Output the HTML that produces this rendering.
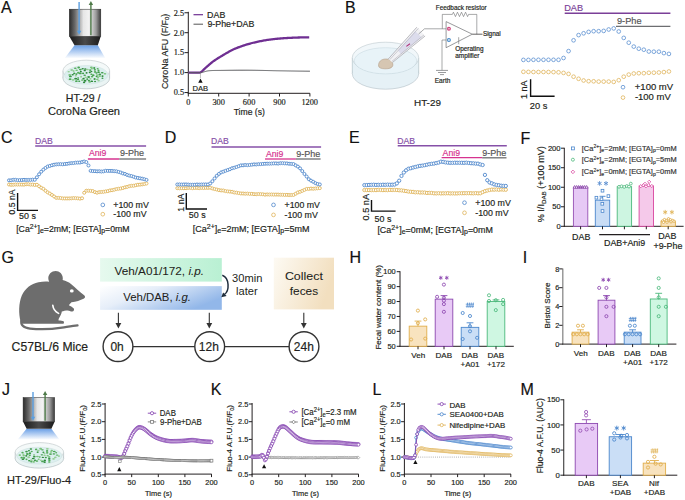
<!DOCTYPE html>
<html><head><meta charset="utf-8"><style>html,body{margin:0;padding:0;background:#fff;}svg{display:block;}</style></head>
<body><svg width="685" height="500" viewBox="0 0 685 500">
<rect width="685" height="500" fill="#fff"/>
<text x="1.10" y="12.60" font-size="16" font-family='"Liberation Sans", sans-serif' fill="#111" stroke="#111" stroke-width="0.18">A</text>
<text x="345.10" y="13.30" font-size="16" font-family='"Liberation Sans", sans-serif' fill="#111" stroke="#111" stroke-width="0.18">B</text>
<text x="1.00" y="143.30" font-size="16" font-family='"Liberation Sans", sans-serif' fill="#111" stroke="#111" stroke-width="0.18">C</text>
<text x="164.70" y="143.40" font-size="16" font-family='"Liberation Sans", sans-serif' fill="#111" stroke="#111" stroke-width="0.18">D</text>
<text x="348.90" y="143.40" font-size="16" font-family='"Liberation Sans", sans-serif' fill="#111" stroke="#111" stroke-width="0.18">E</text>
<text x="520.50" y="143.60" font-size="16" font-family='"Liberation Sans", sans-serif' fill="#111" stroke="#111" stroke-width="0.18">F</text>
<text x="1.40" y="262.60" font-size="16" font-family='"Liberation Sans", sans-serif' fill="#111" stroke="#111" stroke-width="0.18">G</text>
<text x="349.60" y="263.30" font-size="16" font-family='"Liberation Sans", sans-serif' fill="#111" stroke="#111" stroke-width="0.18">H</text>
<text x="522.70" y="262.60" font-size="16" font-family='"Liberation Sans", sans-serif' fill="#111" stroke="#111" stroke-width="0.18">I</text>
<text x="1.90" y="394.80" font-size="16" font-family='"Liberation Sans", sans-serif' fill="#111" stroke="#111" stroke-width="0.18">J</text>
<text x="210.70" y="394.50" font-size="16" font-family='"Liberation Sans", sans-serif' fill="#111" stroke="#111" stroke-width="0.18">K</text>
<text x="372.60" y="394.50" font-size="16" font-family='"Liberation Sans", sans-serif' fill="#111" stroke="#111" stroke-width="0.18">L</text>
<text x="520.50" y="394.80" font-size="16" font-family='"Liberation Sans", sans-serif' fill="#111" stroke="#111" stroke-width="0.18">M</text>
<defs>
<linearGradient id="obja" x1="0" x2="1" y1="0" y2="0">
<stop offset="0" stop-color="#2b2b2b"/><stop offset="0.18" stop-color="#6a6a6a"/><stop offset="0.45" stop-color="#e6e6e6"/><stop offset="0.62" stop-color="#f2f2f2"/><stop offset="0.85" stop-color="#9a9a9a"/><stop offset="1" stop-color="#3a3a3a"/></linearGradient>
<linearGradient id="objba" x1="0" x2="1" y1="0" y2="0">
<stop offset="0" stop-color="#1a1a1a"/><stop offset="0.5" stop-color="#4a4a4a"/><stop offset="1" stop-color="#1a1a1a"/></linearGradient>
<linearGradient id="conea" x1="0" x2="0" y1="0" y2="1">
<stop offset="0" stop-color="#6a9fe6"/><stop offset="1" stop-color="#ffffff"/></linearGradient>
</defs>
<path d="M74.50,45.20 L97.80,45.20 L105.50,58.50 L64.50,58.50 Z" fill="url(#conea)"/>
<rect x="69.30" y="9.20" width="31.50" height="27.10" fill="url(#obja)" stroke="#222" stroke-width="0.5"/>
<path d="M69.30,36.30 L100.80,36.30 L97.80,45.20 L74.50,45.20 Z" fill="url(#objba)"/>
<line x1="79.1" y1="2.0" x2="79.1" y2="31.799999999999997" stroke="#5b9ee0" stroke-width="1.4"/>
<path d="M76.89999999999999,30.799999999999997 L81.3,30.799999999999997 L79.1,34.8 Z" fill="#5b9ee0"/>
<line x1="90.9" y1="35.2" x2="90.9" y2="4.0" stroke="#4e7a48" stroke-width="1.4"/>
<path d="M88.7,5.0 L93.10000000000001,5.0 L90.9,1.0 Z" fill="#4e7a48"/>
<ellipse cx="86.3" cy="78.2" rx="23.3" ry="10.6" fill="#eaf4f4" stroke="#b4bfc1" stroke-width="0.7"/>
<rect x="63.0" y="70.8" width="46.6" height="7.4" fill="#eaf4f4"/>
<line x1="63.0" y1="70.8" x2="63.0" y2="78.2" stroke="#b4bfc1" stroke-width="0.7"/>
<line x1="109.6" y1="70.8" x2="109.6" y2="78.2" stroke="#b4bfc1" stroke-width="0.7"/>
<ellipse cx="86.3" cy="70.8" rx="23.3" ry="10.6" fill="#f4f9f9" stroke="#c4cccd" stroke-width="0.7"/>
<ellipse cx="86.3" cy="74.87" rx="21.669" ry="9.328" fill="#dcefef" stroke="#cddede" stroke-width="0.5"/>
<ellipse cx="75.80" cy="75.64" rx="1.06" ry="0.93" fill="#96cf96"/>
<ellipse cx="81.09" cy="76.68" rx="1.03" ry="0.88" fill="#96cf96"/>
<ellipse cx="91.34" cy="67.32" rx="1.49" ry="0.94" fill="#7bc27b"/>
<ellipse cx="76.66" cy="70.25" rx="1.24" ry="0.84" fill="#7bc27b"/>
<ellipse cx="99.78" cy="74.46" rx="1.41" ry="0.86" fill="#3d9a48"/>
<ellipse cx="91.87" cy="68.80" rx="1.16" ry="0.71" fill="#7bc27b"/>
<ellipse cx="91.70" cy="81.27" rx="1.48" ry="0.85" fill="#2e8a3a"/>
<ellipse cx="87.23" cy="79.06" rx="1.05" ry="0.87" fill="#3d9a48"/>
<ellipse cx="96.65" cy="76.45" rx="1.09" ry="0.71" fill="#3d9a48"/>
<ellipse cx="95.07" cy="81.46" rx="1.09" ry="0.83" fill="#3d9a48"/>
<ellipse cx="82.09" cy="80.10" rx="1.10" ry="0.94" fill="#7bc27b"/>
<ellipse cx="84.08" cy="82.44" rx="1.17" ry="0.82" fill="#2e8a3a"/>
<ellipse cx="71.71" cy="69.95" rx="1.47" ry="0.71" fill="#7bc27b"/>
<ellipse cx="104.95" cy="73.76" rx="1.38" ry="0.86" fill="#7bc27b"/>
<ellipse cx="91.38" cy="71.41" rx="1.04" ry="0.77" fill="#2e8a3a"/>
<ellipse cx="86.59" cy="72.89" rx="1.06" ry="0.80" fill="#2e8a3a"/>
<ellipse cx="89.68" cy="81.90" rx="1.27" ry="0.89" fill="#7bc27b"/>
<ellipse cx="102.52" cy="76.07" rx="1.09" ry="0.88" fill="#2e8a3a"/>
<ellipse cx="94.87" cy="69.85" rx="1.19" ry="0.93" fill="#4aa552"/>
<ellipse cx="99.59" cy="76.15" rx="1.46" ry="0.79" fill="#7bc27b"/>
<ellipse cx="82.71" cy="68.80" rx="1.22" ry="0.81" fill="#2e8a3a"/>
<ellipse cx="78.04" cy="79.54" rx="1.24" ry="0.77" fill="#4aa552"/>
<ellipse cx="95.05" cy="71.93" rx="1.25" ry="0.89" fill="#55ad5a"/>
<ellipse cx="78.67" cy="67.52" rx="1.35" ry="0.94" fill="#4aa552"/>
<ellipse cx="74.17" cy="73.27" rx="1.08" ry="0.88" fill="#3d9a48"/>
<ellipse cx="102.20" cy="72.75" rx="1.41" ry="0.72" fill="#3d9a48"/>
<ellipse cx="84.71" cy="75.22" rx="1.34" ry="0.72" fill="#4aa552"/>
<ellipse cx="92.07" cy="76.53" rx="1.30" ry="0.90" fill="#55ad5a"/>
<ellipse cx="88.67" cy="76.96" rx="1.44" ry="0.92" fill="#3d9a48"/>
<ellipse cx="83.54" cy="78.70" rx="1.23" ry="0.92" fill="#2e8a3a"/>
<ellipse cx="91.40" cy="74.28" rx="1.17" ry="0.79" fill="#4aa552"/>
<ellipse cx="94.59" cy="79.01" rx="1.10" ry="0.90" fill="#3d9a48"/>
<ellipse cx="76.33" cy="74.11" rx="1.17" ry="0.78" fill="#3d9a48"/>
<ellipse cx="80.85" cy="71.61" rx="1.04" ry="0.86" fill="#2e8a3a"/>
<ellipse cx="78.30" cy="72.73" rx="1.34" ry="0.94" fill="#55ad5a"/>
<ellipse cx="98.48" cy="70.33" rx="1.07" ry="0.95" fill="#4aa552"/>
<ellipse cx="94.24" cy="67.95" rx="1.11" ry="0.94" fill="#3d9a48"/>
<ellipse cx="75.28" cy="68.28" rx="1.43" ry="0.83" fill="#55ad5a"/>
<ellipse cx="87.49" cy="69.49" rx="1.39" ry="0.85" fill="#96cf96"/>
<ellipse cx="98.59" cy="80.75" rx="1.39" ry="0.82" fill="#96cf96"/>
<ellipse cx="73.62" cy="71.02" rx="1.04" ry="0.91" fill="#96cf96"/>
<ellipse cx="98.57" cy="72.18" rx="1.30" ry="0.91" fill="#3d9a48"/>
<ellipse cx="83.08" cy="73.30" rx="1.10" ry="0.92" fill="#3d9a48"/>
<ellipse cx="102.48" cy="78.24" rx="1.05" ry="0.80" fill="#3d9a48"/>
<ellipse cx="76.38" cy="81.16" rx="1.31" ry="0.86" fill="#4aa552"/>
<ellipse cx="80.36" cy="69.61" rx="1.44" ry="0.79" fill="#4aa552"/>
<ellipse cx="73.13" cy="79.94" rx="1.33" ry="0.89" fill="#96cf96"/>
<ellipse cx="69.71" cy="74.91" rx="1.42" ry="0.85" fill="#7bc27b"/>
<ellipse cx="89.77" cy="72.45" rx="1.10" ry="0.83" fill="#2e8a3a"/>
<ellipse cx="84.73" cy="70.44" rx="1.15" ry="0.86" fill="#2e8a3a"/>
<ellipse cx="98.02" cy="77.78" rx="1.17" ry="0.82" fill="#7bc27b"/>
<ellipse cx="70.40" cy="76.40" rx="1.46" ry="0.87" fill="#3d9a48"/>
<ellipse cx="97.02" cy="75.07" rx="1.21" ry="0.86" fill="#7bc27b"/>
<ellipse cx="68.71" cy="71.81" rx="1.26" ry="0.76" fill="#96cf96"/>
<ellipse cx="88.86" cy="80.57" rx="1.17" ry="0.81" fill="#3d9a48"/>
<ellipse cx="96.46" cy="73.02" rx="1.13" ry="0.78" fill="#3d9a48"/>
<ellipse cx="80.30" cy="73.45" rx="1.47" ry="0.88" fill="#4aa552"/>
<ellipse cx="93.27" cy="75.17" rx="1.31" ry="0.93" fill="#4aa552"/>
<ellipse cx="85.65" cy="77.36" rx="1.43" ry="0.79" fill="#96cf96"/>
<ellipse cx="70.10" cy="79.18" rx="1.45" ry="0.94" fill="#55ad5a"/>
<ellipse cx="85.02" cy="80.69" rx="1.45" ry="0.95" fill="#2e8a3a"/>
<ellipse cx="75.67" cy="78.65" rx="1.50" ry="0.93" fill="#2e8a3a"/>
<ellipse cx="97.22" cy="79.34" rx="1.48" ry="0.70" fill="#7bc27b"/>
<ellipse cx="78.11" cy="77.93" rx="1.01" ry="0.74" fill="#3d9a48"/>
<ellipse cx="90.36" cy="78.81" rx="1.26" ry="0.86" fill="#96cf96"/>
<ellipse cx="79.21" cy="81.31" rx="1.10" ry="0.75" fill="#3d9a48"/>
<ellipse cx="72.71" cy="74.82" rx="1.22" ry="0.79" fill="#2e8a3a"/>
<ellipse cx="90.17" cy="70.07" rx="1.10" ry="0.90" fill="#4aa552"/>
<ellipse cx="97.65" cy="68.67" rx="1.05" ry="0.77" fill="#55ad5a"/>
<ellipse cx="85.28" cy="69.04" rx="1.22" ry="0.75" fill="#2e8a3a"/>
<text x="65.80" y="101.80" font-size="10.6" font-family='"Liberation Sans", sans-serif' fill="#231f20" stroke="#231f20" stroke-width="0.18">HT-29 /</text>
<text x="47.90" y="115.20" font-size="11.1" font-family='"Liberation Sans", sans-serif' fill="#231f20" stroke="#231f20" stroke-width="0.18">CoroNa Green</text>
<line x1="188.30" y1="11.80" x2="188.30" y2="93.80" stroke="#231f20" stroke-width="1"/>
<line x1="187.80" y1="93.30" x2="309.90" y2="93.30" stroke="#231f20" stroke-width="1"/>
<line x1="184.50" y1="92.55" x2="188.30" y2="92.55" stroke="#231f20" stroke-width="1"/>
<text x="173.70" y="95.35" font-size="8.3" font-family='"Liberation Serif", serif' fill="#231f20" stroke="#231f20" stroke-width="0.18">0.5</text>
<line x1="184.50" y1="72.60" x2="188.30" y2="72.60" stroke="#231f20" stroke-width="1"/>
<text x="173.70" y="75.40" font-size="8.3" font-family='"Liberation Serif", serif' fill="#231f20" stroke="#231f20" stroke-width="0.18">1.0</text>
<line x1="184.50" y1="52.65" x2="188.30" y2="52.65" stroke="#231f20" stroke-width="1"/>
<text x="173.70" y="55.45" font-size="8.3" font-family='"Liberation Serif", serif' fill="#231f20" stroke="#231f20" stroke-width="0.18">1.5</text>
<line x1="184.50" y1="32.70" x2="188.30" y2="32.70" stroke="#231f20" stroke-width="1"/>
<text x="173.70" y="35.50" font-size="8.3" font-family='"Liberation Serif", serif' fill="#231f20" stroke="#231f20" stroke-width="0.18">2.0</text>
<line x1="184.50" y1="12.75" x2="188.30" y2="12.75" stroke="#231f20" stroke-width="1"/>
<text x="173.70" y="15.55" font-size="8.3" font-family='"Liberation Serif", serif' fill="#231f20" stroke="#231f20" stroke-width="0.18">2.5</text>
<line x1="188.30" y1="93.30" x2="188.30" y2="96.50" stroke="#231f20" stroke-width="1"/>
<text x="186.25" y="105.20" font-size="8.3" font-family='"Liberation Serif", serif' fill="#231f20" stroke="#231f20" stroke-width="0.18">0</text>
<line x1="218.70" y1="93.30" x2="218.70" y2="96.50" stroke="#231f20" stroke-width="1"/>
<text x="212.45" y="105.20" font-size="8.3" font-family='"Liberation Serif", serif' fill="#231f20" stroke="#231f20" stroke-width="0.18">300</text>
<line x1="249.10" y1="93.30" x2="249.10" y2="96.50" stroke="#231f20" stroke-width="1"/>
<text x="242.85" y="105.20" font-size="8.3" font-family='"Liberation Serif", serif' fill="#231f20" stroke="#231f20" stroke-width="0.18">600</text>
<line x1="279.50" y1="93.30" x2="279.50" y2="96.50" stroke="#231f20" stroke-width="1"/>
<text x="273.30" y="105.20" font-size="8.3" font-family='"Liberation Serif", serif' fill="#231f20" stroke="#231f20" stroke-width="0.18">900</text>
<line x1="309.90" y1="93.30" x2="309.90" y2="96.50" stroke="#231f20" stroke-width="1"/>
<text x="301.40" y="105.20" font-size="8.3" font-family='"Liberation Serif", serif' fill="#231f20" stroke="#231f20" stroke-width="0.18">1200</text>
<text x="233.70" y="115.20" font-size="8.6" font-family='"Liberation Sans", sans-serif' fill="#231f20" stroke="#231f20" stroke-width="0.18">Time (s)</text>
<text transform="translate(164.30,50.50) rotate(-90)" x="-38.55" y="3.20" font-size="8.9" font-family='"Liberation Sans", sans-serif' fill="#231f20" stroke="#231f20" stroke-width="0.18">CoroNa AFU (F/F<tspan font-size="6" dy="1.8">0</tspan><tspan dy="-1.8">)</tspan></text>
<path d="M188.30,72.60 L200.20,72.60 L201.20,71.84 L202.20,71.08 L203.20,70.17 L204.20,69.19 L205.20,68.19 L206.20,67.26 L207.20,66.41 L208.20,65.54 L209.20,64.68 L210.20,63.82 L211.20,62.98 L212.20,62.18 L213.20,61.42 L214.20,60.71 L215.20,60.02 L216.20,59.36 L217.20,58.72 L218.20,58.09 L219.20,57.48 L220.20,56.87 L221.20,56.27 L222.20,55.68 L223.20,55.08 L224.20,54.48 L225.20,53.88 L226.20,53.29 L227.20,52.70 L228.20,52.13 L229.20,51.57 L230.20,51.02 L231.20,50.50 L232.20,50.00 L233.20,49.52 L234.20,49.07 L235.20,48.64 L236.20,48.23 L237.20,47.83 L238.20,47.44 L239.20,47.07 L240.20,46.71 L241.20,46.35 L242.20,45.99 L243.20,45.65 L244.20,45.32 L245.20,44.99 L246.20,44.68 L247.20,44.38 L248.20,44.08 L249.20,43.80 L250.20,43.52 L251.20,43.25 L252.20,42.99 L253.20,42.75 L254.20,42.51 L255.20,42.28 L256.20,42.06 L257.20,41.84 L258.20,41.64 L259.20,41.44 L260.20,41.24 L261.20,41.04 L262.20,40.85 L263.20,40.66 L264.20,40.48 L265.20,40.31 L266.20,40.14 L267.20,39.98 L268.20,39.82 L269.20,39.67 L270.20,39.53 L271.20,39.39 L272.20,39.27 L273.20,39.15 L274.20,39.04 L275.20,38.93 L276.20,38.83 L277.20,38.74 L278.20,38.65 L279.20,38.56 L280.20,38.48 L281.20,38.40 L282.20,38.32 L283.20,38.25 L284.20,38.19 L285.20,38.13 L286.20,38.07 L287.20,38.02 L288.20,37.96 L289.20,37.91 L290.20,37.86 L291.20,37.81 L292.20,37.76 L293.20,37.71 L294.20,37.67 L295.20,37.63 L296.20,37.59 L297.20,37.55 L298.20,37.52 L299.20,37.49 L300.20,37.46 L301.20,37.44 L302.20,37.42 L303.20,37.40 L304.20,37.38 L305.20,37.36 L306.20,37.34 L307.20,37.33 L308.20,37.32 L309.20,37.31" fill="none" stroke="#6f2f92" stroke-width="2.3" stroke-linejoin="round"/>
<path d="M188.30,72.60 L189.31,72.61 L190.33,72.62 L191.34,72.65 L192.35,72.68 L193.37,72.71 L194.38,72.73 L195.39,72.75 L196.41,72.76 L197.42,72.75 L198.43,72.72 L199.45,72.68 L200.46,72.60 L201.47,72.47 L202.49,72.26 L203.50,72.00 L204.51,71.72 L205.53,71.44 L206.54,71.17 L207.55,70.96 L208.57,70.80 L209.58,70.71 L210.59,70.63 L211.61,70.57 L212.62,70.52 L213.63,70.49 L214.65,70.46 L215.66,70.45 L216.67,70.44 L217.69,70.43 L218.70,70.43 L219.71,70.42 L220.73,70.41 L221.74,70.39 L222.75,70.38 L223.77,70.36 L224.78,70.35 L225.79,70.33 L226.81,70.32 L227.82,70.31 L228.83,70.29 L229.85,70.28 L230.86,70.27 L231.87,70.26 L232.89,70.25 L233.90,70.24 L234.91,70.23 L235.93,70.22 L236.94,70.21 L237.95,70.21 L238.97,70.20 L239.98,70.20 L240.99,70.19 L242.01,70.19 L243.02,70.19 L244.03,70.19 L245.05,70.19 L246.06,70.19 L247.07,70.20 L248.09,70.20 L249.10,70.21 L250.11,70.21 L251.13,70.22 L252.14,70.23 L253.15,70.25 L254.17,70.26 L255.18,70.28 L256.19,70.30 L257.21,70.31 L258.22,70.33 L259.23,70.35 L260.25,70.38 L261.26,70.40 L262.27,70.42 L263.29,70.44 L264.30,70.47 L265.31,70.49 L266.33,70.52 L267.34,70.54 L268.35,70.57 L269.37,70.59 L270.38,70.61 L271.39,70.64 L272.41,70.66 L273.42,70.69 L274.43,70.71 L275.45,70.73 L276.46,70.75 L277.47,70.77 L278.49,70.79 L279.50,70.80 L280.51,70.82 L281.53,70.84 L282.54,70.85 L283.55,70.87 L284.57,70.89 L285.58,70.90 L286.59,70.92 L287.61,70.94 L288.62,70.95 L289.63,70.97 L290.65,70.98 L291.66,71.00 L292.67,71.01 L293.69,71.03 L294.70,71.04 L295.71,71.06 L296.73,71.07 L297.74,71.08 L298.75,71.10 L299.77,71.11 L300.78,71.12 L301.79,71.13 L302.81,71.14 L303.82,71.15 L304.83,71.16 L305.85,71.17 L306.86,71.18 L307.87,71.19 L308.89,71.20 L309.90,71.20" fill="none" stroke="#5a5b5e" stroke-width="1.0"/>
<path d="M198.26,82.8 L202.66,82.8 L200.46,78.4 Z" fill="#111"/>
<line x1="200.46" y1="72.80" x2="200.46" y2="78.00" stroke="#999" stroke-width="0.6"/>
<text x="192.50" y="90.60" font-size="7.6" font-family='"Liberation Sans", sans-serif' fill="#231f20" stroke="#231f20" stroke-width="0.18">DAB</text>
<line x1="193.50" y1="14.70" x2="203.00" y2="14.70" stroke="#6f2f92" stroke-width="1.2"/>
<line x1="193.50" y1="24.20" x2="203.00" y2="24.20" stroke="#555" stroke-width="1.0"/>
<text x="207.10" y="17.70" font-size="8.85" font-family='"Liberation Sans", sans-serif' fill="#231f20" stroke="#231f20" stroke-width="0.18">DAB</text>
<text x="207.40" y="27.10" font-size="8.85" font-family='"Liberation Sans", sans-serif' fill="#231f20" stroke="#231f20" stroke-width="0.18">9-Phe+DAB</text>
<ellipse cx="385.5" cy="73.6" rx="33.2" ry="15.6" fill="#e6f1f6" stroke="#b4c0c6" stroke-width="0.6"/>
<rect x="352.3" y="57.8" width="66.4" height="15.8" fill="#e6f1f6"/>
<line x1="352.30" y1="57.80" x2="352.30" y2="73.60" stroke="#aab8bf" stroke-width="0.6"/>
<line x1="418.70" y1="57.80" x2="418.70" y2="73.60" stroke="#aab8bf" stroke-width="0.6"/>
<ellipse cx="385.5" cy="57.8" rx="33.2" ry="15.6" fill="#f1f7fa" stroke="#bcc8cd" stroke-width="0.6"/>
<ellipse cx="385.5" cy="60.8" rx="31.200000000000003" ry="13.1" fill="#e8f3f8" stroke="#c2d4dc" stroke-width="0.5"/>
<path d="M378.6,66.0 C378.2,61.8 381.2,59.1 385.6,59.0 C390.2,58.9 393.2,61.6 392.8,65.4 C392.4,68.0 388.6,68.9 384.8,68.8 C381.2,68.7 378.8,67.8 378.6,66.0 Z" fill="#d6c6b2" stroke="#b49e88" stroke-width="0.6"/>
<path d="M388.2,59.1 L416.8,27.2 L418.6,28.5 L424.0,34.9 L425.1,36.0 L392.6,62.4 Z" fill="#f1f1f4" stroke="none"/>
<path d="M398,50.5 L415.2,31.2 L421.6,37.2 L401,54.2 Z" fill="#dcdcec" stroke="none"/>
<path d="M388.2,59.1 L416.8,27.2" fill="none" stroke="#8c8c92" stroke-width="0.55"/>
<path d="M389.8,59.6 L418.5,28.3" fill="none" stroke="#9a9aa0" stroke-width="0.45"/>
<path d="M392.0,61.3 L424.0,34.9" fill="none" stroke="#9a9aa0" stroke-width="0.45"/>
<path d="M392.6,62.4 L425.1,36.0" fill="none" stroke="#8c8c92" stroke-width="0.55"/>
<path d="M406.3,46.4 L410.0,43.8" fill="none" stroke="#b0307a" stroke-width="1.1"/>
<path d="M418.6,34.0 L424.5,28.8 L446.1,28.8" fill="none" stroke="#6d6e71" stroke-width="0.6"/>
<path d="M442.3,28.8 L442.3,14.4 L452.4,14.4" fill="none" stroke="#6d6e71" stroke-width="0.6"/>
<path d="M452.40,14.40 L453.41,12.20 L455.44,16.60 L457.46,12.20 L459.49,16.60 L461.51,12.20 L463.54,16.60 L465.56,12.20 L467.59,16.60 L468.60,14.40 L476.8,14.4 L476.8,34.2" fill="none" stroke="#6d6e71" stroke-width="0.6"/>
<path d="M446.1,21.6 L446.1,47.7 L472.3,34.2 Z" fill="#fff" stroke="#6d6e71" stroke-width="0.7"/>
<path d="M472.3,34.2 L482.5,34.2" fill="none" stroke="#231f20" stroke-width="0.7"/>
<line x1="458.70" y1="37.20" x2="458.70" y2="44.20" stroke="#6d6e71" stroke-width="0.6"/>
<circle cx="448.90" cy="28.80" r="2.00" fill="#d0457f" stroke="none" stroke-width="1"/>
<line x1="447.80" y1="28.80" x2="450.00" y2="28.80" stroke="#fff" stroke-width="0.7"/>
<circle cx="448.90" cy="40.00" r="2.00" fill="#3d85c6" stroke="none" stroke-width="1"/>
<line x1="447.80" y1="40.00" x2="450.00" y2="40.00" stroke="#fff" stroke-width="0.7"/>
<line x1="448.90" y1="38.90" x2="448.90" y2="41.10" stroke="#fff" stroke-width="0.7"/>
<path d="M446.1,40 L442,40 L442,70.3" fill="none" stroke="#6d6e71" stroke-width="0.6"/>
<line x1="436.00" y1="70.40" x2="448.00" y2="70.40" stroke="#6d6e71" stroke-width="0.7"/>
<line x1="438.00" y1="72.50" x2="446.00" y2="72.50" stroke="#6d6e71" stroke-width="0.7"/>
<line x1="440.00" y1="74.60" x2="444.00" y2="74.60" stroke="#6d6e71" stroke-width="0.7"/>
<text x="435.80" y="9.90" font-size="6.4" font-family='"Liberation Sans", sans-serif' fill="#231f20" stroke="#231f20" stroke-width="0.18">Feedback resistor</text>
<text x="482.90" y="36.40" font-size="6.4" font-family='"Liberation Sans", sans-serif' fill="#231f20" stroke="#231f20" stroke-width="0.18">Signal</text>
<text x="455.20" y="51.40" font-size="6.45" font-family='"Liberation Sans", sans-serif' fill="#231f20" stroke="#231f20" stroke-width="0.18">Operating</text>
<text x="455.20" y="57.80" font-size="6.45" font-family='"Liberation Sans", sans-serif' fill="#231f20" stroke="#231f20" stroke-width="0.18">amplifier</text>
<text x="434.70" y="83.20" font-size="6.6" font-family='"Liberation Sans", sans-serif' fill="#231f20" stroke="#231f20" stroke-width="0.18">Earth</text>
<text x="414.00" y="106.00" font-size="9.9" font-family='"Liberation Sans", sans-serif' fill="#231f20" stroke="#231f20" stroke-width="0.18">HT-29</text>
<circle cx="523.40" cy="71.80" r="1.85" fill="#fff" stroke="#e0b45a" stroke-width="0.8"/>
<circle cx="528.42" cy="71.90" r="1.85" fill="#fff" stroke="#e0b45a" stroke-width="0.8"/>
<circle cx="533.43" cy="72.00" r="1.85" fill="#fff" stroke="#e0b45a" stroke-width="0.8"/>
<circle cx="538.45" cy="72.00" r="1.85" fill="#fff" stroke="#e0b45a" stroke-width="0.8"/>
<circle cx="543.47" cy="72.00" r="1.85" fill="#fff" stroke="#e0b45a" stroke-width="0.8"/>
<circle cx="548.49" cy="72.00" r="1.85" fill="#fff" stroke="#e0b45a" stroke-width="0.8"/>
<circle cx="553.50" cy="72.10" r="1.85" fill="#fff" stroke="#e0b45a" stroke-width="0.8"/>
<circle cx="558.52" cy="72.30" r="1.85" fill="#fff" stroke="#e0b45a" stroke-width="0.8"/>
<circle cx="563.54" cy="72.90" r="1.85" fill="#fff" stroke="#e0b45a" stroke-width="0.8"/>
<circle cx="568.56" cy="73.90" r="1.85" fill="#fff" stroke="#e0b45a" stroke-width="0.8"/>
<circle cx="573.57" cy="76.70" r="1.85" fill="#fff" stroke="#e0b45a" stroke-width="0.8"/>
<circle cx="578.59" cy="78.80" r="1.85" fill="#fff" stroke="#e0b45a" stroke-width="0.8"/>
<circle cx="583.61" cy="80.50" r="1.85" fill="#fff" stroke="#e0b45a" stroke-width="0.8"/>
<circle cx="588.62" cy="81.20" r="1.85" fill="#fff" stroke="#e0b45a" stroke-width="0.8"/>
<circle cx="593.64" cy="81.30" r="1.85" fill="#fff" stroke="#e0b45a" stroke-width="0.8"/>
<circle cx="598.66" cy="81.60" r="1.85" fill="#fff" stroke="#e0b45a" stroke-width="0.8"/>
<circle cx="603.68" cy="81.60" r="1.85" fill="#fff" stroke="#e0b45a" stroke-width="0.8"/>
<circle cx="608.69" cy="81.60" r="1.85" fill="#fff" stroke="#e0b45a" stroke-width="0.8"/>
<circle cx="613.71" cy="81.90" r="1.85" fill="#fff" stroke="#e0b45a" stroke-width="0.8"/>
<circle cx="618.73" cy="80.20" r="1.85" fill="#fff" stroke="#e0b45a" stroke-width="0.8"/>
<circle cx="623.74" cy="76.70" r="1.85" fill="#fff" stroke="#e0b45a" stroke-width="0.8"/>
<circle cx="628.76" cy="74.60" r="1.85" fill="#fff" stroke="#e0b45a" stroke-width="0.8"/>
<circle cx="633.78" cy="73.50" r="1.85" fill="#fff" stroke="#e0b45a" stroke-width="0.8"/>
<circle cx="638.80" cy="73.20" r="1.85" fill="#fff" stroke="#e0b45a" stroke-width="0.8"/>
<circle cx="643.81" cy="73.20" r="1.85" fill="#fff" stroke="#e0b45a" stroke-width="0.8"/>
<circle cx="648.83" cy="72.80" r="1.85" fill="#fff" stroke="#e0b45a" stroke-width="0.8"/>
<circle cx="653.85" cy="72.70" r="1.85" fill="#fff" stroke="#e0b45a" stroke-width="0.8"/>
<circle cx="658.87" cy="72.50" r="1.85" fill="#fff" stroke="#e0b45a" stroke-width="0.8"/>
<circle cx="663.88" cy="72.10" r="1.85" fill="#fff" stroke="#e0b45a" stroke-width="0.8"/>
<circle cx="668.90" cy="71.50" r="1.85" fill="#fff" stroke="#e0b45a" stroke-width="0.8"/>
<circle cx="523.40" cy="59.90" r="1.85" fill="#fff" stroke="#5b8fd0" stroke-width="0.8"/>
<circle cx="528.42" cy="59.90" r="1.85" fill="#fff" stroke="#5b8fd0" stroke-width="0.8"/>
<circle cx="533.43" cy="59.80" r="1.85" fill="#fff" stroke="#5b8fd0" stroke-width="0.8"/>
<circle cx="538.45" cy="59.80" r="1.85" fill="#fff" stroke="#5b8fd0" stroke-width="0.8"/>
<circle cx="543.47" cy="59.80" r="1.85" fill="#fff" stroke="#5b8fd0" stroke-width="0.8"/>
<circle cx="548.49" cy="59.80" r="1.85" fill="#fff" stroke="#5b8fd0" stroke-width="0.8"/>
<circle cx="553.50" cy="59.80" r="1.85" fill="#fff" stroke="#5b8fd0" stroke-width="0.8"/>
<circle cx="558.52" cy="59.80" r="1.85" fill="#fff" stroke="#5b8fd0" stroke-width="0.8"/>
<circle cx="563.54" cy="58.00" r="1.85" fill="#fff" stroke="#5b8fd0" stroke-width="0.8"/>
<circle cx="568.56" cy="51.10" r="1.85" fill="#fff" stroke="#5b8fd0" stroke-width="0.8"/>
<circle cx="573.57" cy="40.30" r="1.85" fill="#fff" stroke="#5b8fd0" stroke-width="0.8"/>
<circle cx="578.59" cy="35.10" r="1.85" fill="#fff" stroke="#5b8fd0" stroke-width="0.8"/>
<circle cx="583.61" cy="33.30" r="1.85" fill="#fff" stroke="#5b8fd0" stroke-width="0.8"/>
<circle cx="588.62" cy="31.90" r="1.85" fill="#fff" stroke="#5b8fd0" stroke-width="0.8"/>
<circle cx="593.64" cy="31.20" r="1.85" fill="#fff" stroke="#5b8fd0" stroke-width="0.8"/>
<circle cx="598.66" cy="31.20" r="1.85" fill="#fff" stroke="#5b8fd0" stroke-width="0.8"/>
<circle cx="603.68" cy="30.90" r="1.85" fill="#fff" stroke="#5b8fd0" stroke-width="0.8"/>
<circle cx="608.69" cy="29.50" r="1.85" fill="#fff" stroke="#5b8fd0" stroke-width="0.8"/>
<circle cx="613.71" cy="28.40" r="1.85" fill="#fff" stroke="#5b8fd0" stroke-width="0.8"/>
<circle cx="618.73" cy="31.50" r="1.85" fill="#fff" stroke="#5b8fd0" stroke-width="0.8"/>
<circle cx="623.74" cy="37.90" r="1.85" fill="#fff" stroke="#5b8fd0" stroke-width="0.8"/>
<circle cx="628.76" cy="42.70" r="1.85" fill="#fff" stroke="#5b8fd0" stroke-width="0.8"/>
<circle cx="633.78" cy="46.60" r="1.85" fill="#fff" stroke="#5b8fd0" stroke-width="0.8"/>
<circle cx="638.80" cy="48.70" r="1.85" fill="#fff" stroke="#5b8fd0" stroke-width="0.8"/>
<circle cx="643.81" cy="49.70" r="1.85" fill="#fff" stroke="#5b8fd0" stroke-width="0.8"/>
<circle cx="648.83" cy="51.50" r="1.85" fill="#fff" stroke="#5b8fd0" stroke-width="0.8"/>
<circle cx="653.85" cy="51.70" r="1.85" fill="#fff" stroke="#5b8fd0" stroke-width="0.8"/>
<circle cx="658.87" cy="51.70" r="1.85" fill="#fff" stroke="#5b8fd0" stroke-width="0.8"/>
<circle cx="663.88" cy="53.10" r="1.85" fill="#fff" stroke="#5b8fd0" stroke-width="0.8"/>
<circle cx="668.90" cy="53.90" r="1.85" fill="#fff" stroke="#5b8fd0" stroke-width="0.8"/>
<line x1="564.70" y1="13.30" x2="670.40" y2="13.30" stroke="#7b3f98" stroke-width="1.4"/>
<text x="564.20" y="11.00" font-size="9.6" font-family='"Liberation Sans", sans-serif' fill="#7b3f98" textLength="18.90" lengthAdjust="spacingAndGlyphs" stroke="#7b3f98" stroke-width="0.18">DAB</text>
<line x1="616.00" y1="26.30" x2="670.40" y2="26.30" stroke="#6d6e71" stroke-width="1.3"/>
<text x="617.00" y="24.00" font-size="9.2" font-family='"Liberation Sans", sans-serif' fill="#555" stroke="#555" stroke-width="0.18">9-Phe</text>
<path d="M530.6,79.2 L530.6,96.3 L554.6,96.3" fill="none" stroke="#111" stroke-width="1.4"/>
<text x="529.80" y="108.50" font-size="9.3" font-family='"Liberation Sans", sans-serif' fill="#231f20" stroke="#231f20" stroke-width="0.18">20 s</text>
<text transform="translate(523.50,89.40) rotate(-90)" x="-9.60" y="3.10" font-size="9.0" font-family='"Liberation Sans", sans-serif' fill="#231f20" stroke="#231f20" stroke-width="0.18">1 nA</text>
<circle cx="623.00" cy="87.20" r="1.85" fill="#fff" stroke="#5b8fd0" stroke-width="0.8"/>
<circle cx="623.00" cy="97.60" r="1.85" fill="#fff" stroke="#e0b45a" stroke-width="0.8"/>
<text x="634.80" y="90.20" font-size="9.5" font-family='"Liberation Sans", sans-serif' fill="#231f20" stroke="#231f20" stroke-width="0.18">+100 mV</text>
<text x="634.90" y="100.40" font-size="9.5" font-family='"Liberation Sans", sans-serif' fill="#231f20" stroke="#231f20" stroke-width="0.18">-100 mV</text>
<circle cx="9.00" cy="184.52" r="1.50" fill="#fff" stroke="#e0b45a" stroke-width="0.9"/>
<circle cx="11.15" cy="184.84" r="1.50" fill="#fff" stroke="#e0b45a" stroke-width="0.9"/>
<circle cx="13.30" cy="184.77" r="1.50" fill="#fff" stroke="#e0b45a" stroke-width="0.9"/>
<circle cx="15.45" cy="184.49" r="1.50" fill="#fff" stroke="#e0b45a" stroke-width="0.9"/>
<circle cx="17.59" cy="184.57" r="1.50" fill="#fff" stroke="#e0b45a" stroke-width="0.9"/>
<circle cx="19.74" cy="184.52" r="1.50" fill="#fff" stroke="#e0b45a" stroke-width="0.9"/>
<circle cx="21.89" cy="184.59" r="1.50" fill="#fff" stroke="#e0b45a" stroke-width="0.9"/>
<circle cx="24.04" cy="184.63" r="1.50" fill="#fff" stroke="#e0b45a" stroke-width="0.9"/>
<circle cx="26.19" cy="184.25" r="1.50" fill="#fff" stroke="#e0b45a" stroke-width="0.9"/>
<circle cx="28.34" cy="184.19" r="1.50" fill="#fff" stroke="#e0b45a" stroke-width="0.9"/>
<circle cx="30.48" cy="184.61" r="1.50" fill="#fff" stroke="#e0b45a" stroke-width="0.9"/>
<circle cx="32.63" cy="184.59" r="1.50" fill="#fff" stroke="#e0b45a" stroke-width="0.9"/>
<circle cx="34.78" cy="184.94" r="1.50" fill="#fff" stroke="#e0b45a" stroke-width="0.9"/>
<circle cx="36.93" cy="184.75" r="1.50" fill="#fff" stroke="#e0b45a" stroke-width="0.9"/>
<circle cx="39.08" cy="186.28" r="1.50" fill="#fff" stroke="#e0b45a" stroke-width="0.9"/>
<circle cx="41.23" cy="187.77" r="1.50" fill="#fff" stroke="#e0b45a" stroke-width="0.9"/>
<circle cx="43.38" cy="188.87" r="1.50" fill="#fff" stroke="#e0b45a" stroke-width="0.9"/>
<circle cx="45.52" cy="190.78" r="1.50" fill="#fff" stroke="#e0b45a" stroke-width="0.9"/>
<circle cx="47.67" cy="192.38" r="1.50" fill="#fff" stroke="#e0b45a" stroke-width="0.9"/>
<circle cx="49.82" cy="193.57" r="1.50" fill="#fff" stroke="#e0b45a" stroke-width="0.9"/>
<circle cx="51.97" cy="195.01" r="1.50" fill="#fff" stroke="#e0b45a" stroke-width="0.9"/>
<circle cx="54.12" cy="196.49" r="1.50" fill="#fff" stroke="#e0b45a" stroke-width="0.9"/>
<circle cx="56.27" cy="197.90" r="1.50" fill="#fff" stroke="#e0b45a" stroke-width="0.9"/>
<circle cx="58.41" cy="197.88" r="1.50" fill="#fff" stroke="#e0b45a" stroke-width="0.9"/>
<circle cx="60.56" cy="198.05" r="1.50" fill="#fff" stroke="#e0b45a" stroke-width="0.9"/>
<circle cx="62.71" cy="198.40" r="1.50" fill="#fff" stroke="#e0b45a" stroke-width="0.9"/>
<circle cx="64.86" cy="198.45" r="1.50" fill="#fff" stroke="#e0b45a" stroke-width="0.9"/>
<circle cx="67.01" cy="198.45" r="1.50" fill="#fff" stroke="#e0b45a" stroke-width="0.9"/>
<circle cx="69.16" cy="198.43" r="1.50" fill="#fff" stroke="#e0b45a" stroke-width="0.9"/>
<circle cx="71.30" cy="198.34" r="1.50" fill="#fff" stroke="#e0b45a" stroke-width="0.9"/>
<circle cx="73.45" cy="198.09" r="1.50" fill="#fff" stroke="#e0b45a" stroke-width="0.9"/>
<circle cx="75.60" cy="198.19" r="1.50" fill="#fff" stroke="#e0b45a" stroke-width="0.9"/>
<circle cx="77.75" cy="198.34" r="1.50" fill="#fff" stroke="#e0b45a" stroke-width="0.9"/>
<circle cx="79.90" cy="198.62" r="1.50" fill="#fff" stroke="#e0b45a" stroke-width="0.9"/>
<circle cx="82.05" cy="198.25" r="1.50" fill="#fff" stroke="#e0b45a" stroke-width="0.9"/>
<circle cx="84.20" cy="192.78" r="1.50" fill="#fff" stroke="#e0b45a" stroke-width="0.9"/>
<circle cx="86.34" cy="190.73" r="1.50" fill="#fff" stroke="#e0b45a" stroke-width="0.9"/>
<circle cx="88.49" cy="190.69" r="1.50" fill="#fff" stroke="#e0b45a" stroke-width="0.9"/>
<circle cx="90.64" cy="190.84" r="1.50" fill="#fff" stroke="#e0b45a" stroke-width="0.9"/>
<circle cx="92.79" cy="191.08" r="1.50" fill="#fff" stroke="#e0b45a" stroke-width="0.9"/>
<circle cx="94.94" cy="192.12" r="1.50" fill="#fff" stroke="#e0b45a" stroke-width="0.9"/>
<circle cx="97.09" cy="192.69" r="1.50" fill="#fff" stroke="#e0b45a" stroke-width="0.9"/>
<circle cx="99.23" cy="192.14" r="1.50" fill="#fff" stroke="#e0b45a" stroke-width="0.9"/>
<circle cx="101.38" cy="191.94" r="1.50" fill="#fff" stroke="#e0b45a" stroke-width="0.9"/>
<circle cx="103.53" cy="191.82" r="1.50" fill="#fff" stroke="#e0b45a" stroke-width="0.9"/>
<circle cx="105.68" cy="191.40" r="1.50" fill="#fff" stroke="#e0b45a" stroke-width="0.9"/>
<circle cx="107.83" cy="191.09" r="1.50" fill="#fff" stroke="#e0b45a" stroke-width="0.9"/>
<circle cx="109.98" cy="190.42" r="1.50" fill="#fff" stroke="#e0b45a" stroke-width="0.9"/>
<circle cx="112.12" cy="190.20" r="1.50" fill="#fff" stroke="#e0b45a" stroke-width="0.9"/>
<circle cx="114.27" cy="189.68" r="1.50" fill="#fff" stroke="#e0b45a" stroke-width="0.9"/>
<circle cx="116.42" cy="189.06" r="1.50" fill="#fff" stroke="#e0b45a" stroke-width="0.9"/>
<circle cx="118.57" cy="188.76" r="1.50" fill="#fff" stroke="#e0b45a" stroke-width="0.9"/>
<circle cx="120.72" cy="188.47" r="1.50" fill="#fff" stroke="#e0b45a" stroke-width="0.9"/>
<circle cx="122.87" cy="187.99" r="1.50" fill="#fff" stroke="#e0b45a" stroke-width="0.9"/>
<circle cx="125.02" cy="187.34" r="1.50" fill="#fff" stroke="#e0b45a" stroke-width="0.9"/>
<circle cx="127.16" cy="186.92" r="1.50" fill="#fff" stroke="#e0b45a" stroke-width="0.9"/>
<circle cx="129.31" cy="186.17" r="1.50" fill="#fff" stroke="#e0b45a" stroke-width="0.9"/>
<circle cx="131.46" cy="185.80" r="1.50" fill="#fff" stroke="#e0b45a" stroke-width="0.9"/>
<circle cx="133.61" cy="185.74" r="1.50" fill="#fff" stroke="#e0b45a" stroke-width="0.9"/>
<circle cx="135.76" cy="185.22" r="1.50" fill="#fff" stroke="#e0b45a" stroke-width="0.9"/>
<circle cx="137.91" cy="184.76" r="1.50" fill="#fff" stroke="#e0b45a" stroke-width="0.9"/>
<circle cx="140.05" cy="184.62" r="1.50" fill="#fff" stroke="#e0b45a" stroke-width="0.9"/>
<circle cx="142.20" cy="184.36" r="1.50" fill="#fff" stroke="#e0b45a" stroke-width="0.9"/>
<circle cx="144.35" cy="184.02" r="1.50" fill="#fff" stroke="#e0b45a" stroke-width="0.9"/>
<circle cx="146.50" cy="183.54" r="1.50" fill="#fff" stroke="#e0b45a" stroke-width="0.9"/>
<circle cx="9.00" cy="180.33" r="1.50" fill="#fff" stroke="#5088cc" stroke-width="0.9"/>
<circle cx="11.15" cy="180.30" r="1.50" fill="#fff" stroke="#5088cc" stroke-width="0.9"/>
<circle cx="13.30" cy="179.83" r="1.50" fill="#fff" stroke="#5088cc" stroke-width="0.9"/>
<circle cx="15.45" cy="179.82" r="1.50" fill="#fff" stroke="#5088cc" stroke-width="0.9"/>
<circle cx="17.59" cy="180.17" r="1.50" fill="#fff" stroke="#5088cc" stroke-width="0.9"/>
<circle cx="19.74" cy="180.10" r="1.50" fill="#fff" stroke="#5088cc" stroke-width="0.9"/>
<circle cx="21.89" cy="180.04" r="1.50" fill="#fff" stroke="#5088cc" stroke-width="0.9"/>
<circle cx="24.04" cy="179.83" r="1.50" fill="#fff" stroke="#5088cc" stroke-width="0.9"/>
<circle cx="26.19" cy="179.96" r="1.50" fill="#fff" stroke="#5088cc" stroke-width="0.9"/>
<circle cx="28.34" cy="179.93" r="1.50" fill="#fff" stroke="#5088cc" stroke-width="0.9"/>
<circle cx="30.48" cy="179.90" r="1.50" fill="#fff" stroke="#5088cc" stroke-width="0.9"/>
<circle cx="32.63" cy="179.66" r="1.50" fill="#fff" stroke="#5088cc" stroke-width="0.9"/>
<circle cx="34.78" cy="179.77" r="1.50" fill="#fff" stroke="#5088cc" stroke-width="0.9"/>
<circle cx="36.93" cy="177.28" r="1.50" fill="#fff" stroke="#5088cc" stroke-width="0.9"/>
<circle cx="39.08" cy="174.26" r="1.50" fill="#fff" stroke="#5088cc" stroke-width="0.9"/>
<circle cx="41.23" cy="171.70" r="1.50" fill="#fff" stroke="#5088cc" stroke-width="0.9"/>
<circle cx="43.38" cy="169.60" r="1.50" fill="#fff" stroke="#5088cc" stroke-width="0.9"/>
<circle cx="45.52" cy="167.95" r="1.50" fill="#fff" stroke="#5088cc" stroke-width="0.9"/>
<circle cx="47.67" cy="166.53" r="1.50" fill="#fff" stroke="#5088cc" stroke-width="0.9"/>
<circle cx="49.82" cy="165.90" r="1.50" fill="#fff" stroke="#5088cc" stroke-width="0.9"/>
<circle cx="51.97" cy="165.25" r="1.50" fill="#fff" stroke="#5088cc" stroke-width="0.9"/>
<circle cx="54.12" cy="164.71" r="1.50" fill="#fff" stroke="#5088cc" stroke-width="0.9"/>
<circle cx="56.27" cy="164.39" r="1.50" fill="#fff" stroke="#5088cc" stroke-width="0.9"/>
<circle cx="58.41" cy="164.21" r="1.50" fill="#fff" stroke="#5088cc" stroke-width="0.9"/>
<circle cx="60.56" cy="164.14" r="1.50" fill="#fff" stroke="#5088cc" stroke-width="0.9"/>
<circle cx="62.71" cy="164.30" r="1.50" fill="#fff" stroke="#5088cc" stroke-width="0.9"/>
<circle cx="64.86" cy="164.02" r="1.50" fill="#fff" stroke="#5088cc" stroke-width="0.9"/>
<circle cx="67.01" cy="163.82" r="1.50" fill="#fff" stroke="#5088cc" stroke-width="0.9"/>
<circle cx="69.16" cy="163.44" r="1.50" fill="#fff" stroke="#5088cc" stroke-width="0.9"/>
<circle cx="71.30" cy="163.12" r="1.50" fill="#fff" stroke="#5088cc" stroke-width="0.9"/>
<circle cx="73.45" cy="163.05" r="1.50" fill="#fff" stroke="#5088cc" stroke-width="0.9"/>
<circle cx="75.60" cy="162.67" r="1.50" fill="#fff" stroke="#5088cc" stroke-width="0.9"/>
<circle cx="77.75" cy="162.57" r="1.50" fill="#fff" stroke="#5088cc" stroke-width="0.9"/>
<circle cx="79.90" cy="162.52" r="1.50" fill="#fff" stroke="#5088cc" stroke-width="0.9"/>
<circle cx="82.05" cy="162.06" r="1.50" fill="#fff" stroke="#5088cc" stroke-width="0.9"/>
<circle cx="84.20" cy="161.51" r="1.50" fill="#fff" stroke="#5088cc" stroke-width="0.9"/>
<circle cx="86.34" cy="162.09" r="1.50" fill="#fff" stroke="#5088cc" stroke-width="0.9"/>
<circle cx="88.49" cy="165.49" r="1.50" fill="#fff" stroke="#5088cc" stroke-width="0.9"/>
<circle cx="90.64" cy="170.83" r="1.50" fill="#fff" stroke="#5088cc" stroke-width="0.9"/>
<circle cx="92.79" cy="171.08" r="1.50" fill="#fff" stroke="#5088cc" stroke-width="0.9"/>
<circle cx="94.94" cy="171.16" r="1.50" fill="#fff" stroke="#5088cc" stroke-width="0.9"/>
<circle cx="97.09" cy="171.33" r="1.50" fill="#fff" stroke="#5088cc" stroke-width="0.9"/>
<circle cx="99.23" cy="171.26" r="1.50" fill="#fff" stroke="#5088cc" stroke-width="0.9"/>
<circle cx="101.38" cy="171.54" r="1.50" fill="#fff" stroke="#5088cc" stroke-width="0.9"/>
<circle cx="103.53" cy="171.35" r="1.50" fill="#fff" stroke="#5088cc" stroke-width="0.9"/>
<circle cx="105.68" cy="170.78" r="1.50" fill="#fff" stroke="#5088cc" stroke-width="0.9"/>
<circle cx="107.83" cy="170.91" r="1.50" fill="#fff" stroke="#5088cc" stroke-width="0.9"/>
<circle cx="109.98" cy="170.90" r="1.50" fill="#fff" stroke="#5088cc" stroke-width="0.9"/>
<circle cx="112.12" cy="170.95" r="1.50" fill="#fff" stroke="#5088cc" stroke-width="0.9"/>
<circle cx="114.27" cy="171.15" r="1.50" fill="#fff" stroke="#5088cc" stroke-width="0.9"/>
<circle cx="116.42" cy="171.30" r="1.50" fill="#fff" stroke="#5088cc" stroke-width="0.9"/>
<circle cx="118.57" cy="171.95" r="1.50" fill="#fff" stroke="#5088cc" stroke-width="0.9"/>
<circle cx="120.72" cy="172.50" r="1.50" fill="#fff" stroke="#5088cc" stroke-width="0.9"/>
<circle cx="122.87" cy="173.42" r="1.50" fill="#fff" stroke="#5088cc" stroke-width="0.9"/>
<circle cx="125.02" cy="173.94" r="1.50" fill="#fff" stroke="#5088cc" stroke-width="0.9"/>
<circle cx="127.16" cy="174.93" r="1.50" fill="#fff" stroke="#5088cc" stroke-width="0.9"/>
<circle cx="129.31" cy="175.60" r="1.50" fill="#fff" stroke="#5088cc" stroke-width="0.9"/>
<circle cx="131.46" cy="176.05" r="1.50" fill="#fff" stroke="#5088cc" stroke-width="0.9"/>
<circle cx="133.61" cy="176.77" r="1.50" fill="#fff" stroke="#5088cc" stroke-width="0.9"/>
<circle cx="135.76" cy="177.56" r="1.50" fill="#fff" stroke="#5088cc" stroke-width="0.9"/>
<circle cx="137.91" cy="177.95" r="1.50" fill="#fff" stroke="#5088cc" stroke-width="0.9"/>
<circle cx="140.05" cy="178.32" r="1.50" fill="#fff" stroke="#5088cc" stroke-width="0.9"/>
<circle cx="142.20" cy="178.68" r="1.50" fill="#fff" stroke="#5088cc" stroke-width="0.9"/>
<circle cx="144.35" cy="179.22" r="1.50" fill="#fff" stroke="#5088cc" stroke-width="0.9"/>
<circle cx="146.50" cy="179.90" r="1.50" fill="#fff" stroke="#5088cc" stroke-width="0.9"/>
<line x1="35.20" y1="146.00" x2="146.10" y2="146.00" stroke="#8650a8" stroke-width="1.5"/>
<text x="35.00" y="143.70" font-size="9.3" font-family='"Liberation Sans", sans-serif' fill="#8650a8" textLength="17.80" lengthAdjust="spacingAndGlyphs" stroke="#8650a8" stroke-width="0.18">DAB</text>
<line x1="87.90" y1="159.00" x2="119.20" y2="159.00" stroke="#d6338f" stroke-width="1.3"/>
<text x="88.90" y="155.80" font-size="8.7" font-family='"Liberation Sans", sans-serif' fill="#d6338f" stroke="#d6338f" stroke-width="0.18">Ani9</text>
<line x1="119.20" y1="159.00" x2="146.10" y2="159.00" stroke="#6d6e71" stroke-width="1.3"/>
<text x="119.90" y="155.60" font-size="9.0" font-family='"Liberation Sans", sans-serif' fill="#555" stroke="#555" stroke-width="0.18">9-Phe</text>
<path d="M17.6,193.0 L17.6,210.4 L38.0,210.4" fill="none" stroke="#111" stroke-width="1.4"/>
<text transform="translate(12.00,201.90) rotate(-90)" x="-12.55" y="3.00" font-size="8.6" font-family='"Liberation Sans", sans-serif' fill="#231f20" stroke="#231f20" stroke-width="0.18">0.5 nA</text>
<text x="19.10" y="219.40" font-size="8.9" font-family='"Liberation Sans", sans-serif' fill="#231f20" stroke="#231f20" stroke-width="0.18">50 s</text>
<circle cx="102.80" cy="204.90" r="1.85" fill="#fff" stroke="#5088cc" stroke-width="0.8"/>
<text x="113.30" y="207.90" font-size="8.8" font-family='"Liberation Sans", sans-serif' fill="#231f20" stroke="#231f20" stroke-width="0.18">+100 mV</text>
<circle cx="102.80" cy="214.20" r="1.85" fill="#fff" stroke="#e0b45a" stroke-width="0.8"/>
<text x="113.30" y="217.40" font-size="8.8" font-family='"Liberation Sans", sans-serif' fill="#231f20" stroke="#231f20" stroke-width="0.18">-100 mV</text>
<text x="16.20" y="231.80" font-size="8.6" font-family='"Liberation Sans", sans-serif' fill="#231f20" textLength="113.40" lengthAdjust="spacingAndGlyphs" stroke="#231f20" stroke-width="0.18">[Ca<tspan font-size="6.71" dy="-3.0">2+</tspan><tspan dy="3.0">]</tspan><tspan font-size="6.71" dy="1.6">e</tspan><tspan dy="-1.6">=2mM; [EGTA]</tspan><tspan font-size="6.71" dy="1.6">p</tspan><tspan dy="-1.6">=0mM</tspan></text>
<circle cx="177.30" cy="188.19" r="1.50" fill="#fff" stroke="#e0b45a" stroke-width="0.9"/>
<circle cx="179.49" cy="188.28" r="1.50" fill="#fff" stroke="#e0b45a" stroke-width="0.9"/>
<circle cx="181.68" cy="188.18" r="1.50" fill="#fff" stroke="#e0b45a" stroke-width="0.9"/>
<circle cx="183.88" cy="188.24" r="1.50" fill="#fff" stroke="#e0b45a" stroke-width="0.9"/>
<circle cx="186.07" cy="188.22" r="1.50" fill="#fff" stroke="#e0b45a" stroke-width="0.9"/>
<circle cx="188.26" cy="187.96" r="1.50" fill="#fff" stroke="#e0b45a" stroke-width="0.9"/>
<circle cx="190.45" cy="187.90" r="1.50" fill="#fff" stroke="#e0b45a" stroke-width="0.9"/>
<circle cx="192.65" cy="188.20" r="1.50" fill="#fff" stroke="#e0b45a" stroke-width="0.9"/>
<circle cx="194.84" cy="187.93" r="1.50" fill="#fff" stroke="#e0b45a" stroke-width="0.9"/>
<circle cx="197.03" cy="187.89" r="1.50" fill="#fff" stroke="#e0b45a" stroke-width="0.9"/>
<circle cx="199.22" cy="188.16" r="1.50" fill="#fff" stroke="#e0b45a" stroke-width="0.9"/>
<circle cx="201.42" cy="187.92" r="1.50" fill="#fff" stroke="#e0b45a" stroke-width="0.9"/>
<circle cx="203.61" cy="188.03" r="1.50" fill="#fff" stroke="#e0b45a" stroke-width="0.9"/>
<circle cx="205.80" cy="187.85" r="1.50" fill="#fff" stroke="#e0b45a" stroke-width="0.9"/>
<circle cx="207.99" cy="187.89" r="1.50" fill="#fff" stroke="#e0b45a" stroke-width="0.9"/>
<circle cx="210.18" cy="187.71" r="1.50" fill="#fff" stroke="#e0b45a" stroke-width="0.9"/>
<circle cx="212.38" cy="188.45" r="1.50" fill="#fff" stroke="#e0b45a" stroke-width="0.9"/>
<circle cx="214.57" cy="189.09" r="1.50" fill="#fff" stroke="#e0b45a" stroke-width="0.9"/>
<circle cx="216.76" cy="189.50" r="1.50" fill="#fff" stroke="#e0b45a" stroke-width="0.9"/>
<circle cx="218.95" cy="190.12" r="1.50" fill="#fff" stroke="#e0b45a" stroke-width="0.9"/>
<circle cx="221.15" cy="190.42" r="1.50" fill="#fff" stroke="#e0b45a" stroke-width="0.9"/>
<circle cx="223.34" cy="190.51" r="1.50" fill="#fff" stroke="#e0b45a" stroke-width="0.9"/>
<circle cx="225.53" cy="191.12" r="1.50" fill="#fff" stroke="#e0b45a" stroke-width="0.9"/>
<circle cx="227.72" cy="191.38" r="1.50" fill="#fff" stroke="#e0b45a" stroke-width="0.9"/>
<circle cx="229.92" cy="191.60" r="1.50" fill="#fff" stroke="#e0b45a" stroke-width="0.9"/>
<circle cx="232.11" cy="191.82" r="1.50" fill="#fff" stroke="#e0b45a" stroke-width="0.9"/>
<circle cx="234.30" cy="192.48" r="1.50" fill="#fff" stroke="#e0b45a" stroke-width="0.9"/>
<circle cx="236.49" cy="192.66" r="1.50" fill="#fff" stroke="#e0b45a" stroke-width="0.9"/>
<circle cx="238.68" cy="193.08" r="1.50" fill="#fff" stroke="#e0b45a" stroke-width="0.9"/>
<circle cx="240.88" cy="193.46" r="1.50" fill="#fff" stroke="#e0b45a" stroke-width="0.9"/>
<circle cx="243.07" cy="193.50" r="1.50" fill="#fff" stroke="#e0b45a" stroke-width="0.9"/>
<circle cx="245.26" cy="193.70" r="1.50" fill="#fff" stroke="#e0b45a" stroke-width="0.9"/>
<circle cx="247.45" cy="193.60" r="1.50" fill="#fff" stroke="#e0b45a" stroke-width="0.9"/>
<circle cx="249.65" cy="193.87" r="1.50" fill="#fff" stroke="#e0b45a" stroke-width="0.9"/>
<circle cx="251.84" cy="193.84" r="1.50" fill="#fff" stroke="#e0b45a" stroke-width="0.9"/>
<circle cx="254.03" cy="194.14" r="1.50" fill="#fff" stroke="#e0b45a" stroke-width="0.9"/>
<circle cx="256.22" cy="194.23" r="1.50" fill="#fff" stroke="#e0b45a" stroke-width="0.9"/>
<circle cx="258.42" cy="194.03" r="1.50" fill="#fff" stroke="#e0b45a" stroke-width="0.9"/>
<circle cx="260.61" cy="194.15" r="1.50" fill="#fff" stroke="#e0b45a" stroke-width="0.9"/>
<circle cx="262.80" cy="194.29" r="1.50" fill="#fff" stroke="#e0b45a" stroke-width="0.9"/>
<circle cx="264.99" cy="194.63" r="1.50" fill="#fff" stroke="#e0b45a" stroke-width="0.9"/>
<circle cx="267.18" cy="194.45" r="1.50" fill="#fff" stroke="#e0b45a" stroke-width="0.9"/>
<circle cx="269.38" cy="194.56" r="1.50" fill="#fff" stroke="#e0b45a" stroke-width="0.9"/>
<circle cx="271.57" cy="194.47" r="1.50" fill="#fff" stroke="#e0b45a" stroke-width="0.9"/>
<circle cx="273.76" cy="194.59" r="1.50" fill="#fff" stroke="#e0b45a" stroke-width="0.9"/>
<circle cx="275.95" cy="194.57" r="1.50" fill="#fff" stroke="#e0b45a" stroke-width="0.9"/>
<circle cx="278.15" cy="194.59" r="1.50" fill="#fff" stroke="#e0b45a" stroke-width="0.9"/>
<circle cx="280.34" cy="194.72" r="1.50" fill="#fff" stroke="#e0b45a" stroke-width="0.9"/>
<circle cx="282.53" cy="194.76" r="1.50" fill="#fff" stroke="#e0b45a" stroke-width="0.9"/>
<circle cx="284.72" cy="194.92" r="1.50" fill="#fff" stroke="#e0b45a" stroke-width="0.9"/>
<circle cx="286.92" cy="194.87" r="1.50" fill="#fff" stroke="#e0b45a" stroke-width="0.9"/>
<circle cx="289.11" cy="195.00" r="1.50" fill="#fff" stroke="#e0b45a" stroke-width="0.9"/>
<circle cx="291.30" cy="195.01" r="1.50" fill="#fff" stroke="#e0b45a" stroke-width="0.9"/>
<circle cx="293.49" cy="194.95" r="1.50" fill="#fff" stroke="#e0b45a" stroke-width="0.9"/>
<circle cx="295.68" cy="193.73" r="1.50" fill="#fff" stroke="#e0b45a" stroke-width="0.9"/>
<circle cx="297.88" cy="192.45" r="1.50" fill="#fff" stroke="#e0b45a" stroke-width="0.9"/>
<circle cx="300.07" cy="191.78" r="1.50" fill="#fff" stroke="#e0b45a" stroke-width="0.9"/>
<circle cx="302.26" cy="190.87" r="1.50" fill="#fff" stroke="#e0b45a" stroke-width="0.9"/>
<circle cx="304.45" cy="189.90" r="1.50" fill="#fff" stroke="#e0b45a" stroke-width="0.9"/>
<circle cx="306.65" cy="188.92" r="1.50" fill="#fff" stroke="#e0b45a" stroke-width="0.9"/>
<circle cx="308.84" cy="188.88" r="1.50" fill="#fff" stroke="#e0b45a" stroke-width="0.9"/>
<circle cx="311.03" cy="188.58" r="1.50" fill="#fff" stroke="#e0b45a" stroke-width="0.9"/>
<circle cx="313.22" cy="188.73" r="1.50" fill="#fff" stroke="#e0b45a" stroke-width="0.9"/>
<circle cx="315.42" cy="188.53" r="1.50" fill="#fff" stroke="#e0b45a" stroke-width="0.9"/>
<circle cx="317.61" cy="188.31" r="1.50" fill="#fff" stroke="#e0b45a" stroke-width="0.9"/>
<circle cx="319.80" cy="188.13" r="1.50" fill="#fff" stroke="#e0b45a" stroke-width="0.9"/>
<circle cx="177.30" cy="184.49" r="1.50" fill="#fff" stroke="#5088cc" stroke-width="0.9"/>
<circle cx="179.49" cy="184.44" r="1.50" fill="#fff" stroke="#5088cc" stroke-width="0.9"/>
<circle cx="181.68" cy="184.56" r="1.50" fill="#fff" stroke="#5088cc" stroke-width="0.9"/>
<circle cx="183.88" cy="184.46" r="1.50" fill="#fff" stroke="#5088cc" stroke-width="0.9"/>
<circle cx="186.07" cy="184.43" r="1.50" fill="#fff" stroke="#5088cc" stroke-width="0.9"/>
<circle cx="188.26" cy="184.56" r="1.50" fill="#fff" stroke="#5088cc" stroke-width="0.9"/>
<circle cx="190.45" cy="184.77" r="1.50" fill="#fff" stroke="#5088cc" stroke-width="0.9"/>
<circle cx="192.65" cy="184.72" r="1.50" fill="#fff" stroke="#5088cc" stroke-width="0.9"/>
<circle cx="194.84" cy="184.71" r="1.50" fill="#fff" stroke="#5088cc" stroke-width="0.9"/>
<circle cx="197.03" cy="184.49" r="1.50" fill="#fff" stroke="#5088cc" stroke-width="0.9"/>
<circle cx="199.22" cy="184.61" r="1.50" fill="#fff" stroke="#5088cc" stroke-width="0.9"/>
<circle cx="201.42" cy="184.51" r="1.50" fill="#fff" stroke="#5088cc" stroke-width="0.9"/>
<circle cx="203.61" cy="184.47" r="1.50" fill="#fff" stroke="#5088cc" stroke-width="0.9"/>
<circle cx="205.80" cy="184.44" r="1.50" fill="#fff" stroke="#5088cc" stroke-width="0.9"/>
<circle cx="207.99" cy="184.49" r="1.50" fill="#fff" stroke="#5088cc" stroke-width="0.9"/>
<circle cx="210.18" cy="183.49" r="1.50" fill="#fff" stroke="#5088cc" stroke-width="0.9"/>
<circle cx="212.38" cy="181.21" r="1.50" fill="#fff" stroke="#5088cc" stroke-width="0.9"/>
<circle cx="214.57" cy="178.46" r="1.50" fill="#fff" stroke="#5088cc" stroke-width="0.9"/>
<circle cx="216.76" cy="175.80" r="1.50" fill="#fff" stroke="#5088cc" stroke-width="0.9"/>
<circle cx="218.95" cy="173.91" r="1.50" fill="#fff" stroke="#5088cc" stroke-width="0.9"/>
<circle cx="221.15" cy="172.37" r="1.50" fill="#fff" stroke="#5088cc" stroke-width="0.9"/>
<circle cx="223.34" cy="171.63" r="1.50" fill="#fff" stroke="#5088cc" stroke-width="0.9"/>
<circle cx="225.53" cy="170.81" r="1.50" fill="#fff" stroke="#5088cc" stroke-width="0.9"/>
<circle cx="227.72" cy="170.00" r="1.50" fill="#fff" stroke="#5088cc" stroke-width="0.9"/>
<circle cx="229.92" cy="169.27" r="1.50" fill="#fff" stroke="#5088cc" stroke-width="0.9"/>
<circle cx="232.11" cy="168.22" r="1.50" fill="#fff" stroke="#5088cc" stroke-width="0.9"/>
<circle cx="234.30" cy="167.69" r="1.50" fill="#fff" stroke="#5088cc" stroke-width="0.9"/>
<circle cx="236.49" cy="166.98" r="1.50" fill="#fff" stroke="#5088cc" stroke-width="0.9"/>
<circle cx="238.68" cy="166.18" r="1.50" fill="#fff" stroke="#5088cc" stroke-width="0.9"/>
<circle cx="240.88" cy="165.36" r="1.50" fill="#fff" stroke="#5088cc" stroke-width="0.9"/>
<circle cx="243.07" cy="165.31" r="1.50" fill="#fff" stroke="#5088cc" stroke-width="0.9"/>
<circle cx="245.26" cy="164.98" r="1.50" fill="#fff" stroke="#5088cc" stroke-width="0.9"/>
<circle cx="247.45" cy="165.15" r="1.50" fill="#fff" stroke="#5088cc" stroke-width="0.9"/>
<circle cx="249.65" cy="164.95" r="1.50" fill="#fff" stroke="#5088cc" stroke-width="0.9"/>
<circle cx="251.84" cy="164.65" r="1.50" fill="#fff" stroke="#5088cc" stroke-width="0.9"/>
<circle cx="254.03" cy="164.39" r="1.50" fill="#fff" stroke="#5088cc" stroke-width="0.9"/>
<circle cx="256.22" cy="164.46" r="1.50" fill="#fff" stroke="#5088cc" stroke-width="0.9"/>
<circle cx="258.42" cy="164.15" r="1.50" fill="#fff" stroke="#5088cc" stroke-width="0.9"/>
<circle cx="260.61" cy="164.11" r="1.50" fill="#fff" stroke="#5088cc" stroke-width="0.9"/>
<circle cx="262.80" cy="163.93" r="1.50" fill="#fff" stroke="#5088cc" stroke-width="0.9"/>
<circle cx="264.99" cy="163.75" r="1.50" fill="#fff" stroke="#5088cc" stroke-width="0.9"/>
<circle cx="267.18" cy="163.66" r="1.50" fill="#fff" stroke="#5088cc" stroke-width="0.9"/>
<circle cx="269.38" cy="163.68" r="1.50" fill="#fff" stroke="#5088cc" stroke-width="0.9"/>
<circle cx="271.57" cy="163.57" r="1.50" fill="#fff" stroke="#5088cc" stroke-width="0.9"/>
<circle cx="273.76" cy="163.41" r="1.50" fill="#fff" stroke="#5088cc" stroke-width="0.9"/>
<circle cx="275.95" cy="163.42" r="1.50" fill="#fff" stroke="#5088cc" stroke-width="0.9"/>
<circle cx="278.15" cy="163.57" r="1.50" fill="#fff" stroke="#5088cc" stroke-width="0.9"/>
<circle cx="280.34" cy="163.21" r="1.50" fill="#fff" stroke="#5088cc" stroke-width="0.9"/>
<circle cx="282.53" cy="163.16" r="1.50" fill="#fff" stroke="#5088cc" stroke-width="0.9"/>
<circle cx="284.72" cy="163.37" r="1.50" fill="#fff" stroke="#5088cc" stroke-width="0.9"/>
<circle cx="286.92" cy="163.43" r="1.50" fill="#fff" stroke="#5088cc" stroke-width="0.9"/>
<circle cx="289.11" cy="163.74" r="1.50" fill="#fff" stroke="#5088cc" stroke-width="0.9"/>
<circle cx="291.30" cy="163.91" r="1.50" fill="#fff" stroke="#5088cc" stroke-width="0.9"/>
<circle cx="293.49" cy="164.06" r="1.50" fill="#fff" stroke="#5088cc" stroke-width="0.9"/>
<circle cx="295.68" cy="165.38" r="1.50" fill="#fff" stroke="#5088cc" stroke-width="0.9"/>
<circle cx="297.88" cy="166.61" r="1.50" fill="#fff" stroke="#5088cc" stroke-width="0.9"/>
<circle cx="300.07" cy="168.40" r="1.50" fill="#fff" stroke="#5088cc" stroke-width="0.9"/>
<circle cx="302.26" cy="171.06" r="1.50" fill="#fff" stroke="#5088cc" stroke-width="0.9"/>
<circle cx="304.45" cy="173.97" r="1.50" fill="#fff" stroke="#5088cc" stroke-width="0.9"/>
<circle cx="306.65" cy="176.57" r="1.50" fill="#fff" stroke="#5088cc" stroke-width="0.9"/>
<circle cx="308.84" cy="179.19" r="1.50" fill="#fff" stroke="#5088cc" stroke-width="0.9"/>
<circle cx="311.03" cy="180.66" r="1.50" fill="#fff" stroke="#5088cc" stroke-width="0.9"/>
<circle cx="313.22" cy="181.80" r="1.50" fill="#fff" stroke="#5088cc" stroke-width="0.9"/>
<circle cx="315.42" cy="183.13" r="1.50" fill="#fff" stroke="#5088cc" stroke-width="0.9"/>
<circle cx="317.61" cy="184.02" r="1.50" fill="#fff" stroke="#5088cc" stroke-width="0.9"/>
<circle cx="319.80" cy="184.44" r="1.50" fill="#fff" stroke="#5088cc" stroke-width="0.9"/>
<line x1="211.50" y1="147.00" x2="321.10" y2="147.00" stroke="#8650a8" stroke-width="1.5"/>
<text x="211.10" y="143.90" font-size="9.3" font-family='"Liberation Sans", sans-serif' fill="#8650a8" textLength="17.80" lengthAdjust="spacingAndGlyphs" stroke="#8650a8" stroke-width="0.18">DAB</text>
<line x1="265.00" y1="159.00" x2="295.90" y2="159.00" stroke="#d6338f" stroke-width="1.3"/>
<text x="265.90" y="157.40" font-size="8.7" font-family='"Liberation Sans", sans-serif' fill="#d6338f" stroke="#d6338f" stroke-width="0.18">Ani9</text>
<line x1="295.90" y1="159.00" x2="320.60" y2="159.00" stroke="#6d6e71" stroke-width="1.3"/>
<text x="296.30" y="157.40" font-size="9.0" font-family='"Liberation Sans", sans-serif' fill="#555" stroke="#555" stroke-width="0.18">9-Phe</text>
<path d="M186.3,193.1 L186.3,209.0 L207.0,209.0" fill="none" stroke="#111" stroke-width="1.4"/>
<text transform="translate(181.00,202.30) rotate(-90)" x="-9.35" y="3.05" font-size="8.8" font-family='"Liberation Sans", sans-serif' fill="#231f20" stroke="#231f20" stroke-width="0.18">1 nA</text>
<text x="188.80" y="217.90" font-size="8.9" font-family='"Liberation Sans", sans-serif' fill="#231f20" stroke="#231f20" stroke-width="0.18">50 s</text>
<circle cx="273.50" cy="204.90" r="1.85" fill="#fff" stroke="#5088cc" stroke-width="0.8"/>
<text x="284.50" y="207.90" font-size="8.8" font-family='"Liberation Sans", sans-serif' fill="#231f20" stroke="#231f20" stroke-width="0.18">+100 mV</text>
<circle cx="273.50" cy="214.90" r="1.85" fill="#fff" stroke="#e0b45a" stroke-width="0.8"/>
<text x="284.50" y="217.90" font-size="8.8" font-family='"Liberation Sans", sans-serif' fill="#231f20" stroke="#231f20" stroke-width="0.18">-100 mV</text>
<text x="192.80" y="231.80" font-size="8.6" font-family='"Liberation Sans", sans-serif' fill="#231f20" textLength="116.60" lengthAdjust="spacingAndGlyphs" stroke="#231f20" stroke-width="0.18">[Ca<tspan font-size="6.71" dy="-3.0">2+</tspan><tspan dy="3.0">]</tspan><tspan font-size="6.71" dy="1.6">e</tspan><tspan dy="-1.6">=2mM; [EGTA]</tspan><tspan font-size="6.71" dy="1.6">p</tspan><tspan dy="-1.6">=5mM</tspan></text>
<circle cx="364.40" cy="190.04" r="1.65" fill="#fff" stroke="#e0b45a" stroke-width="0.9"/>
<circle cx="366.72" cy="190.07" r="1.65" fill="#fff" stroke="#e0b45a" stroke-width="0.9"/>
<circle cx="369.04" cy="190.09" r="1.65" fill="#fff" stroke="#e0b45a" stroke-width="0.9"/>
<circle cx="371.35" cy="190.13" r="1.65" fill="#fff" stroke="#e0b45a" stroke-width="0.9"/>
<circle cx="373.67" cy="190.07" r="1.65" fill="#fff" stroke="#e0b45a" stroke-width="0.9"/>
<circle cx="375.99" cy="190.13" r="1.65" fill="#fff" stroke="#e0b45a" stroke-width="0.9"/>
<circle cx="378.31" cy="189.86" r="1.65" fill="#fff" stroke="#e0b45a" stroke-width="0.9"/>
<circle cx="380.63" cy="189.99" r="1.65" fill="#fff" stroke="#e0b45a" stroke-width="0.9"/>
<circle cx="382.94" cy="190.13" r="1.65" fill="#fff" stroke="#e0b45a" stroke-width="0.9"/>
<circle cx="385.26" cy="190.04" r="1.65" fill="#fff" stroke="#e0b45a" stroke-width="0.9"/>
<circle cx="387.58" cy="190.12" r="1.65" fill="#fff" stroke="#e0b45a" stroke-width="0.9"/>
<circle cx="389.90" cy="189.88" r="1.65" fill="#fff" stroke="#e0b45a" stroke-width="0.9"/>
<circle cx="392.22" cy="189.99" r="1.65" fill="#fff" stroke="#e0b45a" stroke-width="0.9"/>
<circle cx="394.53" cy="189.92" r="1.65" fill="#fff" stroke="#e0b45a" stroke-width="0.9"/>
<circle cx="396.85" cy="190.01" r="1.65" fill="#fff" stroke="#e0b45a" stroke-width="0.9"/>
<circle cx="399.17" cy="190.27" r="1.65" fill="#fff" stroke="#e0b45a" stroke-width="0.9"/>
<circle cx="401.49" cy="190.39" r="1.65" fill="#fff" stroke="#e0b45a" stroke-width="0.9"/>
<circle cx="403.81" cy="190.75" r="1.65" fill="#fff" stroke="#e0b45a" stroke-width="0.9"/>
<circle cx="406.12" cy="191.06" r="1.65" fill="#fff" stroke="#e0b45a" stroke-width="0.9"/>
<circle cx="408.44" cy="191.54" r="1.65" fill="#fff" stroke="#e0b45a" stroke-width="0.9"/>
<circle cx="410.76" cy="191.78" r="1.65" fill="#fff" stroke="#e0b45a" stroke-width="0.9"/>
<circle cx="413.08" cy="191.89" r="1.65" fill="#fff" stroke="#e0b45a" stroke-width="0.9"/>
<circle cx="415.40" cy="192.32" r="1.65" fill="#fff" stroke="#e0b45a" stroke-width="0.9"/>
<circle cx="417.71" cy="192.24" r="1.65" fill="#fff" stroke="#e0b45a" stroke-width="0.9"/>
<circle cx="420.03" cy="192.50" r="1.65" fill="#fff" stroke="#e0b45a" stroke-width="0.9"/>
<circle cx="422.35" cy="192.47" r="1.65" fill="#fff" stroke="#e0b45a" stroke-width="0.9"/>
<circle cx="424.67" cy="192.55" r="1.65" fill="#fff" stroke="#e0b45a" stroke-width="0.9"/>
<circle cx="426.99" cy="192.93" r="1.65" fill="#fff" stroke="#e0b45a" stroke-width="0.9"/>
<circle cx="429.30" cy="192.85" r="1.65" fill="#fff" stroke="#e0b45a" stroke-width="0.9"/>
<circle cx="431.62" cy="192.96" r="1.65" fill="#fff" stroke="#e0b45a" stroke-width="0.9"/>
<circle cx="433.94" cy="193.31" r="1.65" fill="#fff" stroke="#e0b45a" stroke-width="0.9"/>
<circle cx="436.26" cy="193.39" r="1.65" fill="#fff" stroke="#e0b45a" stroke-width="0.9"/>
<circle cx="438.58" cy="193.24" r="1.65" fill="#fff" stroke="#e0b45a" stroke-width="0.9"/>
<circle cx="440.90" cy="193.44" r="1.65" fill="#fff" stroke="#e0b45a" stroke-width="0.9"/>
<circle cx="443.21" cy="193.31" r="1.65" fill="#fff" stroke="#e0b45a" stroke-width="0.9"/>
<circle cx="445.53" cy="193.35" r="1.65" fill="#fff" stroke="#e0b45a" stroke-width="0.9"/>
<circle cx="447.85" cy="193.21" r="1.65" fill="#fff" stroke="#e0b45a" stroke-width="0.9"/>
<circle cx="450.17" cy="193.43" r="1.65" fill="#fff" stroke="#e0b45a" stroke-width="0.9"/>
<circle cx="452.49" cy="193.36" r="1.65" fill="#fff" stroke="#e0b45a" stroke-width="0.9"/>
<circle cx="454.80" cy="193.44" r="1.65" fill="#fff" stroke="#e0b45a" stroke-width="0.9"/>
<circle cx="457.12" cy="193.42" r="1.65" fill="#fff" stroke="#e0b45a" stroke-width="0.9"/>
<circle cx="459.44" cy="193.24" r="1.65" fill="#fff" stroke="#e0b45a" stroke-width="0.9"/>
<circle cx="461.76" cy="193.26" r="1.65" fill="#fff" stroke="#e0b45a" stroke-width="0.9"/>
<circle cx="464.08" cy="193.20" r="1.65" fill="#fff" stroke="#e0b45a" stroke-width="0.9"/>
<circle cx="466.39" cy="193.19" r="1.65" fill="#fff" stroke="#e0b45a" stroke-width="0.9"/>
<circle cx="468.71" cy="193.17" r="1.65" fill="#fff" stroke="#e0b45a" stroke-width="0.9"/>
<circle cx="471.03" cy="193.24" r="1.65" fill="#fff" stroke="#e0b45a" stroke-width="0.9"/>
<circle cx="473.35" cy="193.33" r="1.65" fill="#fff" stroke="#e0b45a" stroke-width="0.9"/>
<circle cx="475.67" cy="193.15" r="1.65" fill="#fff" stroke="#e0b45a" stroke-width="0.9"/>
<circle cx="477.98" cy="193.35" r="1.65" fill="#fff" stroke="#e0b45a" stroke-width="0.9"/>
<circle cx="480.30" cy="193.25" r="1.65" fill="#fff" stroke="#e0b45a" stroke-width="0.9"/>
<circle cx="482.62" cy="192.13" r="1.65" fill="#fff" stroke="#e0b45a" stroke-width="0.9"/>
<circle cx="484.94" cy="191.16" r="1.65" fill="#fff" stroke="#e0b45a" stroke-width="0.9"/>
<circle cx="487.26" cy="190.54" r="1.65" fill="#fff" stroke="#e0b45a" stroke-width="0.9"/>
<circle cx="489.57" cy="189.96" r="1.65" fill="#fff" stroke="#e0b45a" stroke-width="0.9"/>
<circle cx="491.89" cy="189.59" r="1.65" fill="#fff" stroke="#e0b45a" stroke-width="0.9"/>
<circle cx="494.21" cy="189.66" r="1.65" fill="#fff" stroke="#e0b45a" stroke-width="0.9"/>
<circle cx="496.53" cy="189.47" r="1.65" fill="#fff" stroke="#e0b45a" stroke-width="0.9"/>
<circle cx="498.85" cy="189.74" r="1.65" fill="#fff" stroke="#e0b45a" stroke-width="0.9"/>
<circle cx="501.16" cy="189.46" r="1.65" fill="#fff" stroke="#e0b45a" stroke-width="0.9"/>
<circle cx="503.48" cy="189.67" r="1.65" fill="#fff" stroke="#e0b45a" stroke-width="0.9"/>
<circle cx="505.80" cy="189.70" r="1.65" fill="#fff" stroke="#e0b45a" stroke-width="0.9"/>
<circle cx="364.40" cy="185.09" r="1.65" fill="#fff" stroke="#5088cc" stroke-width="0.9"/>
<circle cx="366.72" cy="185.07" r="1.65" fill="#fff" stroke="#5088cc" stroke-width="0.9"/>
<circle cx="369.04" cy="184.93" r="1.65" fill="#fff" stroke="#5088cc" stroke-width="0.9"/>
<circle cx="371.35" cy="184.84" r="1.65" fill="#fff" stroke="#5088cc" stroke-width="0.9"/>
<circle cx="373.67" cy="184.73" r="1.65" fill="#fff" stroke="#5088cc" stroke-width="0.9"/>
<circle cx="375.99" cy="184.90" r="1.65" fill="#fff" stroke="#5088cc" stroke-width="0.9"/>
<circle cx="378.31" cy="184.81" r="1.65" fill="#fff" stroke="#5088cc" stroke-width="0.9"/>
<circle cx="380.63" cy="184.87" r="1.65" fill="#fff" stroke="#5088cc" stroke-width="0.9"/>
<circle cx="382.94" cy="184.72" r="1.65" fill="#fff" stroke="#5088cc" stroke-width="0.9"/>
<circle cx="385.26" cy="184.81" r="1.65" fill="#fff" stroke="#5088cc" stroke-width="0.9"/>
<circle cx="387.58" cy="184.63" r="1.65" fill="#fff" stroke="#5088cc" stroke-width="0.9"/>
<circle cx="389.90" cy="184.76" r="1.65" fill="#fff" stroke="#5088cc" stroke-width="0.9"/>
<circle cx="392.22" cy="184.71" r="1.65" fill="#fff" stroke="#5088cc" stroke-width="0.9"/>
<circle cx="394.53" cy="184.58" r="1.65" fill="#fff" stroke="#5088cc" stroke-width="0.9"/>
<circle cx="396.85" cy="183.38" r="1.65" fill="#fff" stroke="#5088cc" stroke-width="0.9"/>
<circle cx="399.17" cy="180.71" r="1.65" fill="#fff" stroke="#5088cc" stroke-width="0.9"/>
<circle cx="401.49" cy="175.93" r="1.65" fill="#fff" stroke="#5088cc" stroke-width="0.9"/>
<circle cx="403.81" cy="172.51" r="1.65" fill="#fff" stroke="#5088cc" stroke-width="0.9"/>
<circle cx="406.12" cy="170.27" r="1.65" fill="#fff" stroke="#5088cc" stroke-width="0.9"/>
<circle cx="408.44" cy="168.74" r="1.65" fill="#fff" stroke="#5088cc" stroke-width="0.9"/>
<circle cx="410.76" cy="168.23" r="1.65" fill="#fff" stroke="#5088cc" stroke-width="0.9"/>
<circle cx="413.08" cy="167.53" r="1.65" fill="#fff" stroke="#5088cc" stroke-width="0.9"/>
<circle cx="415.40" cy="166.97" r="1.65" fill="#fff" stroke="#5088cc" stroke-width="0.9"/>
<circle cx="417.71" cy="166.38" r="1.65" fill="#fff" stroke="#5088cc" stroke-width="0.9"/>
<circle cx="420.03" cy="165.86" r="1.65" fill="#fff" stroke="#5088cc" stroke-width="0.9"/>
<circle cx="422.35" cy="165.63" r="1.65" fill="#fff" stroke="#5088cc" stroke-width="0.9"/>
<circle cx="424.67" cy="165.19" r="1.65" fill="#fff" stroke="#5088cc" stroke-width="0.9"/>
<circle cx="426.99" cy="164.67" r="1.65" fill="#fff" stroke="#5088cc" stroke-width="0.9"/>
<circle cx="429.30" cy="164.18" r="1.65" fill="#fff" stroke="#5088cc" stroke-width="0.9"/>
<circle cx="431.62" cy="163.83" r="1.65" fill="#fff" stroke="#5088cc" stroke-width="0.9"/>
<circle cx="433.94" cy="163.58" r="1.65" fill="#fff" stroke="#5088cc" stroke-width="0.9"/>
<circle cx="436.26" cy="163.09" r="1.65" fill="#fff" stroke="#5088cc" stroke-width="0.9"/>
<circle cx="438.58" cy="162.56" r="1.65" fill="#fff" stroke="#5088cc" stroke-width="0.9"/>
<circle cx="440.90" cy="161.66" r="1.65" fill="#fff" stroke="#5088cc" stroke-width="0.9"/>
<circle cx="443.21" cy="161.88" r="1.65" fill="#fff" stroke="#5088cc" stroke-width="0.9"/>
<circle cx="445.53" cy="162.40" r="1.65" fill="#fff" stroke="#5088cc" stroke-width="0.9"/>
<circle cx="447.85" cy="162.66" r="1.65" fill="#fff" stroke="#5088cc" stroke-width="0.9"/>
<circle cx="450.17" cy="162.83" r="1.65" fill="#fff" stroke="#5088cc" stroke-width="0.9"/>
<circle cx="452.49" cy="162.82" r="1.65" fill="#fff" stroke="#5088cc" stroke-width="0.9"/>
<circle cx="454.80" cy="162.70" r="1.65" fill="#fff" stroke="#5088cc" stroke-width="0.9"/>
<circle cx="457.12" cy="162.74" r="1.65" fill="#fff" stroke="#5088cc" stroke-width="0.9"/>
<circle cx="459.44" cy="162.76" r="1.65" fill="#fff" stroke="#5088cc" stroke-width="0.9"/>
<circle cx="461.76" cy="162.79" r="1.65" fill="#fff" stroke="#5088cc" stroke-width="0.9"/>
<circle cx="464.08" cy="162.84" r="1.65" fill="#fff" stroke="#5088cc" stroke-width="0.9"/>
<circle cx="466.39" cy="162.67" r="1.65" fill="#fff" stroke="#5088cc" stroke-width="0.9"/>
<circle cx="468.71" cy="162.96" r="1.65" fill="#fff" stroke="#5088cc" stroke-width="0.9"/>
<circle cx="471.03" cy="163.23" r="1.65" fill="#fff" stroke="#5088cc" stroke-width="0.9"/>
<circle cx="473.35" cy="163.33" r="1.65" fill="#fff" stroke="#5088cc" stroke-width="0.9"/>
<circle cx="475.67" cy="163.61" r="1.65" fill="#fff" stroke="#5088cc" stroke-width="0.9"/>
<circle cx="477.98" cy="163.66" r="1.65" fill="#fff" stroke="#5088cc" stroke-width="0.9"/>
<circle cx="480.30" cy="164.44" r="1.65" fill="#fff" stroke="#5088cc" stroke-width="0.9"/>
<circle cx="482.62" cy="165.00" r="1.65" fill="#fff" stroke="#5088cc" stroke-width="0.9"/>
<circle cx="484.94" cy="174.89" r="1.65" fill="#fff" stroke="#5088cc" stroke-width="0.9"/>
<circle cx="487.26" cy="180.21" r="1.65" fill="#fff" stroke="#5088cc" stroke-width="0.9"/>
<circle cx="489.57" cy="182.49" r="1.65" fill="#fff" stroke="#5088cc" stroke-width="0.9"/>
<circle cx="491.89" cy="183.37" r="1.65" fill="#fff" stroke="#5088cc" stroke-width="0.9"/>
<circle cx="494.21" cy="184.37" r="1.65" fill="#fff" stroke="#5088cc" stroke-width="0.9"/>
<circle cx="496.53" cy="184.97" r="1.65" fill="#fff" stroke="#5088cc" stroke-width="0.9"/>
<circle cx="498.85" cy="185.25" r="1.65" fill="#fff" stroke="#5088cc" stroke-width="0.9"/>
<circle cx="501.16" cy="185.70" r="1.65" fill="#fff" stroke="#5088cc" stroke-width="0.9"/>
<circle cx="503.48" cy="185.90" r="1.65" fill="#fff" stroke="#5088cc" stroke-width="0.9"/>
<circle cx="505.80" cy="185.95" r="1.65" fill="#fff" stroke="#5088cc" stroke-width="0.9"/>
<line x1="397.70" y1="145.80" x2="506.80" y2="145.80" stroke="#8650a8" stroke-width="1.5"/>
<text x="397.30" y="143.90" font-size="9.3" font-family='"Liberation Sans", sans-serif' fill="#8650a8" textLength="17.80" lengthAdjust="spacingAndGlyphs" stroke="#8650a8" stroke-width="0.18">DAB</text>
<line x1="441.60" y1="157.60" x2="482.20" y2="157.60" stroke="#d6338f" stroke-width="1.3"/>
<text x="442.60" y="155.80" font-size="8.7" font-family='"Liberation Sans", sans-serif' fill="#d6338f" stroke="#d6338f" stroke-width="0.18">Ani9</text>
<line x1="482.20" y1="157.80" x2="506.50" y2="157.80" stroke="#6d6e71" stroke-width="1.3"/>
<text x="482.20" y="155.80" font-size="9.0" font-family='"Liberation Sans", sans-serif' fill="#555" stroke="#555" stroke-width="0.18">9-Phe</text>
<path d="M371.5,200.1 L371.5,211.1 L395.6,211.1" fill="none" stroke="#111" stroke-width="1.4"/>
<text transform="translate(365.50,207.00) rotate(-90)" x="-13.50" y="3.20" font-size="9.2" font-family='"Liberation Sans", sans-serif' fill="#231f20" stroke="#231f20" stroke-width="0.18">0.5 nA</text>
<text x="374.60" y="221.60" font-size="8.9" font-family='"Liberation Sans", sans-serif' fill="#231f20" stroke="#231f20" stroke-width="0.18">50 s</text>
<circle cx="464.50" cy="202.70" r="1.85" fill="#fff" stroke="#5088cc" stroke-width="0.8"/>
<text x="475.30" y="205.90" font-size="8.8" font-family='"Liberation Sans", sans-serif' fill="#231f20" stroke="#231f20" stroke-width="0.18">+100 mV</text>
<circle cx="464.50" cy="212.80" r="1.85" fill="#fff" stroke="#e0b45a" stroke-width="0.8"/>
<text x="475.30" y="215.80" font-size="8.8" font-family='"Liberation Sans", sans-serif' fill="#231f20" stroke="#231f20" stroke-width="0.18">-100 mV</text>
<text x="377.40" y="232.60" font-size="8.6" font-family='"Liberation Sans", sans-serif' fill="#231f20" textLength="115.50" lengthAdjust="spacingAndGlyphs" stroke="#231f20" stroke-width="0.18">[Ca<tspan font-size="6.71" dy="-3.0">2+</tspan><tspan dy="3.0">]</tspan><tspan font-size="6.71" dy="1.6">e</tspan><tspan dy="-1.6">=0mM; [EGTA]</tspan><tspan font-size="6.71" dy="1.6">p</tspan><tspan dy="-1.6">=0mM</tspan></text>
<line x1="564.30" y1="147.80" x2="564.30" y2="226.80" stroke="#231f20" stroke-width="1"/>
<line x1="563.80" y1="226.30" x2="683.60" y2="226.30" stroke="#231f20" stroke-width="1"/>
<line x1="561.00" y1="226.30" x2="564.30" y2="226.30" stroke="#231f20" stroke-width="1"/>
<text x="556.40" y="228.90" font-size="7.6" font-family='"Liberation Sans", sans-serif' fill="#231f20" stroke="#231f20" stroke-width="0.18">0</text>
<line x1="561.00" y1="206.78" x2="564.30" y2="206.78" stroke="#231f20" stroke-width="1"/>
<text x="552.20" y="209.38" font-size="7.6" font-family='"Liberation Sans", sans-serif' fill="#231f20" stroke="#231f20" stroke-width="0.18">50</text>
<line x1="561.00" y1="187.25" x2="564.30" y2="187.25" stroke="#231f20" stroke-width="1"/>
<text x="547.90" y="189.85" font-size="7.6" font-family='"Liberation Sans", sans-serif' fill="#231f20" stroke="#231f20" stroke-width="0.18">100</text>
<line x1="561.00" y1="167.73" x2="564.30" y2="167.73" stroke="#231f20" stroke-width="1"/>
<text x="547.90" y="170.33" font-size="7.6" font-family='"Liberation Sans", sans-serif' fill="#231f20" stroke="#231f20" stroke-width="0.18">150</text>
<line x1="561.00" y1="148.20" x2="564.30" y2="148.20" stroke="#231f20" stroke-width="1"/>
<text x="547.90" y="150.80" font-size="7.6" font-family='"Liberation Sans", sans-serif' fill="#231f20" stroke="#231f20" stroke-width="0.18">200</text>
<text transform="translate(540.60,184.60) rotate(-90)" x="-37.70" y="3.30" font-size="9.1" font-family='"Liberation Sans", sans-serif' fill="#231f20" stroke="#231f20" stroke-width="0.18">% I/I<tspan font-size="6.2" dy="2.0">DAB</tspan><tspan dy="-2.0"> (+100 mV)</tspan></text>
<rect x="573.40" y="187.25" width="14.40" height="39.05" fill="#e6c9f5" stroke="#9650b4" stroke-width="0.9"/>
<line x1="580.60" y1="226.30" x2="580.60" y2="229.30" stroke="#231f20" stroke-width="1"/>
<rect x="595.30" y="200.14" width="14.40" height="26.16" fill="#c9ddf5" stroke="#4a86cc" stroke-width="0.9"/>
<line x1="602.50" y1="226.30" x2="602.50" y2="229.30" stroke="#231f20" stroke-width="1"/>
<rect x="617.20" y="186.66" width="14.40" height="39.64" fill="#cdf5e1" stroke="#4cb97c" stroke-width="0.9"/>
<line x1="624.40" y1="226.30" x2="624.40" y2="229.30" stroke="#231f20" stroke-width="1"/>
<rect x="639.10" y="186.00" width="14.40" height="40.30" fill="#f5c9ea" stroke="#d9459f" stroke-width="0.9"/>
<line x1="646.30" y1="226.30" x2="646.30" y2="229.30" stroke="#231f20" stroke-width="1"/>
<rect x="661.00" y="221.22" width="14.40" height="5.08" fill="#f7e3bf" stroke="#e0ae4c" stroke-width="0.9"/>
<line x1="668.20" y1="226.30" x2="668.20" y2="229.30" stroke="#231f20" stroke-width="1"/>
<path d="M573.10,188.20 L576.10,188.20 L574.60,185.50 Z" fill="#fff" stroke="#8a44aa" stroke-width="0.8"/>
<path d="M575.10,188.20 L578.10,188.20 L576.60,185.50 Z" fill="#fff" stroke="#8a44aa" stroke-width="0.8"/>
<path d="M577.10,188.20 L580.10,188.20 L578.60,185.50 Z" fill="#fff" stroke="#8a44aa" stroke-width="0.8"/>
<path d="M579.10,188.20 L582.10,188.20 L580.60,185.50 Z" fill="#fff" stroke="#8a44aa" stroke-width="0.8"/>
<path d="M581.10,188.20 L584.10,188.20 L582.60,185.50 Z" fill="#fff" stroke="#8a44aa" stroke-width="0.8"/>
<path d="M583.10,188.20 L586.10,188.20 L584.60,185.50 Z" fill="#fff" stroke="#8a44aa" stroke-width="0.8"/>
<path d="M585.10,188.20 L588.10,188.20 L586.60,185.50 Z" fill="#fff" stroke="#8a44aa" stroke-width="0.8"/>
<line x1="577.60" y1="187.20" x2="583.60" y2="187.20" stroke="#8a44aa" stroke-width="0.9"/>
<line x1="602.50" y1="200.10" x2="602.50" y2="196.30" stroke="#4a86cc" stroke-width="0.9"/>
<line x1="599.50" y1="196.30" x2="605.50" y2="196.30" stroke="#4a86cc" stroke-width="0.9"/>
<rect x="601.15" y="189.35" width="2.70" height="2.70" fill="#fff" stroke="#4a86cc" stroke-width="0.8"/>
<rect x="595.05" y="196.35" width="2.70" height="2.70" fill="#fff" stroke="#4a86cc" stroke-width="0.8"/>
<rect x="607.05" y="194.75" width="2.70" height="2.70" fill="#fff" stroke="#4a86cc" stroke-width="0.8"/>
<rect x="600.15" y="197.85" width="2.70" height="2.70" fill="#fff" stroke="#4a86cc" stroke-width="0.8"/>
<rect x="600.95" y="202.45" width="2.70" height="2.70" fill="#fff" stroke="#4a86cc" stroke-width="0.8"/>
<rect x="601.15" y="209.65" width="2.70" height="2.70" fill="#fff" stroke="#4a86cc" stroke-width="0.8"/>
<path d="M599.60,181.10 L599.60,185.70 M601.59,182.25 L597.61,184.55 M601.59,184.55 L597.61,182.25 " stroke="#5b8fd0" stroke-width="0.9" fill="none"/>
<path d="M606.00,181.10 L606.00,185.70 M607.99,182.25 L604.01,184.55 M607.99,184.55 L604.01,182.25 " stroke="#5b8fd0" stroke-width="0.9" fill="none"/>
<circle cx="619.00" cy="186.80" r="1.40" fill="#fff" stroke="#4cb97c" stroke-width="0.8"/>
<circle cx="621.60" cy="186.30" r="1.40" fill="#fff" stroke="#4cb97c" stroke-width="0.8"/>
<circle cx="624.20" cy="186.90" r="1.40" fill="#fff" stroke="#4cb97c" stroke-width="0.8"/>
<circle cx="626.80" cy="186.00" r="1.40" fill="#fff" stroke="#4cb97c" stroke-width="0.8"/>
<circle cx="629.00" cy="186.60" r="1.40" fill="#fff" stroke="#4cb97c" stroke-width="0.8"/>
<circle cx="630.80" cy="183.60" r="1.40" fill="#fff" stroke="#4cb97c" stroke-width="0.8"/>
<path d="M640.80,184.60 L642.40,186.20 L640.80,187.80 L639.20,186.20 Z" fill="#fff" stroke="#d9459f" stroke-width="0.8"/>
<path d="M643.40,183.60 L645.00,185.20 L643.40,186.80 L641.80,185.20 Z" fill="#fff" stroke="#d9459f" stroke-width="0.8"/>
<path d="M646.00,184.70 L647.60,186.30 L646.00,187.90 L644.40,186.30 Z" fill="#fff" stroke="#d9459f" stroke-width="0.8"/>
<path d="M648.50,183.60 L650.10,185.20 L648.50,186.80 L646.90,185.20 Z" fill="#fff" stroke="#d9459f" stroke-width="0.8"/>
<path d="M651.80,184.40 L653.40,186.00 L651.80,187.60 L650.20,186.00 Z" fill="#fff" stroke="#d9459f" stroke-width="0.8"/>
<path d="M649.20,180.20 L650.80,181.80 L649.20,183.40 L647.60,181.80 Z" fill="#fff" stroke="#d9459f" stroke-width="0.8"/>
<path d="M645.00,182.20 L646.60,183.80 L645.00,185.40 L643.40,183.80 Z" fill="#fff" stroke="#d9459f" stroke-width="0.8"/>
<circle cx="662.50" cy="221.00" r="1.20" fill="#fff" stroke="#e0ae4c" stroke-width="0.9"/>
<circle cx="664.50" cy="219.60" r="1.20" fill="#fff" stroke="#e0ae4c" stroke-width="0.9"/>
<circle cx="666.50" cy="220.60" r="1.20" fill="#fff" stroke="#e0ae4c" stroke-width="0.9"/>
<circle cx="668.50" cy="218.80" r="1.20" fill="#fff" stroke="#e0ae4c" stroke-width="0.9"/>
<circle cx="670.50" cy="219.80" r="1.20" fill="#fff" stroke="#e0ae4c" stroke-width="0.9"/>
<circle cx="672.50" cy="220.50" r="1.20" fill="#fff" stroke="#e0ae4c" stroke-width="0.9"/>
<circle cx="674.00" cy="221.20" r="1.20" fill="#fff" stroke="#e0ae4c" stroke-width="0.9"/>
<circle cx="667.00" cy="222.20" r="1.20" fill="#fff" stroke="#e0ae4c" stroke-width="0.9"/>
<circle cx="671.00" cy="221.80" r="1.20" fill="#fff" stroke="#e0ae4c" stroke-width="0.9"/>
<circle cx="663.50" cy="222.30" r="1.20" fill="#fff" stroke="#e0ae4c" stroke-width="0.9"/>
<path d="M665.20,209.90 L665.20,214.50 M667.19,211.05 L663.21,213.35 M667.19,213.35 L663.21,211.05 " stroke="#e0b45a" stroke-width="0.9" fill="none"/>
<path d="M671.90,209.90 L671.90,214.50 M673.89,211.05 L669.91,213.35 M673.89,213.35 L669.91,211.05 " stroke="#e0b45a" stroke-width="0.9" fill="none"/>
<text x="572.10" y="239.70" font-size="8.9" font-family='"Liberation Sans", sans-serif' fill="#231f20" stroke="#231f20" stroke-width="0.18">DAB</text>
<line x1="599.20" y1="234.60" x2="650.00" y2="234.60" stroke="#231f20" stroke-width="1.2"/>
<text x="604.00" y="245.50" font-size="8.9" font-family='"Liberation Sans", sans-serif' fill="#231f20" stroke="#231f20" stroke-width="0.18">DAB+Ani9</text>
<text x="658.20" y="238.60" font-size="8.9" font-family='"Liberation Sans", sans-serif' fill="#231f20" stroke="#231f20" stroke-width="0.18">DAB</text>
<text x="653.50" y="248.80" font-size="8.9" font-family='"Liberation Sans", sans-serif' fill="#231f20" stroke="#231f20" stroke-width="0.18">+9-Phe</text>
<rect x="571.45" y="146.95" width="2.90" height="2.90" fill="#fff" stroke="#4a86cc" stroke-width="0.8"/>
<circle cx="572.90" cy="159.70" r="1.50" fill="#fff" stroke="#4cb97c" stroke-width="0.8"/>
<path d="M572.90,170.10 L574.70,171.90 L572.90,173.70 L571.10,171.90 Z" fill="#fff" stroke="#d9459f" stroke-width="0.8"/>
<text x="581.80" y="150.90" font-size="7.45" font-family='"Liberation Sans", sans-serif' fill="#333" stroke="#333" stroke-width="0.18">[Ca<tspan font-size="5.07" dy="-2.7">2+</tspan><tspan dy="2.7">]</tspan><tspan font-size="5.07" dy="1.5">e</tspan><tspan dy="-1.5">=2mM; [EGTA]</tspan><tspan font-size="5.07" dy="1.5">p</tspan><tspan dy="-1.5">=0mM</tspan></text>
<text x="581.80" y="162.40" font-size="7.45" font-family='"Liberation Sans", sans-serif' fill="#333" stroke="#333" stroke-width="0.18">[Ca<tspan font-size="5.07" dy="-2.7">2+</tspan><tspan dy="2.7">]</tspan><tspan font-size="5.07" dy="1.5">e</tspan><tspan dy="-1.5">=2mM; [EGTA]</tspan><tspan font-size="5.07" dy="1.5">p</tspan><tspan dy="-1.5">=5mM</tspan></text>
<text x="581.80" y="174.20" font-size="7.45" font-family='"Liberation Sans", sans-serif' fill="#333" stroke="#333" stroke-width="0.18">[Ca<tspan font-size="5.07" dy="-2.7">2+</tspan><tspan dy="2.7">]</tspan><tspan font-size="5.07" dy="1.5">e</tspan><tspan dy="-1.5">=0mM; [EGTA]</tspan><tspan font-size="5.07" dy="1.5">p</tspan><tspan dy="-1.5">=0mM</tspan></text>
<path d="M20.6,321.5 C18.5,314 18.6,303 21.8,295.5 C25,288.5 31,284 38.5,282.3 C42.5,281.5 46,281.4 49.2,281.8 C48.6,280.6 48.3,279.4 48.3,278.2 C48.3,274.2 51.6,271 55.6,271 C59.6,271 62.8,274.2 62.8,278.2 C62.8,278.8 62.7,279.4 62.6,280 C66,280.8 69,282.3 71.3,284.2 C75.5,287.8 80,292 84.2,295.2 C85.6,296.3 85.2,298 83.6,298.7 C80.5,300.2 76,301.8 71.5,302.3 C70.5,303.3 69.5,304.3 68.8,305.2 C70.8,306.2 72.8,307.3 73.8,308.6 C74.6,309.8 73.6,311.5 72.2,311.6 C70.6,311.7 69.4,310.8 67.8,310.6 C65.5,310.6 63.3,311.2 61.8,311.6 C61.6,313.5 60.6,315.8 59.4,317.6 C58.8,318.6 58.4,319.6 58.6,320.4 C60.5,320.4 62.6,320.5 63.6,321.2 C64.3,322 64.1,323.4 63.2,323.8 L25,323.8 C22.5,323.8 21,323 20.6,321.5 Z" fill="#6d6d6d" stroke="none" stroke-width="1"/>
<path d="M21.5,320.5 C20.5,324.5 23,327.8 30,328.6 C40,329.6 52,329.2 62,327.6 C68,326.7 73,325.8 77.5,325.4" fill="none" stroke="#6d6d6d" stroke-width="2.3" stroke-linecap="round"/>
<ellipse cx="71.8" cy="290.9" rx="1.9" ry="1.6" fill="#fff"/>
<path d="M52.8,305.4 C53.2,309 55.2,311.6 58.6,313.4" fill="none" stroke="#fff" stroke-width="1.6" stroke-linecap="round"/>
<text x="11.60" y="351.00" font-size="12.2" font-family='"Liberation Sans", sans-serif' fill="#231f20" stroke="#231f20" stroke-width="0.18">C57BL/6 Mice</text>
<defs>
<linearGradient id="gbox" x1="0" x2="1" y1="0" y2="0"><stop offset="0" stop-color="#e6f9ee"/><stop offset="1" stop-color="#b9f0d3"/></linearGradient>
<linearGradient id="bbox" x1="0" x2="1" y1="0" y2="0.5"><stop offset="0" stop-color="#ffffff"/><stop offset="0.4" stop-color="#e6eef9"/><stop offset="1" stop-color="#92b7e9"/></linearGradient>
<linearGradient id="cbox" x1="0" x2="1" y1="0" y2="0.3"><stop offset="0" stop-color="#fdfaf3"/><stop offset="1" stop-color="#f2dfbf"/></linearGradient>
</defs>
<rect x="100.10" y="258.10" width="121.70" height="23.50" fill="url(#gbox)" stroke="none" stroke-width="1"/>
<rect x="100.10" y="286.10" width="121.70" height="23.70" fill="url(#bbox)" stroke="none" stroke-width="1"/>
<rect x="273.80" y="257.70" width="60.20" height="51.70" fill="url(#cbox)" stroke="none" stroke-width="1"/>
<text x="114.50" y="275.00" font-size="10.4" font-family='"Liberation Sans", sans-serif' fill="#231f20" stroke="#231f20" stroke-width="0.05" textLength="89.60" lengthAdjust="spacingAndGlyphs"><tspan>Veh/A01/172, </tspan><tspan font-style="italic">i.p.</tspan></text>
<text x="123.30" y="301.00" font-size="10.4" font-family='"Liberation Sans", sans-serif' fill="#231f20" stroke="#231f20" stroke-width="0.05" textLength="67.60" lengthAdjust="spacingAndGlyphs"><tspan>Veh/DAB, </tspan><tspan font-style="italic">i.g.</tspan></text>
<path d="M222.3,275.3 C229.5,278 229.8,291 224.2,294.6" fill="none" stroke="#1f2d3d" stroke-width="1.5"/>
<path d="M221.3,297.2 L226.6,295.9 L223.1,292.4 Z" fill="#1f2d3d"/>
<text x="232.10" y="281.50" font-size="11.1" font-family='"Liberation Sans", sans-serif' fill="#231f20" stroke="none">30min</text>
<text x="236.00" y="294.80" font-size="11.1" font-family='"Liberation Sans", sans-serif' fill="#231f20" stroke="none">later</text>
<text x="284.90" y="280.00" font-size="11.2" font-family='"Liberation Sans", sans-serif' fill="#231f20" stroke="#231f20" stroke-width="0.05" textLength="38.00" lengthAdjust="spacingAndGlyphs"><tspan>Collect</tspan></text>
<text x="289.80" y="294.80" font-size="11.2" font-family='"Liberation Sans", sans-serif' fill="#231f20" stroke="#231f20" stroke-width="0.05" textLength="28.30" lengthAdjust="spacingAndGlyphs"><tspan>feces</tspan></text>
<line x1="118.40" y1="312.80" x2="118.40" y2="324.00" stroke="#333" stroke-width="1.1"/>
<path d="M115.50,323.0 L121.30,323.0 L118.40,328.4 Z" fill="#333"/>
<line x1="209.30" y1="312.80" x2="209.30" y2="324.00" stroke="#333" stroke-width="1.1"/>
<path d="M206.40,323.0 L212.20,323.0 L209.30,328.4 Z" fill="#333"/>
<line x1="303.80" y1="312.80" x2="303.80" y2="324.00" stroke="#333" stroke-width="1.1"/>
<path d="M300.90,323.0 L306.70,323.0 L303.80,328.4 Z" fill="#333"/>
<circle cx="118.00" cy="346.60" r="14.90" fill="#fff" stroke="#333" stroke-width="1.4"/>
<circle cx="209.70" cy="346.60" r="14.90" fill="#fff" stroke="#333" stroke-width="1.4"/>
<circle cx="304.00" cy="346.60" r="14.90" fill="#fff" stroke="#333" stroke-width="1.4"/>
<line x1="132.90" y1="346.60" x2="194.80" y2="346.60" stroke="#333" stroke-width="1.3"/>
<line x1="224.60" y1="346.60" x2="289.10" y2="346.60" stroke="#333" stroke-width="1.3"/>
<text x="110.45" y="350.80" font-size="12.0" font-family='"Liberation Sans", sans-serif' fill="#231f20" stroke="#231f20" stroke-width="0.18">0h</text>
<text x="198.85" y="350.80" font-size="12.0" font-family='"Liberation Sans", sans-serif' fill="#231f20" stroke="#231f20" stroke-width="0.18">12h</text>
<text x="293.80" y="350.80" font-size="12.0" font-family='"Liberation Sans", sans-serif' fill="#231f20" stroke="#231f20" stroke-width="0.18">24h</text>
<line x1="400.00" y1="271.20" x2="400.00" y2="346.80" stroke="#231f20" stroke-width="1"/>
<line x1="399.50" y1="346.30" x2="513.80" y2="346.30" stroke="#231f20" stroke-width="1"/>
<line x1="396.70" y1="346.30" x2="400.00" y2="346.30" stroke="#231f20" stroke-width="1"/>
<text x="387.40" y="348.90" font-size="7.4" font-family='"Liberation Sans", sans-serif' fill="#231f20" stroke="#231f20" stroke-width="0.18">50</text>
<line x1="396.70" y1="331.38" x2="400.00" y2="331.38" stroke="#231f20" stroke-width="1"/>
<text x="387.40" y="333.98" font-size="7.4" font-family='"Liberation Sans", sans-serif' fill="#231f20" stroke="#231f20" stroke-width="0.18">60</text>
<line x1="396.70" y1="316.46" x2="400.00" y2="316.46" stroke="#231f20" stroke-width="1"/>
<text x="387.40" y="319.06" font-size="7.4" font-family='"Liberation Sans", sans-serif' fill="#231f20" stroke="#231f20" stroke-width="0.18">70</text>
<line x1="396.70" y1="301.54" x2="400.00" y2="301.54" stroke="#231f20" stroke-width="1"/>
<text x="387.40" y="304.14" font-size="7.4" font-family='"Liberation Sans", sans-serif' fill="#231f20" stroke="#231f20" stroke-width="0.18">80</text>
<line x1="396.70" y1="286.62" x2="400.00" y2="286.62" stroke="#231f20" stroke-width="1"/>
<text x="387.40" y="289.22" font-size="7.4" font-family='"Liberation Sans", sans-serif' fill="#231f20" stroke="#231f20" stroke-width="0.18">90</text>
<line x1="396.70" y1="271.70" x2="400.00" y2="271.70" stroke="#231f20" stroke-width="1"/>
<text x="383.30" y="274.30" font-size="7.4" font-family='"Liberation Sans", sans-serif' fill="#231f20" stroke="#231f20" stroke-width="0.18">100</text>
<text transform="translate(378.30,307.20) rotate(-90)" x="-42.35" y="2.90" font-size="8.0" font-family='"Liberation Sans", sans-serif' fill="#231f20" stroke="#231f20" stroke-width="0.18">Fecal water content (%)</text>
<rect x="409.20" y="326.16" width="17.60" height="20.14" fill="#f8e3bf" stroke="#e0ae4c" stroke-width="0.9"/>
<line x1="418.00" y1="346.30" x2="418.00" y2="349.30" stroke="#231f20" stroke-width="1"/>
<rect x="435.20" y="299.15" width="17.60" height="47.15" fill="#e8caf6" stroke="#8c47b0" stroke-width="0.9"/>
<line x1="444.00" y1="346.30" x2="444.00" y2="349.30" stroke="#231f20" stroke-width="1"/>
<rect x="461.20" y="327.35" width="17.60" height="18.95" fill="#cadef6" stroke="#4a86cc" stroke-width="0.9"/>
<line x1="470.00" y1="346.30" x2="470.00" y2="349.30" stroke="#231f20" stroke-width="1"/>
<rect x="487.20" y="301.54" width="17.60" height="44.76" fill="#cff7e2" stroke="#4cb97c" stroke-width="0.9"/>
<line x1="496.00" y1="346.30" x2="496.00" y2="349.30" stroke="#231f20" stroke-width="1"/>
<line x1="418.00" y1="326.20" x2="418.00" y2="321.10" stroke="#e0ae4c" stroke-width="0.9"/>
<line x1="414.60" y1="321.10" x2="421.40" y2="321.10" stroke="#e0ae4c" stroke-width="0.9"/>
<line x1="444.00" y1="299.40" x2="444.00" y2="295.60" stroke="#8c47b0" stroke-width="0.9"/>
<line x1="440.60" y1="295.60" x2="447.40" y2="295.60" stroke="#8c47b0" stroke-width="0.9"/>
<line x1="470.00" y1="327.60" x2="470.00" y2="322.80" stroke="#4a86cc" stroke-width="0.9"/>
<line x1="466.60" y1="322.80" x2="473.40" y2="322.80" stroke="#4a86cc" stroke-width="0.9"/>
<line x1="496.00" y1="302.10" x2="496.00" y2="299.90" stroke="#4cb97c" stroke-width="0.9"/>
<line x1="492.60" y1="299.90" x2="499.40" y2="299.90" stroke="#4cb97c" stroke-width="0.9"/>
<circle cx="417.90" cy="310.60" r="1.55" fill="none" stroke="#e0ae4c" stroke-width="0.85"/>
<circle cx="425.20" cy="319.40" r="1.55" fill="none" stroke="#e0ae4c" stroke-width="0.85"/>
<circle cx="417.90" cy="323.20" r="1.55" fill="none" stroke="#e0ae4c" stroke-width="0.85"/>
<circle cx="411.10" cy="339.50" r="1.55" fill="none" stroke="#e0ae4c" stroke-width="0.85"/>
<circle cx="425.20" cy="338.60" r="1.55" fill="none" stroke="#e0ae4c" stroke-width="0.85"/>
<circle cx="443.90" cy="284.60" r="1.55" fill="none" stroke="#8c47b0" stroke-width="0.85"/>
<circle cx="437.10" cy="296.80" r="1.55" fill="none" stroke="#8c47b0" stroke-width="0.85"/>
<circle cx="443.90" cy="297.70" r="1.55" fill="none" stroke="#8c47b0" stroke-width="0.85"/>
<circle cx="443.90" cy="300.70" r="1.55" fill="none" stroke="#8c47b0" stroke-width="0.85"/>
<circle cx="443.90" cy="304.10" r="1.55" fill="none" stroke="#8c47b0" stroke-width="0.85"/>
<circle cx="443.90" cy="311.80" r="1.55" fill="none" stroke="#8c47b0" stroke-width="0.85"/>
<circle cx="462.70" cy="313.00" r="1.55" fill="none" stroke="#4a86cc" stroke-width="0.85"/>
<circle cx="470.00" cy="316.00" r="1.55" fill="none" stroke="#4a86cc" stroke-width="0.85"/>
<circle cx="470.00" cy="326.20" r="1.55" fill="none" stroke="#4a86cc" stroke-width="0.85"/>
<circle cx="470.00" cy="331.30" r="1.55" fill="none" stroke="#4a86cc" stroke-width="0.85"/>
<circle cx="462.70" cy="339.00" r="1.55" fill="none" stroke="#4a86cc" stroke-width="0.85"/>
<circle cx="477.10" cy="337.80" r="1.55" fill="none" stroke="#4a86cc" stroke-width="0.85"/>
<circle cx="489.00" cy="295.30" r="1.55" fill="none" stroke="#4cb97c" stroke-width="0.85"/>
<circle cx="489.00" cy="301.00" r="1.55" fill="none" stroke="#4cb97c" stroke-width="0.85"/>
<circle cx="495.80" cy="300.20" r="1.55" fill="none" stroke="#4cb97c" stroke-width="0.85"/>
<circle cx="503.10" cy="299.90" r="1.55" fill="none" stroke="#4cb97c" stroke-width="0.85"/>
<circle cx="503.10" cy="304.10" r="1.55" fill="none" stroke="#4cb97c" stroke-width="0.85"/>
<circle cx="495.80" cy="310.10" r="1.55" fill="none" stroke="#4cb97c" stroke-width="0.85"/>
<path d="M440.80,275.80 L440.80,279.80 M442.53,276.80 L439.07,278.80 M442.53,278.80 L439.07,276.80 " stroke="#8c47b0" stroke-width="0.9" fill="none"/>
<path d="M446.80,275.80 L446.80,279.80 M448.53,276.80 L445.07,278.80 M448.53,278.80 L445.07,276.80 " stroke="#8c47b0" stroke-width="0.9" fill="none"/>
<path d="M465.80,304.16 L474.00,304.16 M465.80,306.24 L474.00,306.24 M467.63,302.60 L466.93,307.80 M469.59,302.60 L468.89,307.80 M471.40,302.60 L470.70,307.80 M473.37,302.60 L472.67,307.80 " stroke="#4a86cc" stroke-width="0.75" fill="none"/>
<text x="411.20" y="358.20" font-size="8.1" font-family='"Liberation Sans", sans-serif' fill="#231f20" stroke="#231f20" stroke-width="0.18">Veh</text>
<text x="435.50" y="358.20" font-size="8.1" font-family='"Liberation Sans", sans-serif' fill="#231f20" stroke="#231f20" stroke-width="0.18">DAB</text>
<text x="461.50" y="358.20" font-size="8.1" font-family='"Liberation Sans", sans-serif' fill="#231f20" stroke="#231f20" stroke-width="0.18">DAB</text>
<text x="460.45" y="367.10" font-size="8.1" font-family='"Liberation Sans", sans-serif' fill="#231f20" stroke="#231f20" stroke-width="0.18">+A01</text>
<text x="487.50" y="358.20" font-size="8.1" font-family='"Liberation Sans", sans-serif' fill="#231f20" stroke="#231f20" stroke-width="0.18">DAB</text>
<text x="486.90" y="367.10" font-size="8.1" font-family='"Liberation Sans", sans-serif' fill="#231f20" stroke="#231f20" stroke-width="0.18">+172</text>
<line x1="562.80" y1="268.40" x2="562.80" y2="344.60" stroke="#8a8a8a" stroke-width="1.3"/>
<line x1="562.00" y1="344.10" x2="676.40" y2="344.10" stroke="#231f20" stroke-width="1"/>
<line x1="559.20" y1="344.10" x2="562.50" y2="344.10" stroke="#231f20" stroke-width="1"/>
<text x="555.20" y="346.70" font-size="7.3" font-family='"Liberation Sans", sans-serif' fill="#231f20" stroke="#231f20" stroke-width="0.18">0</text>
<line x1="559.20" y1="325.30" x2="562.50" y2="325.30" stroke="#231f20" stroke-width="1"/>
<text x="555.30" y="327.90" font-size="7.3" font-family='"Liberation Sans", sans-serif' fill="#231f20" stroke="#231f20" stroke-width="0.18">2</text>
<line x1="559.20" y1="306.50" x2="562.50" y2="306.50" stroke="#231f20" stroke-width="1"/>
<text x="555.20" y="309.10" font-size="7.3" font-family='"Liberation Sans", sans-serif' fill="#231f20" stroke="#231f20" stroke-width="0.18">4</text>
<line x1="559.20" y1="287.70" x2="562.50" y2="287.70" stroke="#231f20" stroke-width="1"/>
<text x="555.30" y="290.30" font-size="7.3" font-family='"Liberation Sans", sans-serif' fill="#231f20" stroke="#231f20" stroke-width="0.18">6</text>
<line x1="559.20" y1="268.90" x2="562.50" y2="268.90" stroke="#231f20" stroke-width="1"/>
<text x="555.30" y="271.50" font-size="7.3" font-family='"Liberation Sans", sans-serif' fill="#231f20" stroke="#231f20" stroke-width="0.18">8</text>
<text transform="translate(547.20,305.30) rotate(-90)" x="-23.10" y="2.95" font-size="8.1" font-family='"Liberation Sans", sans-serif' fill="#231f20" stroke="#231f20" stroke-width="0.18">Bristol Score</text>
<rect x="572.10" y="332.16" width="16.80" height="11.94" fill="#f8e3bf" stroke="#e0ae4c" stroke-width="0.9"/>
<line x1="580.50" y1="344.10" x2="580.50" y2="347.10" stroke="#231f20" stroke-width="1"/>
<rect x="598.10" y="300.20" width="16.80" height="43.90" fill="#e8caf6" stroke="#8c47b0" stroke-width="0.9"/>
<line x1="606.50" y1="344.10" x2="606.50" y2="347.10" stroke="#231f20" stroke-width="1"/>
<rect x="624.20" y="332.16" width="16.80" height="11.94" fill="#cadef6" stroke="#4a86cc" stroke-width="0.9"/>
<line x1="632.60" y1="344.10" x2="632.60" y2="347.10" stroke="#231f20" stroke-width="1"/>
<rect x="650.30" y="298.98" width="16.80" height="45.12" fill="#cff7e2" stroke="#4cb97c" stroke-width="0.9"/>
<line x1="658.70" y1="344.10" x2="658.70" y2="347.10" stroke="#231f20" stroke-width="1"/>
<line x1="580.50" y1="332.20" x2="580.50" y2="329.80" stroke="#e0ae4c" stroke-width="0.9"/>
<line x1="577.10" y1="329.80" x2="583.90" y2="329.80" stroke="#e0ae4c" stroke-width="0.9"/>
<line x1="606.50" y1="300.50" x2="606.50" y2="295.60" stroke="#8c47b0" stroke-width="0.9"/>
<line x1="603.10" y1="295.60" x2="609.90" y2="295.60" stroke="#8c47b0" stroke-width="0.9"/>
<line x1="632.60" y1="332.20" x2="632.60" y2="329.80" stroke="#4a86cc" stroke-width="0.9"/>
<line x1="629.20" y1="329.80" x2="636.00" y2="329.80" stroke="#4a86cc" stroke-width="0.9"/>
<line x1="658.70" y1="299.20" x2="658.70" y2="293.30" stroke="#4cb97c" stroke-width="0.9"/>
<line x1="655.30" y1="293.30" x2="662.10" y2="293.30" stroke="#4cb97c" stroke-width="0.9"/>
<circle cx="578.00" cy="325.70" r="1.55" fill="none" stroke="#e0ae4c" stroke-width="0.85"/>
<circle cx="582.90" cy="325.70" r="1.55" fill="none" stroke="#e0ae4c" stroke-width="0.85"/>
<circle cx="573.20" cy="334.30" r="1.55" fill="none" stroke="#e0ae4c" stroke-width="0.85"/>
<circle cx="576.85" cy="334.30" r="1.55" fill="none" stroke="#e0ae4c" stroke-width="0.85"/>
<circle cx="580.50" cy="334.30" r="1.55" fill="none" stroke="#e0ae4c" stroke-width="0.85"/>
<circle cx="584.15" cy="334.30" r="1.55" fill="none" stroke="#e0ae4c" stroke-width="0.85"/>
<circle cx="587.80" cy="334.30" r="1.55" fill="none" stroke="#e0ae4c" stroke-width="0.85"/>
<circle cx="599.20" cy="287.90" r="1.55" fill="none" stroke="#8c47b0" stroke-width="0.85"/>
<circle cx="606.40" cy="287.90" r="1.55" fill="none" stroke="#8c47b0" stroke-width="0.85"/>
<circle cx="606.40" cy="297.40" r="1.55" fill="none" stroke="#8c47b0" stroke-width="0.85"/>
<circle cx="606.40" cy="306.80" r="1.55" fill="none" stroke="#8c47b0" stroke-width="0.85"/>
<circle cx="613.60" cy="306.80" r="1.55" fill="none" stroke="#8c47b0" stroke-width="0.85"/>
<circle cx="606.40" cy="316.20" r="1.55" fill="none" stroke="#8c47b0" stroke-width="0.85"/>
<circle cx="629.90" cy="325.70" r="1.55" fill="none" stroke="#4a86cc" stroke-width="0.85"/>
<circle cx="634.80" cy="325.70" r="1.55" fill="none" stroke="#4a86cc" stroke-width="0.85"/>
<circle cx="624.90" cy="334.30" r="1.55" fill="none" stroke="#4a86cc" stroke-width="0.85"/>
<circle cx="628.70" cy="334.30" r="1.55" fill="none" stroke="#4a86cc" stroke-width="0.85"/>
<circle cx="632.50" cy="334.30" r="1.55" fill="none" stroke="#4a86cc" stroke-width="0.85"/>
<circle cx="636.30" cy="334.30" r="1.55" fill="none" stroke="#4a86cc" stroke-width="0.85"/>
<circle cx="640.10" cy="334.30" r="1.55" fill="none" stroke="#4a86cc" stroke-width="0.85"/>
<circle cx="658.70" cy="278.40" r="1.55" fill="none" stroke="#4cb97c" stroke-width="0.85"/>
<circle cx="658.70" cy="287.90" r="1.55" fill="none" stroke="#4cb97c" stroke-width="0.85"/>
<circle cx="658.70" cy="297.40" r="1.55" fill="none" stroke="#4cb97c" stroke-width="0.85"/>
<circle cx="658.70" cy="306.80" r="1.55" fill="none" stroke="#4cb97c" stroke-width="0.85"/>
<circle cx="665.90" cy="306.80" r="1.55" fill="none" stroke="#4cb97c" stroke-width="0.85"/>
<circle cx="658.70" cy="316.20" r="1.55" fill="none" stroke="#4cb97c" stroke-width="0.85"/>
<path d="M603.20,277.80 L603.20,281.80 M604.93,278.80 L601.47,280.80 M604.93,280.80 L601.47,278.80 " stroke="#8c47b0" stroke-width="0.9" fill="none"/>
<path d="M608.60,277.80 L608.60,281.80 M610.33,278.80 L606.87,280.80 M610.33,280.80 L606.87,278.80 " stroke="#8c47b0" stroke-width="0.9" fill="none"/>
<path d="M628.80,318.40 L636.40,318.40 M628.80,320.40 L636.40,320.40 M630.52,316.90 L629.82,321.90 M632.34,316.90 L631.64,321.90 M634.01,316.90 L633.31,321.90 M635.84,316.90 L635.14,321.90 " stroke="#4a86cc" stroke-width="0.75" fill="none"/>
<text x="573.70" y="355.80" font-size="8.1" font-family='"Liberation Sans", sans-serif' fill="#231f20" stroke="#231f20" stroke-width="0.18">Veh</text>
<text x="598.00" y="355.80" font-size="8.1" font-family='"Liberation Sans", sans-serif' fill="#231f20" stroke="#231f20" stroke-width="0.18">DAB</text>
<text x="624.10" y="355.80" font-size="8.1" font-family='"Liberation Sans", sans-serif' fill="#231f20" stroke="#231f20" stroke-width="0.18">DAB</text>
<text x="623.05" y="365.00" font-size="8.1" font-family='"Liberation Sans", sans-serif' fill="#231f20" stroke="#231f20" stroke-width="0.18">+A01</text>
<text x="650.20" y="355.80" font-size="8.1" font-family='"Liberation Sans", sans-serif' fill="#231f20" stroke="#231f20" stroke-width="0.18">DAB</text>
<text x="649.60" y="365.00" font-size="8.1" font-family='"Liberation Sans", sans-serif' fill="#231f20" stroke="#231f20" stroke-width="0.18">+172</text>
<defs>
<linearGradient id="objj" x1="0" x2="1" y1="0" y2="0">
<stop offset="0" stop-color="#2b2b2b"/><stop offset="0.18" stop-color="#6a6a6a"/><stop offset="0.45" stop-color="#e6e6e6"/><stop offset="0.62" stop-color="#f2f2f2"/><stop offset="0.85" stop-color="#9a9a9a"/><stop offset="1" stop-color="#3a3a3a"/></linearGradient>
<linearGradient id="objbj" x1="0" x2="1" y1="0" y2="0">
<stop offset="0" stop-color="#1a1a1a"/><stop offset="0.5" stop-color="#4a4a4a"/><stop offset="1" stop-color="#1a1a1a"/></linearGradient>
<linearGradient id="conej" x1="0" x2="0" y1="0" y2="1">
<stop offset="0" stop-color="#6a9fe6"/><stop offset="1" stop-color="#ffffff"/></linearGradient>
</defs>
<path d="M26.60,428.80 L51.40,428.80 L59.60,439.80 L17.60,439.80 Z" fill="url(#conej)"/>
<rect x="23.10" y="397.60" width="31.50" height="24.20" fill="url(#objj)" stroke="#222" stroke-width="0.5"/>
<path d="M23.10,421.80 L54.60,421.80 L51.40,428.80 L26.60,428.80 Z" fill="url(#objbj)"/>
<line x1="33.0" y1="392.0" x2="33.0" y2="417.7" stroke="#5b9ee0" stroke-width="1.4"/>
<path d="M30.8,416.7 L35.2,416.7 L33.0,420.7 Z" fill="#5b9ee0"/>
<line x1="45.1" y1="420.7" x2="45.1" y2="394.0" stroke="#4e7a48" stroke-width="1.4"/>
<path d="M42.9,395.0 L47.300000000000004,395.0 L45.1,391.0 Z" fill="#4e7a48"/>
<ellipse cx="39.4" cy="458.5" rx="24.2" ry="9.6" fill="#eaf4f4" stroke="#b4bfc1" stroke-width="0.7"/>
<rect x="15.2" y="452.2" width="48.4" height="6.3" fill="#eaf4f4"/>
<line x1="15.2" y1="452.2" x2="15.2" y2="458.5" stroke="#b4bfc1" stroke-width="0.7"/>
<line x1="63.599999999999994" y1="452.2" x2="63.599999999999994" y2="458.5" stroke="#b4bfc1" stroke-width="0.7"/>
<ellipse cx="39.4" cy="452.2" rx="24.2" ry="9.6" fill="#f4f9f9" stroke="#c4cccd" stroke-width="0.7"/>
<ellipse cx="39.4" cy="455.66499999999996" rx="22.506" ry="8.448" fill="#dcefef" stroke="#cddede" stroke-width="0.5"/>
<ellipse cx="37.42" cy="456.61" rx="1.45" ry="0.75" fill="#7bc27b"/>
<ellipse cx="57.06" cy="455.12" rx="1.44" ry="0.73" fill="#55ad5a"/>
<ellipse cx="39.73" cy="457.04" rx="1.07" ry="0.72" fill="#55ad5a"/>
<ellipse cx="26.27" cy="455.85" rx="1.05" ry="0.91" fill="#2e8a3a"/>
<ellipse cx="44.81" cy="460.28" rx="1.27" ry="0.88" fill="#2e8a3a"/>
<ellipse cx="22.51" cy="452.57" rx="1.20" ry="0.87" fill="#55ad5a"/>
<ellipse cx="45.81" cy="457.48" rx="1.05" ry="0.84" fill="#3d9a48"/>
<ellipse cx="40.58" cy="448.73" rx="1.46" ry="0.94" fill="#7bc27b"/>
<ellipse cx="26.51" cy="451.60" rx="1.35" ry="0.86" fill="#3d9a48"/>
<ellipse cx="19.84" cy="455.10" rx="1.25" ry="0.87" fill="#7bc27b"/>
<ellipse cx="36.92" cy="461.06" rx="1.40" ry="0.82" fill="#55ad5a"/>
<ellipse cx="37.62" cy="452.17" rx="1.02" ry="0.84" fill="#3d9a48"/>
<ellipse cx="53.56" cy="458.94" rx="1.45" ry="0.82" fill="#96cf96"/>
<ellipse cx="31.71" cy="451.41" rx="1.09" ry="0.75" fill="#55ad5a"/>
<ellipse cx="50.48" cy="454.10" rx="1.50" ry="0.93" fill="#55ad5a"/>
<ellipse cx="53.83" cy="453.88" rx="1.29" ry="0.73" fill="#3d9a48"/>
<ellipse cx="21.63" cy="457.70" rx="1.23" ry="0.89" fill="#4aa552"/>
<ellipse cx="50.99" cy="452.04" rx="1.20" ry="0.81" fill="#7bc27b"/>
<ellipse cx="51.76" cy="450.59" rx="1.22" ry="0.85" fill="#7bc27b"/>
<ellipse cx="41.87" cy="454.84" rx="1.32" ry="0.71" fill="#3d9a48"/>
<ellipse cx="26.53" cy="459.32" rx="1.09" ry="0.81" fill="#55ad5a"/>
<ellipse cx="24.04" cy="457.93" rx="1.19" ry="0.93" fill="#4aa552"/>
<ellipse cx="23.44" cy="454.42" rx="1.08" ry="0.83" fill="#96cf96"/>
<ellipse cx="31.25" cy="461.72" rx="1.16" ry="0.72" fill="#3d9a48"/>
<ellipse cx="27.36" cy="454.00" rx="1.44" ry="0.93" fill="#4aa552"/>
<ellipse cx="30.92" cy="448.95" rx="1.28" ry="0.75" fill="#2e8a3a"/>
<ellipse cx="28.70" cy="457.26" rx="1.49" ry="0.90" fill="#96cf96"/>
<ellipse cx="34.06" cy="454.93" rx="1.14" ry="0.73" fill="#7bc27b"/>
<ellipse cx="42.50" cy="461.44" rx="1.39" ry="0.90" fill="#4aa552"/>
<ellipse cx="28.97" cy="450.78" rx="1.07" ry="0.78" fill="#2e8a3a"/>
<ellipse cx="55.31" cy="457.30" rx="1.35" ry="0.89" fill="#96cf96"/>
<ellipse cx="36.13" cy="449.43" rx="1.20" ry="0.88" fill="#55ad5a"/>
<ellipse cx="29.28" cy="460.76" rx="1.40" ry="0.78" fill="#3d9a48"/>
<ellipse cx="43.42" cy="452.41" rx="1.01" ry="0.79" fill="#3d9a48"/>
<ellipse cx="42.40" cy="449.86" rx="1.45" ry="0.71" fill="#4aa552"/>
<ellipse cx="33.66" cy="461.82" rx="1.47" ry="0.87" fill="#7bc27b"/>
<ellipse cx="38.66" cy="459.29" rx="1.11" ry="0.80" fill="#7bc27b"/>
<ellipse cx="49.27" cy="461.97" rx="1.27" ry="0.80" fill="#55ad5a"/>
<ellipse cx="49.27" cy="458.87" rx="1.32" ry="0.88" fill="#2e8a3a"/>
<ellipse cx="33.23" cy="458.58" rx="1.49" ry="0.71" fill="#2e8a3a"/>
<ellipse cx="44.60" cy="453.81" rx="1.05" ry="0.76" fill="#96cf96"/>
<ellipse cx="42.84" cy="457.38" rx="1.20" ry="0.71" fill="#2e8a3a"/>
<ellipse cx="49.18" cy="456.94" rx="1.32" ry="0.70" fill="#55ad5a"/>
<ellipse cx="47.66" cy="455.62" rx="1.13" ry="0.93" fill="#7bc27b"/>
<ellipse cx="44.63" cy="455.57" rx="1.27" ry="0.80" fill="#96cf96"/>
<ellipse cx="31.45" cy="460.25" rx="1.28" ry="0.95" fill="#96cf96"/>
<ellipse cx="47.08" cy="450.93" rx="1.22" ry="0.86" fill="#4aa552"/>
<ellipse cx="38.37" cy="450.61" rx="1.30" ry="0.89" fill="#96cf96"/>
<ellipse cx="29.92" cy="453.24" rx="1.19" ry="0.93" fill="#3d9a48"/>
<ellipse cx="34.97" cy="460.26" rx="1.24" ry="0.74" fill="#2e8a3a"/>
<ellipse cx="44.63" cy="462.12" rx="1.27" ry="0.85" fill="#2e8a3a"/>
<ellipse cx="34.27" cy="456.75" rx="1.47" ry="0.81" fill="#2e8a3a"/>
<ellipse cx="40.94" cy="460.24" rx="1.20" ry="0.78" fill="#96cf96"/>
<ellipse cx="58.90" cy="456.05" rx="1.14" ry="0.86" fill="#96cf96"/>
<ellipse cx="47.35" cy="448.83" rx="1.46" ry="0.87" fill="#96cf96"/>
<ellipse cx="29.79" cy="455.24" rx="1.15" ry="0.70" fill="#4aa552"/>
<ellipse cx="47.19" cy="452.86" rx="1.29" ry="0.86" fill="#55ad5a"/>
<ellipse cx="22.95" cy="459.30" rx="1.38" ry="0.80" fill="#2e8a3a"/>
<ellipse cx="23.70" cy="455.83" rx="1.37" ry="0.71" fill="#7bc27b"/>
<ellipse cx="54.25" cy="451.46" rx="1.47" ry="0.72" fill="#4aa552"/>
<ellipse cx="49.42" cy="460.55" rx="1.21" ry="0.82" fill="#55ad5a"/>
<ellipse cx="56.16" cy="452.77" rx="1.02" ry="0.72" fill="#55ad5a"/>
<text x="7.00" y="483.90" font-size="11.0" font-family='"Liberation Sans", sans-serif' fill="#231f20" stroke="#231f20" stroke-width="0.18">HT-29/Fluo-4</text>
<line x1="105.10" y1="403.00" x2="105.10" y2="474.60" stroke="#231f20" stroke-width="1"/>
<line x1="104.60" y1="474.10" x2="211.70" y2="474.10" stroke="#231f20" stroke-width="1"/>
<line x1="101.80" y1="474.80" x2="105.10" y2="474.80" stroke="#231f20" stroke-width="1"/>
<text x="91.10" y="477.40" font-size="7.4" font-family='"Liberation Sans", sans-serif' fill="#231f20" stroke="#231f20" stroke-width="0.18">0.5</text>
<line x1="101.80" y1="457.10" x2="105.10" y2="457.10" stroke="#231f20" stroke-width="1"/>
<text x="91.10" y="459.70" font-size="7.4" font-family='"Liberation Sans", sans-serif' fill="#231f20" stroke="#231f20" stroke-width="0.18">1.0</text>
<line x1="101.80" y1="439.40" x2="105.10" y2="439.40" stroke="#231f20" stroke-width="1"/>
<text x="91.10" y="442.00" font-size="7.4" font-family='"Liberation Sans", sans-serif' fill="#231f20" stroke="#231f20" stroke-width="0.18">1.5</text>
<line x1="101.80" y1="421.70" x2="105.10" y2="421.70" stroke="#231f20" stroke-width="1"/>
<text x="91.10" y="424.30" font-size="7.4" font-family='"Liberation Sans", sans-serif' fill="#231f20" stroke="#231f20" stroke-width="0.18">2.0</text>
<line x1="101.80" y1="404.00" x2="105.10" y2="404.00" stroke="#231f20" stroke-width="1"/>
<text x="91.10" y="406.60" font-size="7.4" font-family='"Liberation Sans", sans-serif' fill="#231f20" stroke="#231f20" stroke-width="0.18">2.5</text>
<line x1="105.10" y1="474.10" x2="105.10" y2="477.10" stroke="#231f20" stroke-width="1"/>
<text x="103.05" y="485.40" font-size="7.4" font-family='"Liberation Sans", sans-serif' fill="#231f20" stroke="#231f20" stroke-width="0.18">0</text>
<line x1="131.70" y1="474.10" x2="131.70" y2="477.10" stroke="#231f20" stroke-width="1"/>
<text x="127.60" y="485.40" font-size="7.4" font-family='"Liberation Sans", sans-serif' fill="#231f20" stroke="#231f20" stroke-width="0.18">50</text>
<line x1="158.30" y1="474.10" x2="158.30" y2="477.10" stroke="#231f20" stroke-width="1"/>
<text x="152.00" y="485.40" font-size="7.4" font-family='"Liberation Sans", sans-serif' fill="#231f20" stroke="#231f20" stroke-width="0.18">100</text>
<line x1="184.90" y1="474.10" x2="184.90" y2="477.10" stroke="#231f20" stroke-width="1"/>
<text x="178.60" y="485.40" font-size="7.4" font-family='"Liberation Sans", sans-serif' fill="#231f20" stroke="#231f20" stroke-width="0.18">150</text>
<line x1="211.50" y1="474.10" x2="211.50" y2="477.10" stroke="#231f20" stroke-width="1"/>
<text x="205.30" y="485.40" font-size="7.4" font-family='"Liberation Sans", sans-serif' fill="#231f20" stroke="#231f20" stroke-width="0.18">200</text>
<text x="145.10" y="496.20" font-size="7.4" font-family='"Liberation Sans", sans-serif' fill="#231f20" stroke="#231f20" stroke-width="0.18">Time (s)</text>
<text transform="translate(82.40,437.60) rotate(-90)" x="-34.15" y="2.90" font-size="8.0" font-family='"Liberation Sans", sans-serif' fill="#231f20" stroke="#231f20" stroke-width="0.18">Fluo-4 A.F.U.(F/F<tspan font-size="5.6" dy="1.6">0</tspan><tspan dy="-1.6">)</tspan></text>
<circle cx="105.10" cy="455.68" r="1.45" fill="#fff" stroke="#8443b0" stroke-width="0.75"/>
<circle cx="106.16" cy="455.72" r="1.45" fill="#fff" stroke="#8443b0" stroke-width="0.75"/>
<circle cx="107.23" cy="455.77" r="1.45" fill="#fff" stroke="#8443b0" stroke-width="0.75"/>
<circle cx="108.29" cy="455.83" r="1.45" fill="#fff" stroke="#8443b0" stroke-width="0.75"/>
<circle cx="109.36" cy="455.90" r="1.45" fill="#fff" stroke="#8443b0" stroke-width="0.75"/>
<circle cx="110.42" cy="455.97" r="1.45" fill="#fff" stroke="#8443b0" stroke-width="0.75"/>
<circle cx="111.48" cy="456.04" r="1.45" fill="#fff" stroke="#8443b0" stroke-width="0.75"/>
<circle cx="112.55" cy="456.09" r="1.45" fill="#fff" stroke="#8443b0" stroke-width="0.75"/>
<circle cx="113.61" cy="456.15" r="1.45" fill="#fff" stroke="#8443b0" stroke-width="0.75"/>
<circle cx="114.68" cy="456.20" r="1.45" fill="#fff" stroke="#8443b0" stroke-width="0.75"/>
<circle cx="115.74" cy="456.28" r="1.45" fill="#fff" stroke="#8443b0" stroke-width="0.75"/>
<circle cx="116.80" cy="456.39" r="1.45" fill="#fff" stroke="#8443b0" stroke-width="0.75"/>
<circle cx="117.87" cy="456.59" r="1.45" fill="#fff" stroke="#8443b0" stroke-width="0.75"/>
<circle cx="118.93" cy="456.86" r="1.45" fill="#fff" stroke="#8443b0" stroke-width="0.75"/>
<circle cx="120.00" cy="457.10" r="1.45" fill="#fff" stroke="#8443b0" stroke-width="0.75"/>
<circle cx="121.06" cy="457.42" r="1.45" fill="#fff" stroke="#8443b0" stroke-width="0.75"/>
<circle cx="122.12" cy="457.10" r="1.45" fill="#fff" stroke="#8443b0" stroke-width="0.75"/>
<circle cx="123.19" cy="455.47" r="1.45" fill="#fff" stroke="#8443b0" stroke-width="0.75"/>
<circle cx="124.25" cy="453.13" r="1.45" fill="#fff" stroke="#8443b0" stroke-width="0.75"/>
<circle cx="125.32" cy="450.37" r="1.45" fill="#fff" stroke="#8443b0" stroke-width="0.75"/>
<circle cx="126.38" cy="447.99" r="1.45" fill="#fff" stroke="#8443b0" stroke-width="0.75"/>
<circle cx="127.44" cy="445.61" r="1.45" fill="#fff" stroke="#8443b0" stroke-width="0.75"/>
<circle cx="128.51" cy="442.88" r="1.45" fill="#fff" stroke="#8443b0" stroke-width="0.75"/>
<circle cx="129.57" cy="439.90" r="1.45" fill="#fff" stroke="#8443b0" stroke-width="0.75"/>
<circle cx="130.64" cy="437.24" r="1.45" fill="#fff" stroke="#8443b0" stroke-width="0.75"/>
<circle cx="131.70" cy="434.97" r="1.45" fill="#fff" stroke="#8443b0" stroke-width="0.75"/>
<circle cx="132.76" cy="433.03" r="1.45" fill="#fff" stroke="#8443b0" stroke-width="0.75"/>
<circle cx="133.83" cy="431.41" r="1.45" fill="#fff" stroke="#8443b0" stroke-width="0.75"/>
<circle cx="134.89" cy="430.06" r="1.45" fill="#fff" stroke="#8443b0" stroke-width="0.75"/>
<circle cx="135.96" cy="428.95" r="1.45" fill="#fff" stroke="#8443b0" stroke-width="0.75"/>
<circle cx="137.02" cy="427.96" r="1.45" fill="#fff" stroke="#8443b0" stroke-width="0.75"/>
<circle cx="138.08" cy="427.23" r="1.45" fill="#fff" stroke="#8443b0" stroke-width="0.75"/>
<circle cx="139.15" cy="426.90" r="1.45" fill="#fff" stroke="#8443b0" stroke-width="0.75"/>
<circle cx="140.21" cy="426.95" r="1.45" fill="#fff" stroke="#8443b0" stroke-width="0.75"/>
<circle cx="141.28" cy="427.22" r="1.45" fill="#fff" stroke="#8443b0" stroke-width="0.75"/>
<circle cx="142.34" cy="427.61" r="1.45" fill="#fff" stroke="#8443b0" stroke-width="0.75"/>
<circle cx="143.40" cy="428.13" r="1.45" fill="#fff" stroke="#8443b0" stroke-width="0.75"/>
<circle cx="144.47" cy="428.80" r="1.45" fill="#fff" stroke="#8443b0" stroke-width="0.75"/>
<circle cx="145.53" cy="429.57" r="1.45" fill="#fff" stroke="#8443b0" stroke-width="0.75"/>
<circle cx="146.60" cy="430.43" r="1.45" fill="#fff" stroke="#8443b0" stroke-width="0.75"/>
<circle cx="147.66" cy="431.38" r="1.45" fill="#fff" stroke="#8443b0" stroke-width="0.75"/>
<circle cx="148.72" cy="432.33" r="1.45" fill="#fff" stroke="#8443b0" stroke-width="0.75"/>
<circle cx="149.79" cy="433.22" r="1.45" fill="#fff" stroke="#8443b0" stroke-width="0.75"/>
<circle cx="150.85" cy="433.99" r="1.45" fill="#fff" stroke="#8443b0" stroke-width="0.75"/>
<circle cx="151.92" cy="434.71" r="1.45" fill="#fff" stroke="#8443b0" stroke-width="0.75"/>
<circle cx="152.98" cy="435.40" r="1.45" fill="#fff" stroke="#8443b0" stroke-width="0.75"/>
<circle cx="154.04" cy="436.05" r="1.45" fill="#fff" stroke="#8443b0" stroke-width="0.75"/>
<circle cx="155.11" cy="436.65" r="1.45" fill="#fff" stroke="#8443b0" stroke-width="0.75"/>
<circle cx="156.17" cy="437.19" r="1.45" fill="#fff" stroke="#8443b0" stroke-width="0.75"/>
<circle cx="157.24" cy="437.65" r="1.45" fill="#fff" stroke="#8443b0" stroke-width="0.75"/>
<circle cx="158.30" cy="438.06" r="1.45" fill="#fff" stroke="#8443b0" stroke-width="0.75"/>
<circle cx="159.36" cy="438.45" r="1.45" fill="#fff" stroke="#8443b0" stroke-width="0.75"/>
<circle cx="160.43" cy="438.80" r="1.45" fill="#fff" stroke="#8443b0" stroke-width="0.75"/>
<circle cx="161.49" cy="439.13" r="1.45" fill="#fff" stroke="#8443b0" stroke-width="0.75"/>
<circle cx="162.56" cy="439.44" r="1.45" fill="#fff" stroke="#8443b0" stroke-width="0.75"/>
<circle cx="163.62" cy="439.71" r="1.45" fill="#fff" stroke="#8443b0" stroke-width="0.75"/>
<circle cx="164.68" cy="439.96" r="1.45" fill="#fff" stroke="#8443b0" stroke-width="0.75"/>
<circle cx="165.75" cy="440.19" r="1.45" fill="#fff" stroke="#8443b0" stroke-width="0.75"/>
<circle cx="166.81" cy="440.40" r="1.45" fill="#fff" stroke="#8443b0" stroke-width="0.75"/>
<circle cx="167.88" cy="440.57" r="1.45" fill="#fff" stroke="#8443b0" stroke-width="0.75"/>
<circle cx="168.94" cy="440.69" r="1.45" fill="#fff" stroke="#8443b0" stroke-width="0.75"/>
<circle cx="170.00" cy="440.77" r="1.45" fill="#fff" stroke="#8443b0" stroke-width="0.75"/>
<circle cx="171.07" cy="440.81" r="1.45" fill="#fff" stroke="#8443b0" stroke-width="0.75"/>
<circle cx="172.13" cy="440.83" r="1.45" fill="#fff" stroke="#8443b0" stroke-width="0.75"/>
<circle cx="173.20" cy="440.83" r="1.45" fill="#fff" stroke="#8443b0" stroke-width="0.75"/>
<circle cx="174.26" cy="440.82" r="1.45" fill="#fff" stroke="#8443b0" stroke-width="0.75"/>
<circle cx="175.32" cy="440.82" r="1.45" fill="#fff" stroke="#8443b0" stroke-width="0.75"/>
<circle cx="176.39" cy="440.81" r="1.45" fill="#fff" stroke="#8443b0" stroke-width="0.75"/>
<circle cx="177.45" cy="440.79" r="1.45" fill="#fff" stroke="#8443b0" stroke-width="0.75"/>
<circle cx="178.52" cy="440.76" r="1.45" fill="#fff" stroke="#8443b0" stroke-width="0.75"/>
<circle cx="179.58" cy="440.72" r="1.45" fill="#fff" stroke="#8443b0" stroke-width="0.75"/>
<circle cx="180.64" cy="440.66" r="1.45" fill="#fff" stroke="#8443b0" stroke-width="0.75"/>
<circle cx="181.71" cy="440.60" r="1.45" fill="#fff" stroke="#8443b0" stroke-width="0.75"/>
<circle cx="182.77" cy="440.54" r="1.45" fill="#fff" stroke="#8443b0" stroke-width="0.75"/>
<circle cx="183.84" cy="440.47" r="1.45" fill="#fff" stroke="#8443b0" stroke-width="0.75"/>
<circle cx="184.90" cy="440.39" r="1.45" fill="#fff" stroke="#8443b0" stroke-width="0.75"/>
<circle cx="185.96" cy="440.28" r="1.45" fill="#fff" stroke="#8443b0" stroke-width="0.75"/>
<circle cx="187.03" cy="440.16" r="1.45" fill="#fff" stroke="#8443b0" stroke-width="0.75"/>
<circle cx="188.09" cy="440.03" r="1.45" fill="#fff" stroke="#8443b0" stroke-width="0.75"/>
<circle cx="189.16" cy="439.91" r="1.45" fill="#fff" stroke="#8443b0" stroke-width="0.75"/>
<circle cx="190.22" cy="439.82" r="1.45" fill="#fff" stroke="#8443b0" stroke-width="0.75"/>
<circle cx="191.28" cy="439.76" r="1.45" fill="#fff" stroke="#8443b0" stroke-width="0.75"/>
<circle cx="192.35" cy="439.75" r="1.45" fill="#fff" stroke="#8443b0" stroke-width="0.75"/>
<circle cx="193.41" cy="439.81" r="1.45" fill="#fff" stroke="#8443b0" stroke-width="0.75"/>
<circle cx="194.48" cy="439.91" r="1.45" fill="#fff" stroke="#8443b0" stroke-width="0.75"/>
<circle cx="195.54" cy="440.05" r="1.45" fill="#fff" stroke="#8443b0" stroke-width="0.75"/>
<circle cx="196.60" cy="440.21" r="1.45" fill="#fff" stroke="#8443b0" stroke-width="0.75"/>
<circle cx="197.67" cy="440.38" r="1.45" fill="#fff" stroke="#8443b0" stroke-width="0.75"/>
<circle cx="198.73" cy="440.55" r="1.45" fill="#fff" stroke="#8443b0" stroke-width="0.75"/>
<circle cx="199.80" cy="440.70" r="1.45" fill="#fff" stroke="#8443b0" stroke-width="0.75"/>
<circle cx="200.86" cy="440.82" r="1.45" fill="#fff" stroke="#8443b0" stroke-width="0.75"/>
<circle cx="201.92" cy="440.91" r="1.45" fill="#fff" stroke="#8443b0" stroke-width="0.75"/>
<circle cx="202.99" cy="441.00" r="1.45" fill="#fff" stroke="#8443b0" stroke-width="0.75"/>
<circle cx="204.05" cy="441.09" r="1.45" fill="#fff" stroke="#8443b0" stroke-width="0.75"/>
<circle cx="205.12" cy="441.17" r="1.45" fill="#fff" stroke="#8443b0" stroke-width="0.75"/>
<circle cx="206.18" cy="441.25" r="1.45" fill="#fff" stroke="#8443b0" stroke-width="0.75"/>
<circle cx="207.24" cy="441.32" r="1.45" fill="#fff" stroke="#8443b0" stroke-width="0.75"/>
<circle cx="208.31" cy="441.38" r="1.45" fill="#fff" stroke="#8443b0" stroke-width="0.75"/>
<circle cx="209.37" cy="441.44" r="1.45" fill="#fff" stroke="#8443b0" stroke-width="0.75"/>
<circle cx="210.44" cy="441.48" r="1.45" fill="#fff" stroke="#8443b0" stroke-width="0.75"/>
<circle cx="211.50" cy="441.52" r="1.45" fill="#fff" stroke="#8443b0" stroke-width="0.75"/>
<path d="M105.10,456.39 L106.16,456.43 L107.23,456.48 L108.29,456.54 L109.36,456.61 L110.42,456.68 L111.48,456.75 L112.55,456.80 L113.61,456.85 L114.68,456.91 L115.74,456.99 L116.80,457.10 L117.87,457.30 L118.93,457.57 L120.00,457.81 L121.06,458.13 L122.12,457.81 L123.19,456.18 L124.25,453.83 L125.32,451.08 L126.38,448.69 L127.44,446.31 L128.51,443.59 L129.57,440.61 L130.64,437.95 L131.70,435.68 L132.76,433.74 L133.83,432.12 L134.89,430.77 L135.96,429.65 L137.02,428.67 L138.08,427.94 L139.15,427.61 L140.21,427.65 L141.28,427.93 L142.34,428.32 L143.40,428.84 L144.47,429.51 L145.53,430.28 L146.60,431.14 L147.66,432.09 L148.72,433.04 L149.79,433.93 L150.85,434.70 L151.92,435.42 L152.98,436.11 L154.04,436.76 L155.11,437.36 L156.17,437.90 L157.24,438.36 L158.30,438.77 L159.36,439.16 L160.43,439.51 L161.49,439.84 L162.56,440.14 L163.62,440.42 L164.68,440.67 L165.75,440.90 L166.81,441.10 L167.88,441.28 L168.94,441.40 L170.00,441.48 L171.07,441.52 L172.13,441.54 L173.20,441.54 L174.26,441.53 L175.32,441.52 L176.39,441.52 L177.45,441.50 L178.52,441.47 L179.58,441.42 L180.64,441.37 L181.71,441.31 L182.77,441.25 L183.84,441.18 L184.90,441.10 L185.96,440.99 L187.03,440.87 L188.09,440.74 L189.16,440.62 L190.22,440.53 L191.28,440.47 L192.35,440.46 L193.41,440.51 L194.48,440.62 L195.54,440.76 L196.60,440.92 L197.67,441.09 L198.73,441.26 L199.80,441.41 L200.86,441.52 L201.92,441.62 L202.99,441.71 L204.05,441.80 L205.12,441.88 L206.18,441.96 L207.24,442.03 L208.31,442.09 L209.37,442.14 L210.44,442.19 L211.50,442.23" fill="none" stroke="#8443b0" stroke-width="0.9"/>
<circle cx="105.10" cy="456.39" r="1.45" fill="#fff" stroke="#8443b0" stroke-width="0.75"/>
<circle cx="106.16" cy="456.43" r="1.45" fill="#fff" stroke="#8443b0" stroke-width="0.75"/>
<circle cx="107.23" cy="456.48" r="1.45" fill="#fff" stroke="#8443b0" stroke-width="0.75"/>
<circle cx="108.29" cy="456.54" r="1.45" fill="#fff" stroke="#8443b0" stroke-width="0.75"/>
<circle cx="109.36" cy="456.61" r="1.45" fill="#fff" stroke="#8443b0" stroke-width="0.75"/>
<circle cx="110.42" cy="456.68" r="1.45" fill="#fff" stroke="#8443b0" stroke-width="0.75"/>
<circle cx="111.48" cy="456.75" r="1.45" fill="#fff" stroke="#8443b0" stroke-width="0.75"/>
<circle cx="112.55" cy="456.80" r="1.45" fill="#fff" stroke="#8443b0" stroke-width="0.75"/>
<circle cx="113.61" cy="456.85" r="1.45" fill="#fff" stroke="#8443b0" stroke-width="0.75"/>
<circle cx="114.68" cy="456.91" r="1.45" fill="#fff" stroke="#8443b0" stroke-width="0.75"/>
<circle cx="115.74" cy="456.99" r="1.45" fill="#fff" stroke="#8443b0" stroke-width="0.75"/>
<circle cx="116.80" cy="457.10" r="1.45" fill="#fff" stroke="#8443b0" stroke-width="0.75"/>
<circle cx="117.87" cy="457.30" r="1.45" fill="#fff" stroke="#8443b0" stroke-width="0.75"/>
<circle cx="118.93" cy="457.57" r="1.45" fill="#fff" stroke="#8443b0" stroke-width="0.75"/>
<circle cx="120.00" cy="457.81" r="1.45" fill="#fff" stroke="#8443b0" stroke-width="0.75"/>
<circle cx="121.06" cy="458.13" r="1.45" fill="#fff" stroke="#8443b0" stroke-width="0.75"/>
<circle cx="122.12" cy="457.81" r="1.45" fill="#fff" stroke="#8443b0" stroke-width="0.75"/>
<circle cx="123.19" cy="456.18" r="1.45" fill="#fff" stroke="#8443b0" stroke-width="0.75"/>
<circle cx="124.25" cy="453.83" r="1.45" fill="#fff" stroke="#8443b0" stroke-width="0.75"/>
<circle cx="125.32" cy="451.08" r="1.45" fill="#fff" stroke="#8443b0" stroke-width="0.75"/>
<circle cx="126.38" cy="448.69" r="1.45" fill="#fff" stroke="#8443b0" stroke-width="0.75"/>
<circle cx="127.44" cy="446.31" r="1.45" fill="#fff" stroke="#8443b0" stroke-width="0.75"/>
<circle cx="128.51" cy="443.59" r="1.45" fill="#fff" stroke="#8443b0" stroke-width="0.75"/>
<circle cx="129.57" cy="440.61" r="1.45" fill="#fff" stroke="#8443b0" stroke-width="0.75"/>
<circle cx="130.64" cy="437.95" r="1.45" fill="#fff" stroke="#8443b0" stroke-width="0.75"/>
<circle cx="131.70" cy="435.68" r="1.45" fill="#fff" stroke="#8443b0" stroke-width="0.75"/>
<circle cx="132.76" cy="433.74" r="1.45" fill="#fff" stroke="#8443b0" stroke-width="0.75"/>
<circle cx="133.83" cy="432.12" r="1.45" fill="#fff" stroke="#8443b0" stroke-width="0.75"/>
<circle cx="134.89" cy="430.77" r="1.45" fill="#fff" stroke="#8443b0" stroke-width="0.75"/>
<circle cx="135.96" cy="429.65" r="1.45" fill="#fff" stroke="#8443b0" stroke-width="0.75"/>
<circle cx="137.02" cy="428.67" r="1.45" fill="#fff" stroke="#8443b0" stroke-width="0.75"/>
<circle cx="138.08" cy="427.94" r="1.45" fill="#fff" stroke="#8443b0" stroke-width="0.75"/>
<circle cx="139.15" cy="427.61" r="1.45" fill="#fff" stroke="#8443b0" stroke-width="0.75"/>
<circle cx="140.21" cy="427.65" r="1.45" fill="#fff" stroke="#8443b0" stroke-width="0.75"/>
<circle cx="141.28" cy="427.93" r="1.45" fill="#fff" stroke="#8443b0" stroke-width="0.75"/>
<circle cx="142.34" cy="428.32" r="1.45" fill="#fff" stroke="#8443b0" stroke-width="0.75"/>
<circle cx="143.40" cy="428.84" r="1.45" fill="#fff" stroke="#8443b0" stroke-width="0.75"/>
<circle cx="144.47" cy="429.51" r="1.45" fill="#fff" stroke="#8443b0" stroke-width="0.75"/>
<circle cx="145.53" cy="430.28" r="1.45" fill="#fff" stroke="#8443b0" stroke-width="0.75"/>
<circle cx="146.60" cy="431.14" r="1.45" fill="#fff" stroke="#8443b0" stroke-width="0.75"/>
<circle cx="147.66" cy="432.09" r="1.45" fill="#fff" stroke="#8443b0" stroke-width="0.75"/>
<circle cx="148.72" cy="433.04" r="1.45" fill="#fff" stroke="#8443b0" stroke-width="0.75"/>
<circle cx="149.79" cy="433.93" r="1.45" fill="#fff" stroke="#8443b0" stroke-width="0.75"/>
<circle cx="150.85" cy="434.70" r="1.45" fill="#fff" stroke="#8443b0" stroke-width="0.75"/>
<circle cx="151.92" cy="435.42" r="1.45" fill="#fff" stroke="#8443b0" stroke-width="0.75"/>
<circle cx="152.98" cy="436.11" r="1.45" fill="#fff" stroke="#8443b0" stroke-width="0.75"/>
<circle cx="154.04" cy="436.76" r="1.45" fill="#fff" stroke="#8443b0" stroke-width="0.75"/>
<circle cx="155.11" cy="437.36" r="1.45" fill="#fff" stroke="#8443b0" stroke-width="0.75"/>
<circle cx="156.17" cy="437.90" r="1.45" fill="#fff" stroke="#8443b0" stroke-width="0.75"/>
<circle cx="157.24" cy="438.36" r="1.45" fill="#fff" stroke="#8443b0" stroke-width="0.75"/>
<circle cx="158.30" cy="438.77" r="1.45" fill="#fff" stroke="#8443b0" stroke-width="0.75"/>
<circle cx="159.36" cy="439.16" r="1.45" fill="#fff" stroke="#8443b0" stroke-width="0.75"/>
<circle cx="160.43" cy="439.51" r="1.45" fill="#fff" stroke="#8443b0" stroke-width="0.75"/>
<circle cx="161.49" cy="439.84" r="1.45" fill="#fff" stroke="#8443b0" stroke-width="0.75"/>
<circle cx="162.56" cy="440.14" r="1.45" fill="#fff" stroke="#8443b0" stroke-width="0.75"/>
<circle cx="163.62" cy="440.42" r="1.45" fill="#fff" stroke="#8443b0" stroke-width="0.75"/>
<circle cx="164.68" cy="440.67" r="1.45" fill="#fff" stroke="#8443b0" stroke-width="0.75"/>
<circle cx="165.75" cy="440.90" r="1.45" fill="#fff" stroke="#8443b0" stroke-width="0.75"/>
<circle cx="166.81" cy="441.10" r="1.45" fill="#fff" stroke="#8443b0" stroke-width="0.75"/>
<circle cx="167.88" cy="441.28" r="1.45" fill="#fff" stroke="#8443b0" stroke-width="0.75"/>
<circle cx="168.94" cy="441.40" r="1.45" fill="#fff" stroke="#8443b0" stroke-width="0.75"/>
<circle cx="170.00" cy="441.48" r="1.45" fill="#fff" stroke="#8443b0" stroke-width="0.75"/>
<circle cx="171.07" cy="441.52" r="1.45" fill="#fff" stroke="#8443b0" stroke-width="0.75"/>
<circle cx="172.13" cy="441.54" r="1.45" fill="#fff" stroke="#8443b0" stroke-width="0.75"/>
<circle cx="173.20" cy="441.54" r="1.45" fill="#fff" stroke="#8443b0" stroke-width="0.75"/>
<circle cx="174.26" cy="441.53" r="1.45" fill="#fff" stroke="#8443b0" stroke-width="0.75"/>
<circle cx="175.32" cy="441.52" r="1.45" fill="#fff" stroke="#8443b0" stroke-width="0.75"/>
<circle cx="176.39" cy="441.52" r="1.45" fill="#fff" stroke="#8443b0" stroke-width="0.75"/>
<circle cx="177.45" cy="441.50" r="1.45" fill="#fff" stroke="#8443b0" stroke-width="0.75"/>
<circle cx="178.52" cy="441.47" r="1.45" fill="#fff" stroke="#8443b0" stroke-width="0.75"/>
<circle cx="179.58" cy="441.42" r="1.45" fill="#fff" stroke="#8443b0" stroke-width="0.75"/>
<circle cx="180.64" cy="441.37" r="1.45" fill="#fff" stroke="#8443b0" stroke-width="0.75"/>
<circle cx="181.71" cy="441.31" r="1.45" fill="#fff" stroke="#8443b0" stroke-width="0.75"/>
<circle cx="182.77" cy="441.25" r="1.45" fill="#fff" stroke="#8443b0" stroke-width="0.75"/>
<circle cx="183.84" cy="441.18" r="1.45" fill="#fff" stroke="#8443b0" stroke-width="0.75"/>
<circle cx="184.90" cy="441.10" r="1.45" fill="#fff" stroke="#8443b0" stroke-width="0.75"/>
<circle cx="185.96" cy="440.99" r="1.45" fill="#fff" stroke="#8443b0" stroke-width="0.75"/>
<circle cx="187.03" cy="440.87" r="1.45" fill="#fff" stroke="#8443b0" stroke-width="0.75"/>
<circle cx="188.09" cy="440.74" r="1.45" fill="#fff" stroke="#8443b0" stroke-width="0.75"/>
<circle cx="189.16" cy="440.62" r="1.45" fill="#fff" stroke="#8443b0" stroke-width="0.75"/>
<circle cx="190.22" cy="440.53" r="1.45" fill="#fff" stroke="#8443b0" stroke-width="0.75"/>
<circle cx="191.28" cy="440.47" r="1.45" fill="#fff" stroke="#8443b0" stroke-width="0.75"/>
<circle cx="192.35" cy="440.46" r="1.45" fill="#fff" stroke="#8443b0" stroke-width="0.75"/>
<circle cx="193.41" cy="440.51" r="1.45" fill="#fff" stroke="#8443b0" stroke-width="0.75"/>
<circle cx="194.48" cy="440.62" r="1.45" fill="#fff" stroke="#8443b0" stroke-width="0.75"/>
<circle cx="195.54" cy="440.76" r="1.45" fill="#fff" stroke="#8443b0" stroke-width="0.75"/>
<circle cx="196.60" cy="440.92" r="1.45" fill="#fff" stroke="#8443b0" stroke-width="0.75"/>
<circle cx="197.67" cy="441.09" r="1.45" fill="#fff" stroke="#8443b0" stroke-width="0.75"/>
<circle cx="198.73" cy="441.26" r="1.45" fill="#fff" stroke="#8443b0" stroke-width="0.75"/>
<circle cx="199.80" cy="441.41" r="1.45" fill="#fff" stroke="#8443b0" stroke-width="0.75"/>
<circle cx="200.86" cy="441.52" r="1.45" fill="#fff" stroke="#8443b0" stroke-width="0.75"/>
<circle cx="201.92" cy="441.62" r="1.45" fill="#fff" stroke="#8443b0" stroke-width="0.75"/>
<circle cx="202.99" cy="441.71" r="1.45" fill="#fff" stroke="#8443b0" stroke-width="0.75"/>
<circle cx="204.05" cy="441.80" r="1.45" fill="#fff" stroke="#8443b0" stroke-width="0.75"/>
<circle cx="205.12" cy="441.88" r="1.45" fill="#fff" stroke="#8443b0" stroke-width="0.75"/>
<circle cx="206.18" cy="441.96" r="1.45" fill="#fff" stroke="#8443b0" stroke-width="0.75"/>
<circle cx="207.24" cy="442.03" r="1.45" fill="#fff" stroke="#8443b0" stroke-width="0.75"/>
<circle cx="208.31" cy="442.09" r="1.45" fill="#fff" stroke="#8443b0" stroke-width="0.75"/>
<circle cx="209.37" cy="442.14" r="1.45" fill="#fff" stroke="#8443b0" stroke-width="0.75"/>
<circle cx="210.44" cy="442.19" r="1.45" fill="#fff" stroke="#8443b0" stroke-width="0.75"/>
<circle cx="211.50" cy="442.23" r="1.45" fill="#fff" stroke="#8443b0" stroke-width="0.75"/>
<path d="M105.10,456.75 L106.16,456.80 L107.23,456.87 L108.29,456.96 L109.36,457.06 L110.42,457.16 L111.48,457.27 L112.55,457.37 L113.61,457.46 L114.68,457.54 L115.74,457.60 L116.80,457.63 L117.87,457.61 L118.93,457.52 L120.00,457.39 L121.06,457.26 L122.12,457.15 L123.19,457.10 L124.25,457.12 L125.32,457.16 L126.38,457.21 L127.44,457.27 L128.51,457.34 L129.57,457.41 L130.64,457.49 L131.70,457.57 L132.76,457.65 L133.83,457.74 L134.89,457.83 L135.96,457.92 L137.02,458.01 L138.08,458.10 L139.15,458.19 L140.21,458.27 L141.28,458.35 L142.34,458.43 L143.40,458.50 L144.47,458.58 L145.53,458.66 L146.60,458.74 L147.66,458.81 L148.72,458.89 L149.79,458.97 L150.85,459.05 L151.92,459.12 L152.98,459.20 L154.04,459.27 L155.11,459.34 L156.17,459.41 L157.24,459.48 L158.30,459.55 L159.36,459.61 L160.43,459.67 L161.49,459.73 L162.56,459.79 L163.62,459.85 L164.68,459.90 L165.75,459.96 L166.81,460.01 L167.88,460.06 L168.94,460.11 L170.00,460.16 L171.07,460.21 L172.13,460.26 L173.20,460.30 L174.26,460.34 L175.32,460.38 L176.39,460.42 L177.45,460.46 L178.52,460.50 L179.58,460.53 L180.64,460.56 L181.71,460.60 L182.77,460.63 L183.84,460.65 L184.90,460.68 L185.96,460.71 L187.03,460.73 L188.09,460.75 L189.16,460.77 L190.22,460.79 L191.28,460.80 L192.35,460.82 L193.41,460.83 L194.48,460.84 L195.54,460.84 L196.60,460.85 L197.67,460.85 L198.73,460.85 L199.80,460.85 L200.86,460.85 L201.92,460.85 L202.99,460.84 L204.05,460.84 L205.12,460.83 L206.18,460.83 L207.24,460.83 L208.31,460.82 L209.37,460.82 L210.44,460.82 L211.50,460.82" fill="none" stroke="#7a7a7a" stroke-width="1.0"/>
<rect x="104.08" y="455.73" width="2.04" height="2.04" fill="#fff" stroke="#7a7a7a" stroke-width="0.6"/>
<rect x="105.14" y="455.78" width="2.04" height="2.04" fill="#fff" stroke="#7a7a7a" stroke-width="0.6"/>
<rect x="106.21" y="455.85" width="2.04" height="2.04" fill="#fff" stroke="#7a7a7a" stroke-width="0.6"/>
<rect x="107.27" y="455.94" width="2.04" height="2.04" fill="#fff" stroke="#7a7a7a" stroke-width="0.6"/>
<rect x="108.34" y="456.04" width="2.04" height="2.04" fill="#fff" stroke="#7a7a7a" stroke-width="0.6"/>
<rect x="109.40" y="456.14" width="2.04" height="2.04" fill="#fff" stroke="#7a7a7a" stroke-width="0.6"/>
<rect x="110.46" y="456.25" width="2.04" height="2.04" fill="#fff" stroke="#7a7a7a" stroke-width="0.6"/>
<rect x="111.53" y="456.35" width="2.04" height="2.04" fill="#fff" stroke="#7a7a7a" stroke-width="0.6"/>
<rect x="112.59" y="456.44" width="2.04" height="2.04" fill="#fff" stroke="#7a7a7a" stroke-width="0.6"/>
<rect x="113.66" y="456.52" width="2.04" height="2.04" fill="#fff" stroke="#7a7a7a" stroke-width="0.6"/>
<rect x="114.72" y="456.58" width="2.04" height="2.04" fill="#fff" stroke="#7a7a7a" stroke-width="0.6"/>
<rect x="115.78" y="456.61" width="2.04" height="2.04" fill="#fff" stroke="#7a7a7a" stroke-width="0.6"/>
<rect x="116.85" y="456.59" width="2.04" height="2.04" fill="#fff" stroke="#7a7a7a" stroke-width="0.6"/>
<rect x="117.91" y="456.50" width="2.04" height="2.04" fill="#fff" stroke="#7a7a7a" stroke-width="0.6"/>
<rect x="118.98" y="456.37" width="2.04" height="2.04" fill="#fff" stroke="#7a7a7a" stroke-width="0.6"/>
<rect x="120.04" y="456.24" width="2.04" height="2.04" fill="#fff" stroke="#7a7a7a" stroke-width="0.6"/>
<rect x="121.10" y="456.13" width="2.04" height="2.04" fill="#fff" stroke="#7a7a7a" stroke-width="0.6"/>
<rect x="122.17" y="456.08" width="2.04" height="2.04" fill="#fff" stroke="#7a7a7a" stroke-width="0.6"/>
<rect x="123.23" y="456.10" width="2.04" height="2.04" fill="#fff" stroke="#7a7a7a" stroke-width="0.6"/>
<rect x="124.30" y="456.14" width="2.04" height="2.04" fill="#fff" stroke="#7a7a7a" stroke-width="0.6"/>
<rect x="125.36" y="456.19" width="2.04" height="2.04" fill="#fff" stroke="#7a7a7a" stroke-width="0.6"/>
<rect x="126.42" y="456.25" width="2.04" height="2.04" fill="#fff" stroke="#7a7a7a" stroke-width="0.6"/>
<rect x="127.49" y="456.32" width="2.04" height="2.04" fill="#fff" stroke="#7a7a7a" stroke-width="0.6"/>
<rect x="128.55" y="456.39" width="2.04" height="2.04" fill="#fff" stroke="#7a7a7a" stroke-width="0.6"/>
<rect x="129.62" y="456.47" width="2.04" height="2.04" fill="#fff" stroke="#7a7a7a" stroke-width="0.6"/>
<rect x="130.68" y="456.55" width="2.04" height="2.04" fill="#fff" stroke="#7a7a7a" stroke-width="0.6"/>
<rect x="131.74" y="456.63" width="2.04" height="2.04" fill="#fff" stroke="#7a7a7a" stroke-width="0.6"/>
<rect x="132.81" y="456.72" width="2.04" height="2.04" fill="#fff" stroke="#7a7a7a" stroke-width="0.6"/>
<rect x="133.87" y="456.81" width="2.04" height="2.04" fill="#fff" stroke="#7a7a7a" stroke-width="0.6"/>
<rect x="134.94" y="456.90" width="2.04" height="2.04" fill="#fff" stroke="#7a7a7a" stroke-width="0.6"/>
<rect x="136.00" y="456.99" width="2.04" height="2.04" fill="#fff" stroke="#7a7a7a" stroke-width="0.6"/>
<rect x="137.06" y="457.08" width="2.04" height="2.04" fill="#fff" stroke="#7a7a7a" stroke-width="0.6"/>
<rect x="138.13" y="457.17" width="2.04" height="2.04" fill="#fff" stroke="#7a7a7a" stroke-width="0.6"/>
<rect x="139.19" y="457.25" width="2.04" height="2.04" fill="#fff" stroke="#7a7a7a" stroke-width="0.6"/>
<rect x="140.26" y="457.33" width="2.04" height="2.04" fill="#fff" stroke="#7a7a7a" stroke-width="0.6"/>
<rect x="141.32" y="457.41" width="2.04" height="2.04" fill="#fff" stroke="#7a7a7a" stroke-width="0.6"/>
<rect x="142.38" y="457.48" width="2.04" height="2.04" fill="#fff" stroke="#7a7a7a" stroke-width="0.6"/>
<rect x="143.45" y="457.56" width="2.04" height="2.04" fill="#fff" stroke="#7a7a7a" stroke-width="0.6"/>
<rect x="144.51" y="457.64" width="2.04" height="2.04" fill="#fff" stroke="#7a7a7a" stroke-width="0.6"/>
<rect x="145.58" y="457.72" width="2.04" height="2.04" fill="#fff" stroke="#7a7a7a" stroke-width="0.6"/>
<rect x="146.64" y="457.79" width="2.04" height="2.04" fill="#fff" stroke="#7a7a7a" stroke-width="0.6"/>
<rect x="147.70" y="457.87" width="2.04" height="2.04" fill="#fff" stroke="#7a7a7a" stroke-width="0.6"/>
<rect x="148.77" y="457.95" width="2.04" height="2.04" fill="#fff" stroke="#7a7a7a" stroke-width="0.6"/>
<rect x="149.83" y="458.03" width="2.04" height="2.04" fill="#fff" stroke="#7a7a7a" stroke-width="0.6"/>
<rect x="150.90" y="458.10" width="2.04" height="2.04" fill="#fff" stroke="#7a7a7a" stroke-width="0.6"/>
<rect x="151.96" y="458.18" width="2.04" height="2.04" fill="#fff" stroke="#7a7a7a" stroke-width="0.6"/>
<rect x="153.02" y="458.25" width="2.04" height="2.04" fill="#fff" stroke="#7a7a7a" stroke-width="0.6"/>
<rect x="154.09" y="458.32" width="2.04" height="2.04" fill="#fff" stroke="#7a7a7a" stroke-width="0.6"/>
<rect x="155.15" y="458.39" width="2.04" height="2.04" fill="#fff" stroke="#7a7a7a" stroke-width="0.6"/>
<rect x="156.22" y="458.46" width="2.04" height="2.04" fill="#fff" stroke="#7a7a7a" stroke-width="0.6"/>
<rect x="157.28" y="458.53" width="2.04" height="2.04" fill="#fff" stroke="#7a7a7a" stroke-width="0.6"/>
<rect x="158.34" y="458.59" width="2.04" height="2.04" fill="#fff" stroke="#7a7a7a" stroke-width="0.6"/>
<rect x="159.41" y="458.65" width="2.04" height="2.04" fill="#fff" stroke="#7a7a7a" stroke-width="0.6"/>
<rect x="160.47" y="458.71" width="2.04" height="2.04" fill="#fff" stroke="#7a7a7a" stroke-width="0.6"/>
<rect x="161.54" y="458.77" width="2.04" height="2.04" fill="#fff" stroke="#7a7a7a" stroke-width="0.6"/>
<rect x="162.60" y="458.83" width="2.04" height="2.04" fill="#fff" stroke="#7a7a7a" stroke-width="0.6"/>
<rect x="163.66" y="458.88" width="2.04" height="2.04" fill="#fff" stroke="#7a7a7a" stroke-width="0.6"/>
<rect x="164.73" y="458.94" width="2.04" height="2.04" fill="#fff" stroke="#7a7a7a" stroke-width="0.6"/>
<rect x="165.79" y="458.99" width="2.04" height="2.04" fill="#fff" stroke="#7a7a7a" stroke-width="0.6"/>
<rect x="166.86" y="459.04" width="2.04" height="2.04" fill="#fff" stroke="#7a7a7a" stroke-width="0.6"/>
<rect x="167.92" y="459.09" width="2.04" height="2.04" fill="#fff" stroke="#7a7a7a" stroke-width="0.6"/>
<rect x="168.98" y="459.14" width="2.04" height="2.04" fill="#fff" stroke="#7a7a7a" stroke-width="0.6"/>
<rect x="170.05" y="459.19" width="2.04" height="2.04" fill="#fff" stroke="#7a7a7a" stroke-width="0.6"/>
<rect x="171.11" y="459.24" width="2.04" height="2.04" fill="#fff" stroke="#7a7a7a" stroke-width="0.6"/>
<rect x="172.18" y="459.28" width="2.04" height="2.04" fill="#fff" stroke="#7a7a7a" stroke-width="0.6"/>
<rect x="173.24" y="459.32" width="2.04" height="2.04" fill="#fff" stroke="#7a7a7a" stroke-width="0.6"/>
<rect x="174.30" y="459.36" width="2.04" height="2.04" fill="#fff" stroke="#7a7a7a" stroke-width="0.6"/>
<rect x="175.37" y="459.40" width="2.04" height="2.04" fill="#fff" stroke="#7a7a7a" stroke-width="0.6"/>
<rect x="176.43" y="459.44" width="2.04" height="2.04" fill="#fff" stroke="#7a7a7a" stroke-width="0.6"/>
<rect x="177.50" y="459.48" width="2.04" height="2.04" fill="#fff" stroke="#7a7a7a" stroke-width="0.6"/>
<rect x="178.56" y="459.51" width="2.04" height="2.04" fill="#fff" stroke="#7a7a7a" stroke-width="0.6"/>
<rect x="179.62" y="459.54" width="2.04" height="2.04" fill="#fff" stroke="#7a7a7a" stroke-width="0.6"/>
<rect x="180.69" y="459.58" width="2.04" height="2.04" fill="#fff" stroke="#7a7a7a" stroke-width="0.6"/>
<rect x="181.75" y="459.61" width="2.04" height="2.04" fill="#fff" stroke="#7a7a7a" stroke-width="0.6"/>
<rect x="182.82" y="459.63" width="2.04" height="2.04" fill="#fff" stroke="#7a7a7a" stroke-width="0.6"/>
<rect x="183.88" y="459.66" width="2.04" height="2.04" fill="#fff" stroke="#7a7a7a" stroke-width="0.6"/>
<rect x="184.94" y="459.69" width="2.04" height="2.04" fill="#fff" stroke="#7a7a7a" stroke-width="0.6"/>
<rect x="186.01" y="459.71" width="2.04" height="2.04" fill="#fff" stroke="#7a7a7a" stroke-width="0.6"/>
<rect x="187.07" y="459.73" width="2.04" height="2.04" fill="#fff" stroke="#7a7a7a" stroke-width="0.6"/>
<rect x="188.14" y="459.75" width="2.04" height="2.04" fill="#fff" stroke="#7a7a7a" stroke-width="0.6"/>
<rect x="189.20" y="459.77" width="2.04" height="2.04" fill="#fff" stroke="#7a7a7a" stroke-width="0.6"/>
<rect x="190.26" y="459.78" width="2.04" height="2.04" fill="#fff" stroke="#7a7a7a" stroke-width="0.6"/>
<rect x="191.33" y="459.80" width="2.04" height="2.04" fill="#fff" stroke="#7a7a7a" stroke-width="0.6"/>
<rect x="192.39" y="459.81" width="2.04" height="2.04" fill="#fff" stroke="#7a7a7a" stroke-width="0.6"/>
<rect x="193.46" y="459.82" width="2.04" height="2.04" fill="#fff" stroke="#7a7a7a" stroke-width="0.6"/>
<rect x="194.52" y="459.82" width="2.04" height="2.04" fill="#fff" stroke="#7a7a7a" stroke-width="0.6"/>
<rect x="195.58" y="459.83" width="2.04" height="2.04" fill="#fff" stroke="#7a7a7a" stroke-width="0.6"/>
<rect x="196.65" y="459.83" width="2.04" height="2.04" fill="#fff" stroke="#7a7a7a" stroke-width="0.6"/>
<rect x="197.71" y="459.83" width="2.04" height="2.04" fill="#fff" stroke="#7a7a7a" stroke-width="0.6"/>
<rect x="198.78" y="459.83" width="2.04" height="2.04" fill="#fff" stroke="#7a7a7a" stroke-width="0.6"/>
<rect x="199.84" y="459.83" width="2.04" height="2.04" fill="#fff" stroke="#7a7a7a" stroke-width="0.6"/>
<rect x="200.90" y="459.83" width="2.04" height="2.04" fill="#fff" stroke="#7a7a7a" stroke-width="0.6"/>
<rect x="201.97" y="459.82" width="2.04" height="2.04" fill="#fff" stroke="#7a7a7a" stroke-width="0.6"/>
<rect x="203.03" y="459.82" width="2.04" height="2.04" fill="#fff" stroke="#7a7a7a" stroke-width="0.6"/>
<rect x="204.10" y="459.81" width="2.04" height="2.04" fill="#fff" stroke="#7a7a7a" stroke-width="0.6"/>
<rect x="205.16" y="459.81" width="2.04" height="2.04" fill="#fff" stroke="#7a7a7a" stroke-width="0.6"/>
<rect x="206.22" y="459.81" width="2.04" height="2.04" fill="#fff" stroke="#7a7a7a" stroke-width="0.6"/>
<rect x="207.29" y="459.80" width="2.04" height="2.04" fill="#fff" stroke="#7a7a7a" stroke-width="0.6"/>
<rect x="208.35" y="459.80" width="2.04" height="2.04" fill="#fff" stroke="#7a7a7a" stroke-width="0.6"/>
<rect x="209.42" y="459.80" width="2.04" height="2.04" fill="#fff" stroke="#7a7a7a" stroke-width="0.6"/>
<rect x="210.48" y="459.80" width="2.04" height="2.04" fill="#fff" stroke="#7a7a7a" stroke-width="0.6"/>
<rect x="118.59" y="460.05" width="2.60" height="2.60" fill="#fff" stroke="#7a7a7a" stroke-width="0.6"/>
<rect x="210.10" y="459.24" width="2.80" height="2.80" fill="#fff" stroke="#777" stroke-width="0.7"/>
<path d="M117.20,471.3 L121.40,471.3 L119.3,467.1 Z" fill="#111"/>
<line x1="147.80" y1="413.20" x2="156.20" y2="413.20" stroke="#8443b0" stroke-width="0.9"/>
<circle cx="152.00" cy="413.20" r="1.60" fill="#fff" stroke="#8443b0" stroke-width="0.8"/>
<text x="159.70" y="415.80" font-size="8.7" font-family='"Liberation Sans", sans-serif' fill="#231f20" textLength="16.20" lengthAdjust="spacingAndGlyphs" stroke="#231f20" stroke-width="0.18">DAB</text>
<line x1="147.80" y1="421.90" x2="156.20" y2="421.90" stroke="#7a7a7a" stroke-width="0.9"/>
<rect x="150.60" y="420.50" width="2.80" height="2.80" fill="#fff" stroke="#7a7a7a" stroke-width="0.8"/>
<text x="160.00" y="424.50" font-size="8.7" font-family='"Liberation Sans", sans-serif' fill="#231f20" textLength="41.80" lengthAdjust="spacingAndGlyphs" stroke="#231f20" stroke-width="0.18">9-Phe+DAB</text>
<line x1="252.10" y1="403.00" x2="252.10" y2="474.60" stroke="#231f20" stroke-width="1"/>
<line x1="251.60" y1="474.10" x2="358.70" y2="474.10" stroke="#231f20" stroke-width="1"/>
<line x1="248.80" y1="474.80" x2="252.10" y2="474.80" stroke="#231f20" stroke-width="1"/>
<text x="238.10" y="477.40" font-size="7.4" font-family='"Liberation Sans", sans-serif' fill="#231f20" stroke="#231f20" stroke-width="0.18">0.5</text>
<line x1="248.80" y1="457.10" x2="252.10" y2="457.10" stroke="#231f20" stroke-width="1"/>
<text x="238.10" y="459.70" font-size="7.4" font-family='"Liberation Sans", sans-serif' fill="#231f20" stroke="#231f20" stroke-width="0.18">1.0</text>
<line x1="248.80" y1="439.40" x2="252.10" y2="439.40" stroke="#231f20" stroke-width="1"/>
<text x="238.10" y="442.00" font-size="7.4" font-family='"Liberation Sans", sans-serif' fill="#231f20" stroke="#231f20" stroke-width="0.18">1.5</text>
<line x1="248.80" y1="421.70" x2="252.10" y2="421.70" stroke="#231f20" stroke-width="1"/>
<text x="238.10" y="424.30" font-size="7.4" font-family='"Liberation Sans", sans-serif' fill="#231f20" stroke="#231f20" stroke-width="0.18">2.0</text>
<line x1="248.80" y1="404.00" x2="252.10" y2="404.00" stroke="#231f20" stroke-width="1"/>
<text x="238.10" y="406.60" font-size="7.4" font-family='"Liberation Sans", sans-serif' fill="#231f20" stroke="#231f20" stroke-width="0.18">2.5</text>
<line x1="252.10" y1="474.10" x2="252.10" y2="477.10" stroke="#231f20" stroke-width="1"/>
<text x="250.05" y="485.40" font-size="7.4" font-family='"Liberation Sans", sans-serif' fill="#231f20" stroke="#231f20" stroke-width="0.18">0</text>
<line x1="278.70" y1="474.10" x2="278.70" y2="477.10" stroke="#231f20" stroke-width="1"/>
<text x="274.60" y="485.40" font-size="7.4" font-family='"Liberation Sans", sans-serif' fill="#231f20" stroke="#231f20" stroke-width="0.18">50</text>
<line x1="305.30" y1="474.10" x2="305.30" y2="477.10" stroke="#231f20" stroke-width="1"/>
<text x="299.00" y="485.40" font-size="7.4" font-family='"Liberation Sans", sans-serif' fill="#231f20" stroke="#231f20" stroke-width="0.18">100</text>
<line x1="331.90" y1="474.10" x2="331.90" y2="477.10" stroke="#231f20" stroke-width="1"/>
<text x="325.60" y="485.40" font-size="7.4" font-family='"Liberation Sans", sans-serif' fill="#231f20" stroke="#231f20" stroke-width="0.18">150</text>
<line x1="358.50" y1="474.10" x2="358.50" y2="477.10" stroke="#231f20" stroke-width="1"/>
<text x="352.30" y="485.40" font-size="7.4" font-family='"Liberation Sans", sans-serif' fill="#231f20" stroke="#231f20" stroke-width="0.18">200</text>
<text x="292.10" y="496.20" font-size="7.4" font-family='"Liberation Sans", sans-serif' fill="#231f20" stroke="#231f20" stroke-width="0.18">Time (s)</text>
<text transform="translate(229.40,437.60) rotate(-90)" x="-34.15" y="2.90" font-size="8.0" font-family='"Liberation Sans", sans-serif' fill="#231f20" stroke="#231f20" stroke-width="0.18">Fluo-4 A.F.U.(F/F<tspan font-size="5.6" dy="1.6">0</tspan><tspan dy="-1.6">)</tspan></text>
<path d="M252.10,457.10 L253.16,457.09 L254.23,457.05 L255.29,457.01 L256.36,456.96 L257.42,456.92 L258.48,456.89 L259.55,456.88 L260.61,456.91 L261.68,456.98 L262.74,457.10 L263.80,458.00 L264.87,458.87 L265.93,458.22 L267.00,457.45 L268.06,457.36 L269.12,457.36 L270.19,457.42 L271.25,457.51 L272.32,457.59 L273.38,457.63 L274.44,457.64 L275.51,457.65 L276.57,457.66 L277.64,457.67 L278.70,457.68 L279.76,457.69 L280.83,457.70 L281.89,457.70 L282.96,457.71 L284.02,457.72 L285.08,457.73 L286.15,457.74 L287.21,457.74 L288.28,457.75 L289.34,457.76 L290.40,457.76 L291.47,457.77 L292.53,457.77 L293.60,457.78 L294.66,457.78 L295.72,457.79 L296.79,457.79 L297.85,457.80 L298.92,457.80 L299.98,457.80 L301.04,457.80 L302.11,457.81 L303.17,457.81 L304.24,457.81 L305.30,457.81 L306.36,457.81 L307.43,457.81 L308.49,457.81 L309.56,457.81 L310.62,457.80 L311.68,457.80 L312.75,457.80 L313.81,457.80 L314.88,457.80 L315.94,457.79 L317.00,457.79 L318.07,457.79 L319.13,457.78 L320.20,457.78 L321.26,457.78 L322.32,457.77 L323.39,457.77 L324.45,457.76 L325.52,457.76 L326.58,457.75 L327.64,457.75 L328.71,457.74 L329.77,457.74 L330.84,457.74 L331.90,457.73 L332.96,457.73 L334.03,457.72 L335.09,457.72 L336.16,457.71 L337.22,457.71 L338.28,457.70 L339.35,457.70 L340.41,457.69 L341.48,457.69 L342.54,457.68 L343.60,457.68 L344.67,457.67 L345.73,457.67 L346.80,457.66 L347.86,457.66 L348.92,457.66 L349.99,457.65 L351.05,457.65 L352.12,457.65 L353.18,457.64 L354.24,457.64 L355.31,457.64 L356.37,457.64 L357.44,457.63 L358.50,457.63" fill="none" stroke="#777" stroke-width="0.8"/>
<path d="M252.10,455.80 L253.40,457.10 L252.10,458.40 L250.80,457.10 Z" fill="#fff" stroke="#777" stroke-width="0.55"/>
<path d="M253.16,455.79 L254.46,457.09 L253.16,458.39 L251.86,457.09 Z" fill="#fff" stroke="#777" stroke-width="0.55"/>
<path d="M254.23,455.75 L255.53,457.05 L254.23,458.35 L252.93,457.05 Z" fill="#fff" stroke="#777" stroke-width="0.55"/>
<path d="M255.29,455.71 L256.59,457.01 L255.29,458.31 L253.99,457.01 Z" fill="#fff" stroke="#777" stroke-width="0.55"/>
<path d="M256.36,455.66 L257.66,456.96 L256.36,458.26 L255.06,456.96 Z" fill="#fff" stroke="#777" stroke-width="0.55"/>
<path d="M257.42,455.62 L258.72,456.92 L257.42,458.22 L256.12,456.92 Z" fill="#fff" stroke="#777" stroke-width="0.55"/>
<path d="M258.48,455.59 L259.78,456.89 L258.48,458.19 L257.18,456.89 Z" fill="#fff" stroke="#777" stroke-width="0.55"/>
<path d="M259.55,455.58 L260.85,456.88 L259.55,458.18 L258.25,456.88 Z" fill="#fff" stroke="#777" stroke-width="0.55"/>
<path d="M260.61,455.61 L261.91,456.91 L260.61,458.21 L259.31,456.91 Z" fill="#fff" stroke="#777" stroke-width="0.55"/>
<path d="M261.68,455.68 L262.98,456.98 L261.68,458.28 L260.38,456.98 Z" fill="#fff" stroke="#777" stroke-width="0.55"/>
<path d="M262.74,455.80 L264.04,457.10 L262.74,458.40 L261.44,457.10 Z" fill="#fff" stroke="#777" stroke-width="0.55"/>
<path d="M263.80,456.70 L265.10,458.00 L263.80,459.30 L262.50,458.00 Z" fill="#fff" stroke="#777" stroke-width="0.55"/>
<path d="M264.87,457.57 L266.17,458.87 L264.87,460.17 L263.57,458.87 Z" fill="#fff" stroke="#777" stroke-width="0.55"/>
<path d="M265.93,456.92 L267.23,458.22 L265.93,459.52 L264.63,458.22 Z" fill="#fff" stroke="#777" stroke-width="0.55"/>
<path d="M267.00,456.15 L268.30,457.45 L267.00,458.75 L265.70,457.45 Z" fill="#fff" stroke="#777" stroke-width="0.55"/>
<path d="M268.06,456.06 L269.36,457.36 L268.06,458.66 L266.76,457.36 Z" fill="#fff" stroke="#777" stroke-width="0.55"/>
<path d="M269.12,456.06 L270.42,457.36 L269.12,458.66 L267.82,457.36 Z" fill="#fff" stroke="#777" stroke-width="0.55"/>
<path d="M270.19,456.12 L271.49,457.42 L270.19,458.72 L268.89,457.42 Z" fill="#fff" stroke="#777" stroke-width="0.55"/>
<path d="M271.25,456.21 L272.55,457.51 L271.25,458.81 L269.95,457.51 Z" fill="#fff" stroke="#777" stroke-width="0.55"/>
<path d="M272.32,456.29 L273.62,457.59 L272.32,458.89 L271.02,457.59 Z" fill="#fff" stroke="#777" stroke-width="0.55"/>
<path d="M273.38,456.33 L274.68,457.63 L273.38,458.93 L272.08,457.63 Z" fill="#fff" stroke="#777" stroke-width="0.55"/>
<path d="M274.44,456.34 L275.74,457.64 L274.44,458.94 L273.14,457.64 Z" fill="#fff" stroke="#777" stroke-width="0.55"/>
<path d="M275.51,456.35 L276.81,457.65 L275.51,458.95 L274.21,457.65 Z" fill="#fff" stroke="#777" stroke-width="0.55"/>
<path d="M276.57,456.36 L277.87,457.66 L276.57,458.96 L275.27,457.66 Z" fill="#fff" stroke="#777" stroke-width="0.55"/>
<path d="M277.64,456.37 L278.94,457.67 L277.64,458.97 L276.34,457.67 Z" fill="#fff" stroke="#777" stroke-width="0.55"/>
<path d="M278.70,456.38 L280.00,457.68 L278.70,458.98 L277.40,457.68 Z" fill="#fff" stroke="#777" stroke-width="0.55"/>
<path d="M279.76,456.39 L281.06,457.69 L279.76,458.99 L278.46,457.69 Z" fill="#fff" stroke="#777" stroke-width="0.55"/>
<path d="M280.83,456.40 L282.13,457.70 L280.83,459.00 L279.53,457.70 Z" fill="#fff" stroke="#777" stroke-width="0.55"/>
<path d="M281.89,456.40 L283.19,457.70 L281.89,459.00 L280.59,457.70 Z" fill="#fff" stroke="#777" stroke-width="0.55"/>
<path d="M282.96,456.41 L284.26,457.71 L282.96,459.01 L281.66,457.71 Z" fill="#fff" stroke="#777" stroke-width="0.55"/>
<path d="M284.02,456.42 L285.32,457.72 L284.02,459.02 L282.72,457.72 Z" fill="#fff" stroke="#777" stroke-width="0.55"/>
<path d="M285.08,456.43 L286.38,457.73 L285.08,459.03 L283.78,457.73 Z" fill="#fff" stroke="#777" stroke-width="0.55"/>
<path d="M286.15,456.44 L287.45,457.74 L286.15,459.04 L284.85,457.74 Z" fill="#fff" stroke="#777" stroke-width="0.55"/>
<path d="M287.21,456.44 L288.51,457.74 L287.21,459.04 L285.91,457.74 Z" fill="#fff" stroke="#777" stroke-width="0.55"/>
<path d="M288.28,456.45 L289.58,457.75 L288.28,459.05 L286.98,457.75 Z" fill="#fff" stroke="#777" stroke-width="0.55"/>
<path d="M289.34,456.46 L290.64,457.76 L289.34,459.06 L288.04,457.76 Z" fill="#fff" stroke="#777" stroke-width="0.55"/>
<path d="M290.40,456.46 L291.70,457.76 L290.40,459.06 L289.10,457.76 Z" fill="#fff" stroke="#777" stroke-width="0.55"/>
<path d="M291.47,456.47 L292.77,457.77 L291.47,459.07 L290.17,457.77 Z" fill="#fff" stroke="#777" stroke-width="0.55"/>
<path d="M292.53,456.47 L293.83,457.77 L292.53,459.07 L291.23,457.77 Z" fill="#fff" stroke="#777" stroke-width="0.55"/>
<path d="M293.60,456.48 L294.90,457.78 L293.60,459.08 L292.30,457.78 Z" fill="#fff" stroke="#777" stroke-width="0.55"/>
<path d="M294.66,456.48 L295.96,457.78 L294.66,459.08 L293.36,457.78 Z" fill="#fff" stroke="#777" stroke-width="0.55"/>
<path d="M295.72,456.49 L297.02,457.79 L295.72,459.09 L294.42,457.79 Z" fill="#fff" stroke="#777" stroke-width="0.55"/>
<path d="M296.79,456.49 L298.09,457.79 L296.79,459.09 L295.49,457.79 Z" fill="#fff" stroke="#777" stroke-width="0.55"/>
<path d="M297.85,456.50 L299.15,457.80 L297.85,459.10 L296.55,457.80 Z" fill="#fff" stroke="#777" stroke-width="0.55"/>
<path d="M298.92,456.50 L300.22,457.80 L298.92,459.10 L297.62,457.80 Z" fill="#fff" stroke="#777" stroke-width="0.55"/>
<path d="M299.98,456.50 L301.28,457.80 L299.98,459.10 L298.68,457.80 Z" fill="#fff" stroke="#777" stroke-width="0.55"/>
<path d="M301.04,456.50 L302.34,457.80 L301.04,459.10 L299.74,457.80 Z" fill="#fff" stroke="#777" stroke-width="0.55"/>
<path d="M302.11,456.51 L303.41,457.81 L302.11,459.11 L300.81,457.81 Z" fill="#fff" stroke="#777" stroke-width="0.55"/>
<path d="M303.17,456.51 L304.47,457.81 L303.17,459.11 L301.87,457.81 Z" fill="#fff" stroke="#777" stroke-width="0.55"/>
<path d="M304.24,456.51 L305.54,457.81 L304.24,459.11 L302.94,457.81 Z" fill="#fff" stroke="#777" stroke-width="0.55"/>
<path d="M305.30,456.51 L306.60,457.81 L305.30,459.11 L304.00,457.81 Z" fill="#fff" stroke="#777" stroke-width="0.55"/>
<path d="M306.36,456.51 L307.66,457.81 L306.36,459.11 L305.06,457.81 Z" fill="#fff" stroke="#777" stroke-width="0.55"/>
<path d="M307.43,456.51 L308.73,457.81 L307.43,459.11 L306.13,457.81 Z" fill="#fff" stroke="#777" stroke-width="0.55"/>
<path d="M308.49,456.51 L309.79,457.81 L308.49,459.11 L307.19,457.81 Z" fill="#fff" stroke="#777" stroke-width="0.55"/>
<path d="M309.56,456.51 L310.86,457.81 L309.56,459.11 L308.26,457.81 Z" fill="#fff" stroke="#777" stroke-width="0.55"/>
<path d="M310.62,456.50 L311.92,457.80 L310.62,459.10 L309.32,457.80 Z" fill="#fff" stroke="#777" stroke-width="0.55"/>
<path d="M311.68,456.50 L312.98,457.80 L311.68,459.10 L310.38,457.80 Z" fill="#fff" stroke="#777" stroke-width="0.55"/>
<path d="M312.75,456.50 L314.05,457.80 L312.75,459.10 L311.45,457.80 Z" fill="#fff" stroke="#777" stroke-width="0.55"/>
<path d="M313.81,456.50 L315.11,457.80 L313.81,459.10 L312.51,457.80 Z" fill="#fff" stroke="#777" stroke-width="0.55"/>
<path d="M314.88,456.50 L316.18,457.80 L314.88,459.10 L313.58,457.80 Z" fill="#fff" stroke="#777" stroke-width="0.55"/>
<path d="M315.94,456.49 L317.24,457.79 L315.94,459.09 L314.64,457.79 Z" fill="#fff" stroke="#777" stroke-width="0.55"/>
<path d="M317.00,456.49 L318.30,457.79 L317.00,459.09 L315.70,457.79 Z" fill="#fff" stroke="#777" stroke-width="0.55"/>
<path d="M318.07,456.49 L319.37,457.79 L318.07,459.09 L316.77,457.79 Z" fill="#fff" stroke="#777" stroke-width="0.55"/>
<path d="M319.13,456.48 L320.43,457.78 L319.13,459.08 L317.83,457.78 Z" fill="#fff" stroke="#777" stroke-width="0.55"/>
<path d="M320.20,456.48 L321.50,457.78 L320.20,459.08 L318.90,457.78 Z" fill="#fff" stroke="#777" stroke-width="0.55"/>
<path d="M321.26,456.48 L322.56,457.78 L321.26,459.08 L319.96,457.78 Z" fill="#fff" stroke="#777" stroke-width="0.55"/>
<path d="M322.32,456.47 L323.62,457.77 L322.32,459.07 L321.02,457.77 Z" fill="#fff" stroke="#777" stroke-width="0.55"/>
<path d="M323.39,456.47 L324.69,457.77 L323.39,459.07 L322.09,457.77 Z" fill="#fff" stroke="#777" stroke-width="0.55"/>
<path d="M324.45,456.46 L325.75,457.76 L324.45,459.06 L323.15,457.76 Z" fill="#fff" stroke="#777" stroke-width="0.55"/>
<path d="M325.52,456.46 L326.82,457.76 L325.52,459.06 L324.22,457.76 Z" fill="#fff" stroke="#777" stroke-width="0.55"/>
<path d="M326.58,456.45 L327.88,457.75 L326.58,459.05 L325.28,457.75 Z" fill="#fff" stroke="#777" stroke-width="0.55"/>
<path d="M327.64,456.45 L328.94,457.75 L327.64,459.05 L326.34,457.75 Z" fill="#fff" stroke="#777" stroke-width="0.55"/>
<path d="M328.71,456.44 L330.01,457.74 L328.71,459.04 L327.41,457.74 Z" fill="#fff" stroke="#777" stroke-width="0.55"/>
<path d="M329.77,456.44 L331.07,457.74 L329.77,459.04 L328.47,457.74 Z" fill="#fff" stroke="#777" stroke-width="0.55"/>
<path d="M330.84,456.44 L332.14,457.74 L330.84,459.04 L329.54,457.74 Z" fill="#fff" stroke="#777" stroke-width="0.55"/>
<path d="M331.90,456.43 L333.20,457.73 L331.90,459.03 L330.60,457.73 Z" fill="#fff" stroke="#777" stroke-width="0.55"/>
<path d="M332.96,456.43 L334.26,457.73 L332.96,459.03 L331.66,457.73 Z" fill="#fff" stroke="#777" stroke-width="0.55"/>
<path d="M334.03,456.42 L335.33,457.72 L334.03,459.02 L332.73,457.72 Z" fill="#fff" stroke="#777" stroke-width="0.55"/>
<path d="M335.09,456.42 L336.39,457.72 L335.09,459.02 L333.79,457.72 Z" fill="#fff" stroke="#777" stroke-width="0.55"/>
<path d="M336.16,456.41 L337.46,457.71 L336.16,459.01 L334.86,457.71 Z" fill="#fff" stroke="#777" stroke-width="0.55"/>
<path d="M337.22,456.41 L338.52,457.71 L337.22,459.01 L335.92,457.71 Z" fill="#fff" stroke="#777" stroke-width="0.55"/>
<path d="M338.28,456.40 L339.58,457.70 L338.28,459.00 L336.98,457.70 Z" fill="#fff" stroke="#777" stroke-width="0.55"/>
<path d="M339.35,456.40 L340.65,457.70 L339.35,459.00 L338.05,457.70 Z" fill="#fff" stroke="#777" stroke-width="0.55"/>
<path d="M340.41,456.39 L341.71,457.69 L340.41,458.99 L339.11,457.69 Z" fill="#fff" stroke="#777" stroke-width="0.55"/>
<path d="M341.48,456.39 L342.78,457.69 L341.48,458.99 L340.18,457.69 Z" fill="#fff" stroke="#777" stroke-width="0.55"/>
<path d="M342.54,456.38 L343.84,457.68 L342.54,458.98 L341.24,457.68 Z" fill="#fff" stroke="#777" stroke-width="0.55"/>
<path d="M343.60,456.38 L344.90,457.68 L343.60,458.98 L342.30,457.68 Z" fill="#fff" stroke="#777" stroke-width="0.55"/>
<path d="M344.67,456.37 L345.97,457.67 L344.67,458.97 L343.37,457.67 Z" fill="#fff" stroke="#777" stroke-width="0.55"/>
<path d="M345.73,456.37 L347.03,457.67 L345.73,458.97 L344.43,457.67 Z" fill="#fff" stroke="#777" stroke-width="0.55"/>
<path d="M346.80,456.36 L348.10,457.66 L346.80,458.96 L345.50,457.66 Z" fill="#fff" stroke="#777" stroke-width="0.55"/>
<path d="M347.86,456.36 L349.16,457.66 L347.86,458.96 L346.56,457.66 Z" fill="#fff" stroke="#777" stroke-width="0.55"/>
<path d="M348.92,456.36 L350.22,457.66 L348.92,458.96 L347.62,457.66 Z" fill="#fff" stroke="#777" stroke-width="0.55"/>
<path d="M349.99,456.35 L351.29,457.65 L349.99,458.95 L348.69,457.65 Z" fill="#fff" stroke="#777" stroke-width="0.55"/>
<path d="M351.05,456.35 L352.35,457.65 L351.05,458.95 L349.75,457.65 Z" fill="#fff" stroke="#777" stroke-width="0.55"/>
<path d="M352.12,456.35 L353.42,457.65 L352.12,458.95 L350.82,457.65 Z" fill="#fff" stroke="#777" stroke-width="0.55"/>
<path d="M353.18,456.34 L354.48,457.64 L353.18,458.94 L351.88,457.64 Z" fill="#fff" stroke="#777" stroke-width="0.55"/>
<path d="M354.24,456.34 L355.54,457.64 L354.24,458.94 L352.94,457.64 Z" fill="#fff" stroke="#777" stroke-width="0.55"/>
<path d="M355.31,456.34 L356.61,457.64 L355.31,458.94 L354.01,457.64 Z" fill="#fff" stroke="#777" stroke-width="0.55"/>
<path d="M356.37,456.34 L357.67,457.64 L356.37,458.94 L355.07,457.64 Z" fill="#fff" stroke="#777" stroke-width="0.55"/>
<path d="M357.44,456.33 L358.74,457.63 L357.44,458.93 L356.14,457.63 Z" fill="#fff" stroke="#777" stroke-width="0.55"/>
<path d="M358.50,456.33 L359.80,457.63 L358.50,458.93 L357.20,457.63 Z" fill="#fff" stroke="#777" stroke-width="0.55"/>
<circle cx="252.10" cy="456.39" r="1.45" fill="#fff" stroke="#8443b0" stroke-width="0.75"/>
<circle cx="253.16" cy="456.38" r="1.45" fill="#fff" stroke="#8443b0" stroke-width="0.75"/>
<circle cx="254.23" cy="456.38" r="1.45" fill="#fff" stroke="#8443b0" stroke-width="0.75"/>
<circle cx="255.29" cy="456.38" r="1.45" fill="#fff" stroke="#8443b0" stroke-width="0.75"/>
<circle cx="256.36" cy="456.36" r="1.45" fill="#fff" stroke="#8443b0" stroke-width="0.75"/>
<circle cx="257.42" cy="456.33" r="1.45" fill="#fff" stroke="#8443b0" stroke-width="0.75"/>
<circle cx="258.48" cy="456.25" r="1.45" fill="#fff" stroke="#8443b0" stroke-width="0.75"/>
<circle cx="259.55" cy="456.12" r="1.45" fill="#fff" stroke="#8443b0" stroke-width="0.75"/>
<circle cx="260.61" cy="455.76" r="1.45" fill="#fff" stroke="#8443b0" stroke-width="0.75"/>
<circle cx="261.68" cy="454.80" r="1.45" fill="#fff" stroke="#8443b0" stroke-width="0.75"/>
<circle cx="262.74" cy="454.93" r="1.45" fill="#fff" stroke="#8443b0" stroke-width="0.75"/>
<circle cx="263.80" cy="456.98" r="1.45" fill="#fff" stroke="#8443b0" stroke-width="0.75"/>
<circle cx="264.87" cy="459.72" r="1.45" fill="#fff" stroke="#8443b0" stroke-width="0.75"/>
<circle cx="265.93" cy="458.82" r="1.45" fill="#fff" stroke="#8443b0" stroke-width="0.75"/>
<circle cx="267.00" cy="456.01" r="1.45" fill="#fff" stroke="#8443b0" stroke-width="0.75"/>
<circle cx="268.06" cy="452.85" r="1.45" fill="#fff" stroke="#8443b0" stroke-width="0.75"/>
<circle cx="269.12" cy="450.16" r="1.45" fill="#fff" stroke="#8443b0" stroke-width="0.75"/>
<circle cx="270.19" cy="447.65" r="1.45" fill="#fff" stroke="#8443b0" stroke-width="0.75"/>
<circle cx="271.25" cy="445.28" r="1.45" fill="#fff" stroke="#8443b0" stroke-width="0.75"/>
<circle cx="272.32" cy="442.96" r="1.45" fill="#fff" stroke="#8443b0" stroke-width="0.75"/>
<circle cx="273.38" cy="440.55" r="1.45" fill="#fff" stroke="#8443b0" stroke-width="0.75"/>
<circle cx="274.44" cy="437.98" r="1.45" fill="#fff" stroke="#8443b0" stroke-width="0.75"/>
<circle cx="275.51" cy="435.41" r="1.45" fill="#fff" stroke="#8443b0" stroke-width="0.75"/>
<circle cx="276.57" cy="433.03" r="1.45" fill="#fff" stroke="#8443b0" stroke-width="0.75"/>
<circle cx="277.64" cy="430.70" r="1.45" fill="#fff" stroke="#8443b0" stroke-width="0.75"/>
<circle cx="278.70" cy="428.70" r="1.45" fill="#fff" stroke="#8443b0" stroke-width="0.75"/>
<circle cx="279.76" cy="427.35" r="1.45" fill="#fff" stroke="#8443b0" stroke-width="0.75"/>
<circle cx="280.83" cy="426.58" r="1.45" fill="#fff" stroke="#8443b0" stroke-width="0.75"/>
<circle cx="281.89" cy="426.18" r="1.45" fill="#fff" stroke="#8443b0" stroke-width="0.75"/>
<circle cx="282.96" cy="426.02" r="1.45" fill="#fff" stroke="#8443b0" stroke-width="0.75"/>
<circle cx="284.02" cy="426.18" r="1.45" fill="#fff" stroke="#8443b0" stroke-width="0.75"/>
<circle cx="285.08" cy="426.66" r="1.45" fill="#fff" stroke="#8443b0" stroke-width="0.75"/>
<circle cx="286.15" cy="427.39" r="1.45" fill="#fff" stroke="#8443b0" stroke-width="0.75"/>
<circle cx="287.21" cy="428.27" r="1.45" fill="#fff" stroke="#8443b0" stroke-width="0.75"/>
<circle cx="288.28" cy="429.24" r="1.45" fill="#fff" stroke="#8443b0" stroke-width="0.75"/>
<circle cx="289.34" cy="430.23" r="1.45" fill="#fff" stroke="#8443b0" stroke-width="0.75"/>
<circle cx="290.40" cy="431.19" r="1.45" fill="#fff" stroke="#8443b0" stroke-width="0.75"/>
<circle cx="291.47" cy="432.19" r="1.45" fill="#fff" stroke="#8443b0" stroke-width="0.75"/>
<circle cx="292.53" cy="433.22" r="1.45" fill="#fff" stroke="#8443b0" stroke-width="0.75"/>
<circle cx="293.60" cy="434.23" r="1.45" fill="#fff" stroke="#8443b0" stroke-width="0.75"/>
<circle cx="294.66" cy="435.16" r="1.45" fill="#fff" stroke="#8443b0" stroke-width="0.75"/>
<circle cx="295.72" cy="436.00" r="1.45" fill="#fff" stroke="#8443b0" stroke-width="0.75"/>
<circle cx="296.79" cy="436.79" r="1.45" fill="#fff" stroke="#8443b0" stroke-width="0.75"/>
<circle cx="297.85" cy="437.51" r="1.45" fill="#fff" stroke="#8443b0" stroke-width="0.75"/>
<circle cx="298.92" cy="438.14" r="1.45" fill="#fff" stroke="#8443b0" stroke-width="0.75"/>
<circle cx="299.98" cy="438.65" r="1.45" fill="#fff" stroke="#8443b0" stroke-width="0.75"/>
<circle cx="301.04" cy="439.07" r="1.45" fill="#fff" stroke="#8443b0" stroke-width="0.75"/>
<circle cx="302.11" cy="439.46" r="1.45" fill="#fff" stroke="#8443b0" stroke-width="0.75"/>
<circle cx="303.17" cy="439.83" r="1.45" fill="#fff" stroke="#8443b0" stroke-width="0.75"/>
<circle cx="304.24" cy="440.17" r="1.45" fill="#fff" stroke="#8443b0" stroke-width="0.75"/>
<circle cx="305.30" cy="440.48" r="1.45" fill="#fff" stroke="#8443b0" stroke-width="0.75"/>
<circle cx="306.36" cy="440.77" r="1.45" fill="#fff" stroke="#8443b0" stroke-width="0.75"/>
<circle cx="307.43" cy="441.02" r="1.45" fill="#fff" stroke="#8443b0" stroke-width="0.75"/>
<circle cx="308.49" cy="441.25" r="1.45" fill="#fff" stroke="#8443b0" stroke-width="0.75"/>
<circle cx="309.56" cy="441.44" r="1.45" fill="#fff" stroke="#8443b0" stroke-width="0.75"/>
<circle cx="310.62" cy="441.60" r="1.45" fill="#fff" stroke="#8443b0" stroke-width="0.75"/>
<circle cx="311.68" cy="441.72" r="1.45" fill="#fff" stroke="#8443b0" stroke-width="0.75"/>
<circle cx="312.75" cy="441.79" r="1.45" fill="#fff" stroke="#8443b0" stroke-width="0.75"/>
<circle cx="313.81" cy="441.84" r="1.45" fill="#fff" stroke="#8443b0" stroke-width="0.75"/>
<circle cx="314.88" cy="441.87" r="1.45" fill="#fff" stroke="#8443b0" stroke-width="0.75"/>
<circle cx="315.94" cy="441.88" r="1.45" fill="#fff" stroke="#8443b0" stroke-width="0.75"/>
<circle cx="317.00" cy="441.87" r="1.45" fill="#fff" stroke="#8443b0" stroke-width="0.75"/>
<circle cx="318.07" cy="441.86" r="1.45" fill="#fff" stroke="#8443b0" stroke-width="0.75"/>
<circle cx="319.13" cy="441.86" r="1.45" fill="#fff" stroke="#8443b0" stroke-width="0.75"/>
<circle cx="320.20" cy="441.86" r="1.45" fill="#fff" stroke="#8443b0" stroke-width="0.75"/>
<circle cx="321.26" cy="441.88" r="1.45" fill="#fff" stroke="#8443b0" stroke-width="0.75"/>
<circle cx="322.32" cy="441.90" r="1.45" fill="#fff" stroke="#8443b0" stroke-width="0.75"/>
<circle cx="323.39" cy="441.92" r="1.45" fill="#fff" stroke="#8443b0" stroke-width="0.75"/>
<circle cx="324.45" cy="441.94" r="1.45" fill="#fff" stroke="#8443b0" stroke-width="0.75"/>
<circle cx="325.52" cy="441.95" r="1.45" fill="#fff" stroke="#8443b0" stroke-width="0.75"/>
<circle cx="326.58" cy="441.97" r="1.45" fill="#fff" stroke="#8443b0" stroke-width="0.75"/>
<circle cx="327.64" cy="441.98" r="1.45" fill="#fff" stroke="#8443b0" stroke-width="0.75"/>
<circle cx="328.71" cy="441.99" r="1.45" fill="#fff" stroke="#8443b0" stroke-width="0.75"/>
<circle cx="329.77" cy="442.00" r="1.45" fill="#fff" stroke="#8443b0" stroke-width="0.75"/>
<circle cx="330.84" cy="442.02" r="1.45" fill="#fff" stroke="#8443b0" stroke-width="0.75"/>
<circle cx="331.90" cy="442.03" r="1.45" fill="#fff" stroke="#8443b0" stroke-width="0.75"/>
<circle cx="332.96" cy="442.06" r="1.45" fill="#fff" stroke="#8443b0" stroke-width="0.75"/>
<circle cx="334.03" cy="442.08" r="1.45" fill="#fff" stroke="#8443b0" stroke-width="0.75"/>
<circle cx="335.09" cy="442.12" r="1.45" fill="#fff" stroke="#8443b0" stroke-width="0.75"/>
<circle cx="336.16" cy="442.16" r="1.45" fill="#fff" stroke="#8443b0" stroke-width="0.75"/>
<circle cx="337.22" cy="442.20" r="1.45" fill="#fff" stroke="#8443b0" stroke-width="0.75"/>
<circle cx="338.28" cy="442.26" r="1.45" fill="#fff" stroke="#8443b0" stroke-width="0.75"/>
<circle cx="339.35" cy="442.35" r="1.45" fill="#fff" stroke="#8443b0" stroke-width="0.75"/>
<circle cx="340.41" cy="442.45" r="1.45" fill="#fff" stroke="#8443b0" stroke-width="0.75"/>
<circle cx="341.48" cy="442.56" r="1.45" fill="#fff" stroke="#8443b0" stroke-width="0.75"/>
<circle cx="342.54" cy="442.69" r="1.45" fill="#fff" stroke="#8443b0" stroke-width="0.75"/>
<circle cx="343.60" cy="442.82" r="1.45" fill="#fff" stroke="#8443b0" stroke-width="0.75"/>
<circle cx="344.67" cy="442.95" r="1.45" fill="#fff" stroke="#8443b0" stroke-width="0.75"/>
<circle cx="345.73" cy="443.08" r="1.45" fill="#fff" stroke="#8443b0" stroke-width="0.75"/>
<circle cx="346.80" cy="443.19" r="1.45" fill="#fff" stroke="#8443b0" stroke-width="0.75"/>
<circle cx="347.86" cy="443.29" r="1.45" fill="#fff" stroke="#8443b0" stroke-width="0.75"/>
<circle cx="348.92" cy="443.38" r="1.45" fill="#fff" stroke="#8443b0" stroke-width="0.75"/>
<circle cx="349.99" cy="443.47" r="1.45" fill="#fff" stroke="#8443b0" stroke-width="0.75"/>
<circle cx="351.05" cy="443.56" r="1.45" fill="#fff" stroke="#8443b0" stroke-width="0.75"/>
<circle cx="352.12" cy="443.64" r="1.45" fill="#fff" stroke="#8443b0" stroke-width="0.75"/>
<circle cx="353.18" cy="443.72" r="1.45" fill="#fff" stroke="#8443b0" stroke-width="0.75"/>
<circle cx="354.24" cy="443.79" r="1.45" fill="#fff" stroke="#8443b0" stroke-width="0.75"/>
<circle cx="355.31" cy="443.85" r="1.45" fill="#fff" stroke="#8443b0" stroke-width="0.75"/>
<circle cx="356.37" cy="443.91" r="1.45" fill="#fff" stroke="#8443b0" stroke-width="0.75"/>
<circle cx="357.44" cy="443.96" r="1.45" fill="#fff" stroke="#8443b0" stroke-width="0.75"/>
<circle cx="358.50" cy="444.00" r="1.45" fill="#fff" stroke="#8443b0" stroke-width="0.75"/>
<path d="M252.10,457.10 L253.16,457.09 L254.23,457.09 L255.29,457.09 L256.36,457.07 L257.42,457.03 L258.48,456.96 L259.55,456.83 L260.61,456.46 L261.68,455.51 L262.74,455.64 L263.80,457.69 L264.87,460.42 L265.93,459.53 L267.00,456.72 L268.06,453.56 L269.12,450.87 L270.19,448.36 L271.25,445.99 L272.32,443.67 L273.38,441.26 L274.44,438.68 L275.51,436.12 L276.57,433.74 L277.64,431.41 L278.70,429.41 L279.76,428.05 L280.83,427.28 L281.89,426.89 L282.96,426.73 L284.02,426.89 L285.08,427.36 L286.15,428.10 L287.21,428.98 L288.28,429.94 L289.34,430.94 L290.40,431.90 L291.47,432.90 L292.53,433.93 L293.60,434.94 L294.66,435.87 L295.72,436.71 L296.79,437.49 L297.85,438.22 L298.92,438.85 L299.98,439.36 L301.04,439.77 L302.11,440.17 L303.17,440.54 L304.24,440.88 L305.30,441.19 L306.36,441.47 L307.43,441.73 L308.49,441.95 L309.56,442.15 L310.62,442.31 L311.68,442.42 L312.75,442.50 L313.81,442.55 L314.88,442.58 L315.94,442.58 L317.00,442.58 L318.07,442.57 L319.13,442.57 L320.20,442.57 L321.26,442.59 L322.32,442.61 L323.39,442.63 L324.45,442.65 L325.52,442.66 L326.58,442.67 L327.64,442.68 L328.71,442.70 L329.77,442.71 L330.84,442.72 L331.90,442.74 L332.96,442.76 L334.03,442.79 L335.09,442.82 L336.16,442.86 L337.22,442.91 L338.28,442.97 L339.35,443.05 L340.41,443.15 L341.48,443.27 L342.54,443.40 L343.60,443.53 L344.67,443.66 L345.73,443.79 L346.80,443.90 L347.86,444.00 L348.92,444.09 L349.99,444.18 L351.05,444.27 L352.12,444.35 L353.18,444.43 L354.24,444.50 L355.31,444.56 L356.37,444.62 L357.44,444.67 L358.50,444.71" fill="none" stroke="#8443b0" stroke-width="0.9"/>
<circle cx="252.10" cy="457.10" r="1.45" fill="#fff" stroke="#8443b0" stroke-width="0.75"/>
<circle cx="253.16" cy="457.09" r="1.45" fill="#fff" stroke="#8443b0" stroke-width="0.75"/>
<circle cx="254.23" cy="457.09" r="1.45" fill="#fff" stroke="#8443b0" stroke-width="0.75"/>
<circle cx="255.29" cy="457.09" r="1.45" fill="#fff" stroke="#8443b0" stroke-width="0.75"/>
<circle cx="256.36" cy="457.07" r="1.45" fill="#fff" stroke="#8443b0" stroke-width="0.75"/>
<circle cx="257.42" cy="457.03" r="1.45" fill="#fff" stroke="#8443b0" stroke-width="0.75"/>
<circle cx="258.48" cy="456.96" r="1.45" fill="#fff" stroke="#8443b0" stroke-width="0.75"/>
<circle cx="259.55" cy="456.83" r="1.45" fill="#fff" stroke="#8443b0" stroke-width="0.75"/>
<circle cx="260.61" cy="456.46" r="1.45" fill="#fff" stroke="#8443b0" stroke-width="0.75"/>
<circle cx="261.68" cy="455.51" r="1.45" fill="#fff" stroke="#8443b0" stroke-width="0.75"/>
<circle cx="262.74" cy="455.64" r="1.45" fill="#fff" stroke="#8443b0" stroke-width="0.75"/>
<circle cx="263.80" cy="457.69" r="1.45" fill="#fff" stroke="#8443b0" stroke-width="0.75"/>
<circle cx="264.87" cy="460.42" r="1.45" fill="#fff" stroke="#8443b0" stroke-width="0.75"/>
<circle cx="265.93" cy="459.53" r="1.45" fill="#fff" stroke="#8443b0" stroke-width="0.75"/>
<circle cx="267.00" cy="456.72" r="1.45" fill="#fff" stroke="#8443b0" stroke-width="0.75"/>
<circle cx="268.06" cy="453.56" r="1.45" fill="#fff" stroke="#8443b0" stroke-width="0.75"/>
<circle cx="269.12" cy="450.87" r="1.45" fill="#fff" stroke="#8443b0" stroke-width="0.75"/>
<circle cx="270.19" cy="448.36" r="1.45" fill="#fff" stroke="#8443b0" stroke-width="0.75"/>
<circle cx="271.25" cy="445.99" r="1.45" fill="#fff" stroke="#8443b0" stroke-width="0.75"/>
<circle cx="272.32" cy="443.67" r="1.45" fill="#fff" stroke="#8443b0" stroke-width="0.75"/>
<circle cx="273.38" cy="441.26" r="1.45" fill="#fff" stroke="#8443b0" stroke-width="0.75"/>
<circle cx="274.44" cy="438.68" r="1.45" fill="#fff" stroke="#8443b0" stroke-width="0.75"/>
<circle cx="275.51" cy="436.12" r="1.45" fill="#fff" stroke="#8443b0" stroke-width="0.75"/>
<circle cx="276.57" cy="433.74" r="1.45" fill="#fff" stroke="#8443b0" stroke-width="0.75"/>
<circle cx="277.64" cy="431.41" r="1.45" fill="#fff" stroke="#8443b0" stroke-width="0.75"/>
<circle cx="278.70" cy="429.41" r="1.45" fill="#fff" stroke="#8443b0" stroke-width="0.75"/>
<circle cx="279.76" cy="428.05" r="1.45" fill="#fff" stroke="#8443b0" stroke-width="0.75"/>
<circle cx="280.83" cy="427.28" r="1.45" fill="#fff" stroke="#8443b0" stroke-width="0.75"/>
<circle cx="281.89" cy="426.89" r="1.45" fill="#fff" stroke="#8443b0" stroke-width="0.75"/>
<circle cx="282.96" cy="426.73" r="1.45" fill="#fff" stroke="#8443b0" stroke-width="0.75"/>
<circle cx="284.02" cy="426.89" r="1.45" fill="#fff" stroke="#8443b0" stroke-width="0.75"/>
<circle cx="285.08" cy="427.36" r="1.45" fill="#fff" stroke="#8443b0" stroke-width="0.75"/>
<circle cx="286.15" cy="428.10" r="1.45" fill="#fff" stroke="#8443b0" stroke-width="0.75"/>
<circle cx="287.21" cy="428.98" r="1.45" fill="#fff" stroke="#8443b0" stroke-width="0.75"/>
<circle cx="288.28" cy="429.94" r="1.45" fill="#fff" stroke="#8443b0" stroke-width="0.75"/>
<circle cx="289.34" cy="430.94" r="1.45" fill="#fff" stroke="#8443b0" stroke-width="0.75"/>
<circle cx="290.40" cy="431.90" r="1.45" fill="#fff" stroke="#8443b0" stroke-width="0.75"/>
<circle cx="291.47" cy="432.90" r="1.45" fill="#fff" stroke="#8443b0" stroke-width="0.75"/>
<circle cx="292.53" cy="433.93" r="1.45" fill="#fff" stroke="#8443b0" stroke-width="0.75"/>
<circle cx="293.60" cy="434.94" r="1.45" fill="#fff" stroke="#8443b0" stroke-width="0.75"/>
<circle cx="294.66" cy="435.87" r="1.45" fill="#fff" stroke="#8443b0" stroke-width="0.75"/>
<circle cx="295.72" cy="436.71" r="1.45" fill="#fff" stroke="#8443b0" stroke-width="0.75"/>
<circle cx="296.79" cy="437.49" r="1.45" fill="#fff" stroke="#8443b0" stroke-width="0.75"/>
<circle cx="297.85" cy="438.22" r="1.45" fill="#fff" stroke="#8443b0" stroke-width="0.75"/>
<circle cx="298.92" cy="438.85" r="1.45" fill="#fff" stroke="#8443b0" stroke-width="0.75"/>
<circle cx="299.98" cy="439.36" r="1.45" fill="#fff" stroke="#8443b0" stroke-width="0.75"/>
<circle cx="301.04" cy="439.77" r="1.45" fill="#fff" stroke="#8443b0" stroke-width="0.75"/>
<circle cx="302.11" cy="440.17" r="1.45" fill="#fff" stroke="#8443b0" stroke-width="0.75"/>
<circle cx="303.17" cy="440.54" r="1.45" fill="#fff" stroke="#8443b0" stroke-width="0.75"/>
<circle cx="304.24" cy="440.88" r="1.45" fill="#fff" stroke="#8443b0" stroke-width="0.75"/>
<circle cx="305.30" cy="441.19" r="1.45" fill="#fff" stroke="#8443b0" stroke-width="0.75"/>
<circle cx="306.36" cy="441.47" r="1.45" fill="#fff" stroke="#8443b0" stroke-width="0.75"/>
<circle cx="307.43" cy="441.73" r="1.45" fill="#fff" stroke="#8443b0" stroke-width="0.75"/>
<circle cx="308.49" cy="441.95" r="1.45" fill="#fff" stroke="#8443b0" stroke-width="0.75"/>
<circle cx="309.56" cy="442.15" r="1.45" fill="#fff" stroke="#8443b0" stroke-width="0.75"/>
<circle cx="310.62" cy="442.31" r="1.45" fill="#fff" stroke="#8443b0" stroke-width="0.75"/>
<circle cx="311.68" cy="442.42" r="1.45" fill="#fff" stroke="#8443b0" stroke-width="0.75"/>
<circle cx="312.75" cy="442.50" r="1.45" fill="#fff" stroke="#8443b0" stroke-width="0.75"/>
<circle cx="313.81" cy="442.55" r="1.45" fill="#fff" stroke="#8443b0" stroke-width="0.75"/>
<circle cx="314.88" cy="442.58" r="1.45" fill="#fff" stroke="#8443b0" stroke-width="0.75"/>
<circle cx="315.94" cy="442.58" r="1.45" fill="#fff" stroke="#8443b0" stroke-width="0.75"/>
<circle cx="317.00" cy="442.58" r="1.45" fill="#fff" stroke="#8443b0" stroke-width="0.75"/>
<circle cx="318.07" cy="442.57" r="1.45" fill="#fff" stroke="#8443b0" stroke-width="0.75"/>
<circle cx="319.13" cy="442.57" r="1.45" fill="#fff" stroke="#8443b0" stroke-width="0.75"/>
<circle cx="320.20" cy="442.57" r="1.45" fill="#fff" stroke="#8443b0" stroke-width="0.75"/>
<circle cx="321.26" cy="442.59" r="1.45" fill="#fff" stroke="#8443b0" stroke-width="0.75"/>
<circle cx="322.32" cy="442.61" r="1.45" fill="#fff" stroke="#8443b0" stroke-width="0.75"/>
<circle cx="323.39" cy="442.63" r="1.45" fill="#fff" stroke="#8443b0" stroke-width="0.75"/>
<circle cx="324.45" cy="442.65" r="1.45" fill="#fff" stroke="#8443b0" stroke-width="0.75"/>
<circle cx="325.52" cy="442.66" r="1.45" fill="#fff" stroke="#8443b0" stroke-width="0.75"/>
<circle cx="326.58" cy="442.67" r="1.45" fill="#fff" stroke="#8443b0" stroke-width="0.75"/>
<circle cx="327.64" cy="442.68" r="1.45" fill="#fff" stroke="#8443b0" stroke-width="0.75"/>
<circle cx="328.71" cy="442.70" r="1.45" fill="#fff" stroke="#8443b0" stroke-width="0.75"/>
<circle cx="329.77" cy="442.71" r="1.45" fill="#fff" stroke="#8443b0" stroke-width="0.75"/>
<circle cx="330.84" cy="442.72" r="1.45" fill="#fff" stroke="#8443b0" stroke-width="0.75"/>
<circle cx="331.90" cy="442.74" r="1.45" fill="#fff" stroke="#8443b0" stroke-width="0.75"/>
<circle cx="332.96" cy="442.76" r="1.45" fill="#fff" stroke="#8443b0" stroke-width="0.75"/>
<circle cx="334.03" cy="442.79" r="1.45" fill="#fff" stroke="#8443b0" stroke-width="0.75"/>
<circle cx="335.09" cy="442.82" r="1.45" fill="#fff" stroke="#8443b0" stroke-width="0.75"/>
<circle cx="336.16" cy="442.86" r="1.45" fill="#fff" stroke="#8443b0" stroke-width="0.75"/>
<circle cx="337.22" cy="442.91" r="1.45" fill="#fff" stroke="#8443b0" stroke-width="0.75"/>
<circle cx="338.28" cy="442.97" r="1.45" fill="#fff" stroke="#8443b0" stroke-width="0.75"/>
<circle cx="339.35" cy="443.05" r="1.45" fill="#fff" stroke="#8443b0" stroke-width="0.75"/>
<circle cx="340.41" cy="443.15" r="1.45" fill="#fff" stroke="#8443b0" stroke-width="0.75"/>
<circle cx="341.48" cy="443.27" r="1.45" fill="#fff" stroke="#8443b0" stroke-width="0.75"/>
<circle cx="342.54" cy="443.40" r="1.45" fill="#fff" stroke="#8443b0" stroke-width="0.75"/>
<circle cx="343.60" cy="443.53" r="1.45" fill="#fff" stroke="#8443b0" stroke-width="0.75"/>
<circle cx="344.67" cy="443.66" r="1.45" fill="#fff" stroke="#8443b0" stroke-width="0.75"/>
<circle cx="345.73" cy="443.79" r="1.45" fill="#fff" stroke="#8443b0" stroke-width="0.75"/>
<circle cx="346.80" cy="443.90" r="1.45" fill="#fff" stroke="#8443b0" stroke-width="0.75"/>
<circle cx="347.86" cy="444.00" r="1.45" fill="#fff" stroke="#8443b0" stroke-width="0.75"/>
<circle cx="348.92" cy="444.09" r="1.45" fill="#fff" stroke="#8443b0" stroke-width="0.75"/>
<circle cx="349.99" cy="444.18" r="1.45" fill="#fff" stroke="#8443b0" stroke-width="0.75"/>
<circle cx="351.05" cy="444.27" r="1.45" fill="#fff" stroke="#8443b0" stroke-width="0.75"/>
<circle cx="352.12" cy="444.35" r="1.45" fill="#fff" stroke="#8443b0" stroke-width="0.75"/>
<circle cx="353.18" cy="444.43" r="1.45" fill="#fff" stroke="#8443b0" stroke-width="0.75"/>
<circle cx="354.24" cy="444.50" r="1.45" fill="#fff" stroke="#8443b0" stroke-width="0.75"/>
<circle cx="355.31" cy="444.56" r="1.45" fill="#fff" stroke="#8443b0" stroke-width="0.75"/>
<circle cx="356.37" cy="444.62" r="1.45" fill="#fff" stroke="#8443b0" stroke-width="0.75"/>
<circle cx="357.44" cy="444.67" r="1.45" fill="#fff" stroke="#8443b0" stroke-width="0.75"/>
<circle cx="358.50" cy="444.71" r="1.45" fill="#fff" stroke="#8443b0" stroke-width="0.75"/>
<path d="M262.00,468.3 L266.20,468.3 L264.1,464.2 Z" fill="#111"/>
<line x1="289.40" y1="411.80" x2="297.80" y2="411.80" stroke="#8443b0" stroke-width="0.9"/>
<circle cx="293.60" cy="411.80" r="1.60" fill="#fff" stroke="#8443b0" stroke-width="0.8"/>
<text x="301.4" y="415.1" font-size="9.0" font-family='"Liberation Sans", sans-serif' fill="#231f20" textLength="55.2" lengthAdjust="spacingAndGlyphs" stroke="#231f20" stroke-width="0.18">[Ca<tspan font-size="6.6" dy="-3.4">2+</tspan><tspan dy="3.4">]</tspan><tspan font-size="6.6" dy="1.8">e</tspan><tspan dy="-1.8">=2.3 mM</tspan></text>
<line x1="289.40" y1="422.00" x2="297.80" y2="422.00" stroke="#777" stroke-width="0.9"/>
<path d="M293.60,420.20 L295.40,422.00 L293.60,423.80 L291.80,422.00 Z" fill="#fff" stroke="#777" stroke-width="0.8"/>
<text x="301.4" y="424.9" font-size="9.0" font-family='"Liberation Sans", sans-serif' fill="#231f20" textLength="48.6" lengthAdjust="spacingAndGlyphs" stroke="#231f20" stroke-width="0.18">[Ca<tspan font-size="6.6" dy="-3.4">2+</tspan><tspan dy="3.4">]</tspan><tspan font-size="6.6" dy="1.8">e</tspan><tspan dy="-1.8">=0 mM</tspan></text>
<line x1="404.40" y1="403.00" x2="404.40" y2="474.60" stroke="#231f20" stroke-width="1"/>
<line x1="403.90" y1="474.10" x2="511.00" y2="474.10" stroke="#231f20" stroke-width="1"/>
<line x1="401.10" y1="474.80" x2="404.40" y2="474.80" stroke="#231f20" stroke-width="1"/>
<text x="390.40" y="477.40" font-size="7.4" font-family='"Liberation Sans", sans-serif' fill="#231f20" stroke="#231f20" stroke-width="0.18">0.5</text>
<line x1="401.10" y1="457.10" x2="404.40" y2="457.10" stroke="#231f20" stroke-width="1"/>
<text x="390.40" y="459.70" font-size="7.4" font-family='"Liberation Sans", sans-serif' fill="#231f20" stroke="#231f20" stroke-width="0.18">1.0</text>
<line x1="401.10" y1="439.40" x2="404.40" y2="439.40" stroke="#231f20" stroke-width="1"/>
<text x="390.40" y="442.00" font-size="7.4" font-family='"Liberation Sans", sans-serif' fill="#231f20" stroke="#231f20" stroke-width="0.18">1.5</text>
<line x1="401.10" y1="421.70" x2="404.40" y2="421.70" stroke="#231f20" stroke-width="1"/>
<text x="390.40" y="424.30" font-size="7.4" font-family='"Liberation Sans", sans-serif' fill="#231f20" stroke="#231f20" stroke-width="0.18">2.0</text>
<line x1="401.10" y1="404.00" x2="404.40" y2="404.00" stroke="#231f20" stroke-width="1"/>
<text x="390.40" y="406.60" font-size="7.4" font-family='"Liberation Sans", sans-serif' fill="#231f20" stroke="#231f20" stroke-width="0.18">2.5</text>
<line x1="404.40" y1="474.10" x2="404.40" y2="477.10" stroke="#231f20" stroke-width="1"/>
<text x="402.35" y="485.40" font-size="7.4" font-family='"Liberation Sans", sans-serif' fill="#231f20" stroke="#231f20" stroke-width="0.18">0</text>
<line x1="431.00" y1="474.10" x2="431.00" y2="477.10" stroke="#231f20" stroke-width="1"/>
<text x="426.90" y="485.40" font-size="7.4" font-family='"Liberation Sans", sans-serif' fill="#231f20" stroke="#231f20" stroke-width="0.18">50</text>
<line x1="457.60" y1="474.10" x2="457.60" y2="477.10" stroke="#231f20" stroke-width="1"/>
<text x="451.30" y="485.40" font-size="7.4" font-family='"Liberation Sans", sans-serif' fill="#231f20" stroke="#231f20" stroke-width="0.18">100</text>
<line x1="484.20" y1="474.10" x2="484.20" y2="477.10" stroke="#231f20" stroke-width="1"/>
<text x="477.90" y="485.40" font-size="7.4" font-family='"Liberation Sans", sans-serif' fill="#231f20" stroke="#231f20" stroke-width="0.18">150</text>
<line x1="510.80" y1="474.10" x2="510.80" y2="477.10" stroke="#231f20" stroke-width="1"/>
<text x="504.60" y="485.40" font-size="7.4" font-family='"Liberation Sans", sans-serif' fill="#231f20" stroke="#231f20" stroke-width="0.18">200</text>
<text x="444.40" y="496.20" font-size="7.4" font-family='"Liberation Sans", sans-serif' fill="#231f20" stroke="#231f20" stroke-width="0.18">Time (s)</text>
<text transform="translate(381.70,437.60) rotate(-90)" x="-34.15" y="2.90" font-size="8.0" font-family='"Liberation Sans", sans-serif' fill="#231f20" stroke="#231f20" stroke-width="0.18">Fluo-4 A.F.U.(F/F<tspan font-size="5.6" dy="1.6">0</tspan><tspan dy="-1.6">)</tspan></text>
<line x1="416.10" y1="457.10" x2="510.80" y2="457.10" stroke="#888" stroke-width="0.8" stroke-dasharray="0.8,1.3"/>
<path d="M404.40,457.10 L405.46,457.19 L406.53,457.32 L407.59,457.47 L408.66,457.62 L409.72,457.74 L410.78,457.81 L411.85,457.86 L412.91,457.80 L413.98,457.45 L415.04,456.25 L416.10,454.23 L417.17,451.74 L418.23,449.98 L419.30,448.95 L420.36,448.36 L421.42,448.21 L422.49,448.35 L423.55,448.67 L424.62,449.05 L425.68,449.31 L426.74,449.46 L427.81,449.59 L428.87,449.71 L429.94,449.82 L431.00,449.92 L432.06,450.01 L433.13,450.10 L434.19,450.19 L435.26,450.28 L436.32,450.37 L437.38,450.47 L438.45,450.57 L439.51,450.67 L440.58,450.77 L441.64,450.87 L442.70,450.97 L443.77,451.06 L444.83,451.16 L445.90,451.26 L446.96,451.35 L448.02,451.44 L449.09,451.53 L450.15,451.62 L451.22,451.71 L452.28,451.79 L453.34,451.87 L454.41,451.95 L455.47,452.03 L456.54,452.10 L457.60,452.17 L458.66,452.24 L459.73,452.31 L460.79,452.38 L461.86,452.44 L462.92,452.51 L463.98,452.58 L465.05,452.65 L466.11,452.71 L467.18,452.78 L468.24,452.85 L469.30,452.92 L470.37,453.00 L471.43,453.07 L472.50,453.14 L473.56,453.21 L474.62,453.29 L475.69,453.36 L476.75,453.44 L477.82,453.51 L478.88,453.58 L479.94,453.65 L481.01,453.73 L482.07,453.80 L483.14,453.87 L484.20,453.94 L485.26,454.01 L486.33,454.07 L487.39,454.14 L488.46,454.21 L489.52,454.27 L490.58,454.33 L491.65,454.39 L492.71,454.46 L493.78,454.52 L494.84,454.58 L495.90,454.65 L496.97,454.71 L498.03,454.77 L499.10,454.83 L500.16,454.89 L501.22,454.94 L502.29,455.00 L503.35,455.05 L504.42,455.10 L505.48,455.15 L506.54,455.19 L507.61,455.23 L508.67,455.27 L509.74,455.30 L510.80,455.33" fill="none" stroke="#e0b45a" stroke-width="0.9"/>
<circle cx="404.40" cy="457.10" r="1.45" fill="#fff" stroke="#e0b45a" stroke-width="0.75"/>
<circle cx="405.46" cy="457.19" r="1.45" fill="#fff" stroke="#e0b45a" stroke-width="0.75"/>
<circle cx="406.53" cy="457.32" r="1.45" fill="#fff" stroke="#e0b45a" stroke-width="0.75"/>
<circle cx="407.59" cy="457.47" r="1.45" fill="#fff" stroke="#e0b45a" stroke-width="0.75"/>
<circle cx="408.66" cy="457.62" r="1.45" fill="#fff" stroke="#e0b45a" stroke-width="0.75"/>
<circle cx="409.72" cy="457.74" r="1.45" fill="#fff" stroke="#e0b45a" stroke-width="0.75"/>
<circle cx="410.78" cy="457.81" r="1.45" fill="#fff" stroke="#e0b45a" stroke-width="0.75"/>
<circle cx="411.85" cy="457.86" r="1.45" fill="#fff" stroke="#e0b45a" stroke-width="0.75"/>
<circle cx="412.91" cy="457.80" r="1.45" fill="#fff" stroke="#e0b45a" stroke-width="0.75"/>
<circle cx="413.98" cy="457.45" r="1.45" fill="#fff" stroke="#e0b45a" stroke-width="0.75"/>
<circle cx="415.04" cy="456.25" r="1.45" fill="#fff" stroke="#e0b45a" stroke-width="0.75"/>
<circle cx="416.10" cy="454.23" r="1.45" fill="#fff" stroke="#e0b45a" stroke-width="0.75"/>
<circle cx="417.17" cy="451.74" r="1.45" fill="#fff" stroke="#e0b45a" stroke-width="0.75"/>
<circle cx="418.23" cy="449.98" r="1.45" fill="#fff" stroke="#e0b45a" stroke-width="0.75"/>
<circle cx="419.30" cy="448.95" r="1.45" fill="#fff" stroke="#e0b45a" stroke-width="0.75"/>
<circle cx="420.36" cy="448.36" r="1.45" fill="#fff" stroke="#e0b45a" stroke-width="0.75"/>
<circle cx="421.42" cy="448.21" r="1.45" fill="#fff" stroke="#e0b45a" stroke-width="0.75"/>
<circle cx="422.49" cy="448.35" r="1.45" fill="#fff" stroke="#e0b45a" stroke-width="0.75"/>
<circle cx="423.55" cy="448.67" r="1.45" fill="#fff" stroke="#e0b45a" stroke-width="0.75"/>
<circle cx="424.62" cy="449.05" r="1.45" fill="#fff" stroke="#e0b45a" stroke-width="0.75"/>
<circle cx="425.68" cy="449.31" r="1.45" fill="#fff" stroke="#e0b45a" stroke-width="0.75"/>
<circle cx="426.74" cy="449.46" r="1.45" fill="#fff" stroke="#e0b45a" stroke-width="0.75"/>
<circle cx="427.81" cy="449.59" r="1.45" fill="#fff" stroke="#e0b45a" stroke-width="0.75"/>
<circle cx="428.87" cy="449.71" r="1.45" fill="#fff" stroke="#e0b45a" stroke-width="0.75"/>
<circle cx="429.94" cy="449.82" r="1.45" fill="#fff" stroke="#e0b45a" stroke-width="0.75"/>
<circle cx="431.00" cy="449.92" r="1.45" fill="#fff" stroke="#e0b45a" stroke-width="0.75"/>
<circle cx="432.06" cy="450.01" r="1.45" fill="#fff" stroke="#e0b45a" stroke-width="0.75"/>
<circle cx="433.13" cy="450.10" r="1.45" fill="#fff" stroke="#e0b45a" stroke-width="0.75"/>
<circle cx="434.19" cy="450.19" r="1.45" fill="#fff" stroke="#e0b45a" stroke-width="0.75"/>
<circle cx="435.26" cy="450.28" r="1.45" fill="#fff" stroke="#e0b45a" stroke-width="0.75"/>
<circle cx="436.32" cy="450.37" r="1.45" fill="#fff" stroke="#e0b45a" stroke-width="0.75"/>
<circle cx="437.38" cy="450.47" r="1.45" fill="#fff" stroke="#e0b45a" stroke-width="0.75"/>
<circle cx="438.45" cy="450.57" r="1.45" fill="#fff" stroke="#e0b45a" stroke-width="0.75"/>
<circle cx="439.51" cy="450.67" r="1.45" fill="#fff" stroke="#e0b45a" stroke-width="0.75"/>
<circle cx="440.58" cy="450.77" r="1.45" fill="#fff" stroke="#e0b45a" stroke-width="0.75"/>
<circle cx="441.64" cy="450.87" r="1.45" fill="#fff" stroke="#e0b45a" stroke-width="0.75"/>
<circle cx="442.70" cy="450.97" r="1.45" fill="#fff" stroke="#e0b45a" stroke-width="0.75"/>
<circle cx="443.77" cy="451.06" r="1.45" fill="#fff" stroke="#e0b45a" stroke-width="0.75"/>
<circle cx="444.83" cy="451.16" r="1.45" fill="#fff" stroke="#e0b45a" stroke-width="0.75"/>
<circle cx="445.90" cy="451.26" r="1.45" fill="#fff" stroke="#e0b45a" stroke-width="0.75"/>
<circle cx="446.96" cy="451.35" r="1.45" fill="#fff" stroke="#e0b45a" stroke-width="0.75"/>
<circle cx="448.02" cy="451.44" r="1.45" fill="#fff" stroke="#e0b45a" stroke-width="0.75"/>
<circle cx="449.09" cy="451.53" r="1.45" fill="#fff" stroke="#e0b45a" stroke-width="0.75"/>
<circle cx="450.15" cy="451.62" r="1.45" fill="#fff" stroke="#e0b45a" stroke-width="0.75"/>
<circle cx="451.22" cy="451.71" r="1.45" fill="#fff" stroke="#e0b45a" stroke-width="0.75"/>
<circle cx="452.28" cy="451.79" r="1.45" fill="#fff" stroke="#e0b45a" stroke-width="0.75"/>
<circle cx="453.34" cy="451.87" r="1.45" fill="#fff" stroke="#e0b45a" stroke-width="0.75"/>
<circle cx="454.41" cy="451.95" r="1.45" fill="#fff" stroke="#e0b45a" stroke-width="0.75"/>
<circle cx="455.47" cy="452.03" r="1.45" fill="#fff" stroke="#e0b45a" stroke-width="0.75"/>
<circle cx="456.54" cy="452.10" r="1.45" fill="#fff" stroke="#e0b45a" stroke-width="0.75"/>
<circle cx="457.60" cy="452.17" r="1.45" fill="#fff" stroke="#e0b45a" stroke-width="0.75"/>
<circle cx="458.66" cy="452.24" r="1.45" fill="#fff" stroke="#e0b45a" stroke-width="0.75"/>
<circle cx="459.73" cy="452.31" r="1.45" fill="#fff" stroke="#e0b45a" stroke-width="0.75"/>
<circle cx="460.79" cy="452.38" r="1.45" fill="#fff" stroke="#e0b45a" stroke-width="0.75"/>
<circle cx="461.86" cy="452.44" r="1.45" fill="#fff" stroke="#e0b45a" stroke-width="0.75"/>
<circle cx="462.92" cy="452.51" r="1.45" fill="#fff" stroke="#e0b45a" stroke-width="0.75"/>
<circle cx="463.98" cy="452.58" r="1.45" fill="#fff" stroke="#e0b45a" stroke-width="0.75"/>
<circle cx="465.05" cy="452.65" r="1.45" fill="#fff" stroke="#e0b45a" stroke-width="0.75"/>
<circle cx="466.11" cy="452.71" r="1.45" fill="#fff" stroke="#e0b45a" stroke-width="0.75"/>
<circle cx="467.18" cy="452.78" r="1.45" fill="#fff" stroke="#e0b45a" stroke-width="0.75"/>
<circle cx="468.24" cy="452.85" r="1.45" fill="#fff" stroke="#e0b45a" stroke-width="0.75"/>
<circle cx="469.30" cy="452.92" r="1.45" fill="#fff" stroke="#e0b45a" stroke-width="0.75"/>
<circle cx="470.37" cy="453.00" r="1.45" fill="#fff" stroke="#e0b45a" stroke-width="0.75"/>
<circle cx="471.43" cy="453.07" r="1.45" fill="#fff" stroke="#e0b45a" stroke-width="0.75"/>
<circle cx="472.50" cy="453.14" r="1.45" fill="#fff" stroke="#e0b45a" stroke-width="0.75"/>
<circle cx="473.56" cy="453.21" r="1.45" fill="#fff" stroke="#e0b45a" stroke-width="0.75"/>
<circle cx="474.62" cy="453.29" r="1.45" fill="#fff" stroke="#e0b45a" stroke-width="0.75"/>
<circle cx="475.69" cy="453.36" r="1.45" fill="#fff" stroke="#e0b45a" stroke-width="0.75"/>
<circle cx="476.75" cy="453.44" r="1.45" fill="#fff" stroke="#e0b45a" stroke-width="0.75"/>
<circle cx="477.82" cy="453.51" r="1.45" fill="#fff" stroke="#e0b45a" stroke-width="0.75"/>
<circle cx="478.88" cy="453.58" r="1.45" fill="#fff" stroke="#e0b45a" stroke-width="0.75"/>
<circle cx="479.94" cy="453.65" r="1.45" fill="#fff" stroke="#e0b45a" stroke-width="0.75"/>
<circle cx="481.01" cy="453.73" r="1.45" fill="#fff" stroke="#e0b45a" stroke-width="0.75"/>
<circle cx="482.07" cy="453.80" r="1.45" fill="#fff" stroke="#e0b45a" stroke-width="0.75"/>
<circle cx="483.14" cy="453.87" r="1.45" fill="#fff" stroke="#e0b45a" stroke-width="0.75"/>
<circle cx="484.20" cy="453.94" r="1.45" fill="#fff" stroke="#e0b45a" stroke-width="0.75"/>
<circle cx="485.26" cy="454.01" r="1.45" fill="#fff" stroke="#e0b45a" stroke-width="0.75"/>
<circle cx="486.33" cy="454.07" r="1.45" fill="#fff" stroke="#e0b45a" stroke-width="0.75"/>
<circle cx="487.39" cy="454.14" r="1.45" fill="#fff" stroke="#e0b45a" stroke-width="0.75"/>
<circle cx="488.46" cy="454.21" r="1.45" fill="#fff" stroke="#e0b45a" stroke-width="0.75"/>
<circle cx="489.52" cy="454.27" r="1.45" fill="#fff" stroke="#e0b45a" stroke-width="0.75"/>
<circle cx="490.58" cy="454.33" r="1.45" fill="#fff" stroke="#e0b45a" stroke-width="0.75"/>
<circle cx="491.65" cy="454.39" r="1.45" fill="#fff" stroke="#e0b45a" stroke-width="0.75"/>
<circle cx="492.71" cy="454.46" r="1.45" fill="#fff" stroke="#e0b45a" stroke-width="0.75"/>
<circle cx="493.78" cy="454.52" r="1.45" fill="#fff" stroke="#e0b45a" stroke-width="0.75"/>
<circle cx="494.84" cy="454.58" r="1.45" fill="#fff" stroke="#e0b45a" stroke-width="0.75"/>
<circle cx="495.90" cy="454.65" r="1.45" fill="#fff" stroke="#e0b45a" stroke-width="0.75"/>
<circle cx="496.97" cy="454.71" r="1.45" fill="#fff" stroke="#e0b45a" stroke-width="0.75"/>
<circle cx="498.03" cy="454.77" r="1.45" fill="#fff" stroke="#e0b45a" stroke-width="0.75"/>
<circle cx="499.10" cy="454.83" r="1.45" fill="#fff" stroke="#e0b45a" stroke-width="0.75"/>
<circle cx="500.16" cy="454.89" r="1.45" fill="#fff" stroke="#e0b45a" stroke-width="0.75"/>
<circle cx="501.22" cy="454.94" r="1.45" fill="#fff" stroke="#e0b45a" stroke-width="0.75"/>
<circle cx="502.29" cy="455.00" r="1.45" fill="#fff" stroke="#e0b45a" stroke-width="0.75"/>
<circle cx="503.35" cy="455.05" r="1.45" fill="#fff" stroke="#e0b45a" stroke-width="0.75"/>
<circle cx="504.42" cy="455.10" r="1.45" fill="#fff" stroke="#e0b45a" stroke-width="0.75"/>
<circle cx="505.48" cy="455.15" r="1.45" fill="#fff" stroke="#e0b45a" stroke-width="0.75"/>
<circle cx="506.54" cy="455.19" r="1.45" fill="#fff" stroke="#e0b45a" stroke-width="0.75"/>
<circle cx="507.61" cy="455.23" r="1.45" fill="#fff" stroke="#e0b45a" stroke-width="0.75"/>
<circle cx="508.67" cy="455.27" r="1.45" fill="#fff" stroke="#e0b45a" stroke-width="0.75"/>
<circle cx="509.74" cy="455.30" r="1.45" fill="#fff" stroke="#e0b45a" stroke-width="0.75"/>
<circle cx="510.80" cy="455.33" r="1.45" fill="#fff" stroke="#e0b45a" stroke-width="0.75"/>
<path d="M404.40,457.10 L405.46,457.23 L406.53,457.42 L407.59,457.64 L408.66,457.86 L409.72,458.04 L410.78,458.16 L411.85,458.26 L412.91,458.23 L413.98,457.81 L415.04,455.33 L416.10,437.63 L417.17,434.09 L418.23,431.55 L419.30,429.75 L420.36,428.78 L421.42,428.55 L422.49,428.78 L423.55,429.37 L424.62,430.15 L425.68,430.90 L426.74,431.59 L427.81,432.28 L428.87,432.98 L429.94,433.67 L431.00,434.34 L432.06,434.98 L433.13,435.58 L434.19,436.13 L435.26,436.64 L436.32,437.10 L437.38,437.52 L438.45,437.88 L439.51,438.20 L440.58,438.47 L441.64,438.71 L442.70,438.92 L443.77,439.13 L444.83,439.31 L445.90,439.49 L446.96,439.65 L448.02,439.81 L449.09,439.97 L450.15,440.13 L451.22,440.29 L452.28,440.46 L453.34,440.64 L454.41,440.81 L455.47,440.99 L456.54,441.16 L457.60,441.33 L458.66,441.51 L459.73,441.68 L460.79,441.85 L461.86,442.01 L462.92,442.18 L463.98,442.34 L465.05,442.49 L466.11,442.65 L467.18,442.80 L468.24,442.94 L469.30,443.08 L470.37,443.21 L471.43,443.34 L472.50,443.47 L473.56,443.59 L474.62,443.70 L475.69,443.82 L476.75,443.93 L477.82,444.04 L478.88,444.15 L479.94,444.26 L481.01,444.37 L482.07,444.48 L483.14,444.60 L484.20,444.71 L485.26,444.83 L486.33,444.95 L487.39,445.07 L488.46,445.20 L489.52,445.33 L490.58,445.46 L491.65,445.59 L492.71,445.72 L493.78,445.85 L494.84,445.99 L495.90,446.12 L496.97,446.24 L498.03,446.37 L499.10,446.50 L500.16,446.62 L501.22,446.73 L502.29,446.85 L503.35,446.96 L504.42,447.06 L505.48,447.16 L506.54,447.25 L507.61,447.33 L508.67,447.41 L509.74,447.48 L510.80,447.54" fill="none" stroke="#4a86cc" stroke-width="0.9"/>
<circle cx="404.40" cy="457.10" r="1.45" fill="#fff" stroke="#4a86cc" stroke-width="0.75"/>
<circle cx="405.46" cy="457.23" r="1.45" fill="#fff" stroke="#4a86cc" stroke-width="0.75"/>
<circle cx="406.53" cy="457.42" r="1.45" fill="#fff" stroke="#4a86cc" stroke-width="0.75"/>
<circle cx="407.59" cy="457.64" r="1.45" fill="#fff" stroke="#4a86cc" stroke-width="0.75"/>
<circle cx="408.66" cy="457.86" r="1.45" fill="#fff" stroke="#4a86cc" stroke-width="0.75"/>
<circle cx="409.72" cy="458.04" r="1.45" fill="#fff" stroke="#4a86cc" stroke-width="0.75"/>
<circle cx="410.78" cy="458.16" r="1.45" fill="#fff" stroke="#4a86cc" stroke-width="0.75"/>
<circle cx="411.85" cy="458.26" r="1.45" fill="#fff" stroke="#4a86cc" stroke-width="0.75"/>
<circle cx="412.91" cy="458.23" r="1.45" fill="#fff" stroke="#4a86cc" stroke-width="0.75"/>
<circle cx="413.98" cy="457.81" r="1.45" fill="#fff" stroke="#4a86cc" stroke-width="0.75"/>
<circle cx="415.04" cy="455.33" r="1.45" fill="#fff" stroke="#4a86cc" stroke-width="0.75"/>
<circle cx="416.10" cy="437.63" r="1.45" fill="#fff" stroke="#4a86cc" stroke-width="0.75"/>
<circle cx="417.17" cy="434.09" r="1.45" fill="#fff" stroke="#4a86cc" stroke-width="0.75"/>
<circle cx="418.23" cy="431.55" r="1.45" fill="#fff" stroke="#4a86cc" stroke-width="0.75"/>
<circle cx="419.30" cy="429.75" r="1.45" fill="#fff" stroke="#4a86cc" stroke-width="0.75"/>
<circle cx="420.36" cy="428.78" r="1.45" fill="#fff" stroke="#4a86cc" stroke-width="0.75"/>
<circle cx="421.42" cy="428.55" r="1.45" fill="#fff" stroke="#4a86cc" stroke-width="0.75"/>
<circle cx="422.49" cy="428.78" r="1.45" fill="#fff" stroke="#4a86cc" stroke-width="0.75"/>
<circle cx="423.55" cy="429.37" r="1.45" fill="#fff" stroke="#4a86cc" stroke-width="0.75"/>
<circle cx="424.62" cy="430.15" r="1.45" fill="#fff" stroke="#4a86cc" stroke-width="0.75"/>
<circle cx="425.68" cy="430.90" r="1.45" fill="#fff" stroke="#4a86cc" stroke-width="0.75"/>
<circle cx="426.74" cy="431.59" r="1.45" fill="#fff" stroke="#4a86cc" stroke-width="0.75"/>
<circle cx="427.81" cy="432.28" r="1.45" fill="#fff" stroke="#4a86cc" stroke-width="0.75"/>
<circle cx="428.87" cy="432.98" r="1.45" fill="#fff" stroke="#4a86cc" stroke-width="0.75"/>
<circle cx="429.94" cy="433.67" r="1.45" fill="#fff" stroke="#4a86cc" stroke-width="0.75"/>
<circle cx="431.00" cy="434.34" r="1.45" fill="#fff" stroke="#4a86cc" stroke-width="0.75"/>
<circle cx="432.06" cy="434.98" r="1.45" fill="#fff" stroke="#4a86cc" stroke-width="0.75"/>
<circle cx="433.13" cy="435.58" r="1.45" fill="#fff" stroke="#4a86cc" stroke-width="0.75"/>
<circle cx="434.19" cy="436.13" r="1.45" fill="#fff" stroke="#4a86cc" stroke-width="0.75"/>
<circle cx="435.26" cy="436.64" r="1.45" fill="#fff" stroke="#4a86cc" stroke-width="0.75"/>
<circle cx="436.32" cy="437.10" r="1.45" fill="#fff" stroke="#4a86cc" stroke-width="0.75"/>
<circle cx="437.38" cy="437.52" r="1.45" fill="#fff" stroke="#4a86cc" stroke-width="0.75"/>
<circle cx="438.45" cy="437.88" r="1.45" fill="#fff" stroke="#4a86cc" stroke-width="0.75"/>
<circle cx="439.51" cy="438.20" r="1.45" fill="#fff" stroke="#4a86cc" stroke-width="0.75"/>
<circle cx="440.58" cy="438.47" r="1.45" fill="#fff" stroke="#4a86cc" stroke-width="0.75"/>
<circle cx="441.64" cy="438.71" r="1.45" fill="#fff" stroke="#4a86cc" stroke-width="0.75"/>
<circle cx="442.70" cy="438.92" r="1.45" fill="#fff" stroke="#4a86cc" stroke-width="0.75"/>
<circle cx="443.77" cy="439.13" r="1.45" fill="#fff" stroke="#4a86cc" stroke-width="0.75"/>
<circle cx="444.83" cy="439.31" r="1.45" fill="#fff" stroke="#4a86cc" stroke-width="0.75"/>
<circle cx="445.90" cy="439.49" r="1.45" fill="#fff" stroke="#4a86cc" stroke-width="0.75"/>
<circle cx="446.96" cy="439.65" r="1.45" fill="#fff" stroke="#4a86cc" stroke-width="0.75"/>
<circle cx="448.02" cy="439.81" r="1.45" fill="#fff" stroke="#4a86cc" stroke-width="0.75"/>
<circle cx="449.09" cy="439.97" r="1.45" fill="#fff" stroke="#4a86cc" stroke-width="0.75"/>
<circle cx="450.15" cy="440.13" r="1.45" fill="#fff" stroke="#4a86cc" stroke-width="0.75"/>
<circle cx="451.22" cy="440.29" r="1.45" fill="#fff" stroke="#4a86cc" stroke-width="0.75"/>
<circle cx="452.28" cy="440.46" r="1.45" fill="#fff" stroke="#4a86cc" stroke-width="0.75"/>
<circle cx="453.34" cy="440.64" r="1.45" fill="#fff" stroke="#4a86cc" stroke-width="0.75"/>
<circle cx="454.41" cy="440.81" r="1.45" fill="#fff" stroke="#4a86cc" stroke-width="0.75"/>
<circle cx="455.47" cy="440.99" r="1.45" fill="#fff" stroke="#4a86cc" stroke-width="0.75"/>
<circle cx="456.54" cy="441.16" r="1.45" fill="#fff" stroke="#4a86cc" stroke-width="0.75"/>
<circle cx="457.60" cy="441.33" r="1.45" fill="#fff" stroke="#4a86cc" stroke-width="0.75"/>
<circle cx="458.66" cy="441.51" r="1.45" fill="#fff" stroke="#4a86cc" stroke-width="0.75"/>
<circle cx="459.73" cy="441.68" r="1.45" fill="#fff" stroke="#4a86cc" stroke-width="0.75"/>
<circle cx="460.79" cy="441.85" r="1.45" fill="#fff" stroke="#4a86cc" stroke-width="0.75"/>
<circle cx="461.86" cy="442.01" r="1.45" fill="#fff" stroke="#4a86cc" stroke-width="0.75"/>
<circle cx="462.92" cy="442.18" r="1.45" fill="#fff" stroke="#4a86cc" stroke-width="0.75"/>
<circle cx="463.98" cy="442.34" r="1.45" fill="#fff" stroke="#4a86cc" stroke-width="0.75"/>
<circle cx="465.05" cy="442.49" r="1.45" fill="#fff" stroke="#4a86cc" stroke-width="0.75"/>
<circle cx="466.11" cy="442.65" r="1.45" fill="#fff" stroke="#4a86cc" stroke-width="0.75"/>
<circle cx="467.18" cy="442.80" r="1.45" fill="#fff" stroke="#4a86cc" stroke-width="0.75"/>
<circle cx="468.24" cy="442.94" r="1.45" fill="#fff" stroke="#4a86cc" stroke-width="0.75"/>
<circle cx="469.30" cy="443.08" r="1.45" fill="#fff" stroke="#4a86cc" stroke-width="0.75"/>
<circle cx="470.37" cy="443.21" r="1.45" fill="#fff" stroke="#4a86cc" stroke-width="0.75"/>
<circle cx="471.43" cy="443.34" r="1.45" fill="#fff" stroke="#4a86cc" stroke-width="0.75"/>
<circle cx="472.50" cy="443.47" r="1.45" fill="#fff" stroke="#4a86cc" stroke-width="0.75"/>
<circle cx="473.56" cy="443.59" r="1.45" fill="#fff" stroke="#4a86cc" stroke-width="0.75"/>
<circle cx="474.62" cy="443.70" r="1.45" fill="#fff" stroke="#4a86cc" stroke-width="0.75"/>
<circle cx="475.69" cy="443.82" r="1.45" fill="#fff" stroke="#4a86cc" stroke-width="0.75"/>
<circle cx="476.75" cy="443.93" r="1.45" fill="#fff" stroke="#4a86cc" stroke-width="0.75"/>
<circle cx="477.82" cy="444.04" r="1.45" fill="#fff" stroke="#4a86cc" stroke-width="0.75"/>
<circle cx="478.88" cy="444.15" r="1.45" fill="#fff" stroke="#4a86cc" stroke-width="0.75"/>
<circle cx="479.94" cy="444.26" r="1.45" fill="#fff" stroke="#4a86cc" stroke-width="0.75"/>
<circle cx="481.01" cy="444.37" r="1.45" fill="#fff" stroke="#4a86cc" stroke-width="0.75"/>
<circle cx="482.07" cy="444.48" r="1.45" fill="#fff" stroke="#4a86cc" stroke-width="0.75"/>
<circle cx="483.14" cy="444.60" r="1.45" fill="#fff" stroke="#4a86cc" stroke-width="0.75"/>
<circle cx="484.20" cy="444.71" r="1.45" fill="#fff" stroke="#4a86cc" stroke-width="0.75"/>
<circle cx="485.26" cy="444.83" r="1.45" fill="#fff" stroke="#4a86cc" stroke-width="0.75"/>
<circle cx="486.33" cy="444.95" r="1.45" fill="#fff" stroke="#4a86cc" stroke-width="0.75"/>
<circle cx="487.39" cy="445.07" r="1.45" fill="#fff" stroke="#4a86cc" stroke-width="0.75"/>
<circle cx="488.46" cy="445.20" r="1.45" fill="#fff" stroke="#4a86cc" stroke-width="0.75"/>
<circle cx="489.52" cy="445.33" r="1.45" fill="#fff" stroke="#4a86cc" stroke-width="0.75"/>
<circle cx="490.58" cy="445.46" r="1.45" fill="#fff" stroke="#4a86cc" stroke-width="0.75"/>
<circle cx="491.65" cy="445.59" r="1.45" fill="#fff" stroke="#4a86cc" stroke-width="0.75"/>
<circle cx="492.71" cy="445.72" r="1.45" fill="#fff" stroke="#4a86cc" stroke-width="0.75"/>
<circle cx="493.78" cy="445.85" r="1.45" fill="#fff" stroke="#4a86cc" stroke-width="0.75"/>
<circle cx="494.84" cy="445.99" r="1.45" fill="#fff" stroke="#4a86cc" stroke-width="0.75"/>
<circle cx="495.90" cy="446.12" r="1.45" fill="#fff" stroke="#4a86cc" stroke-width="0.75"/>
<circle cx="496.97" cy="446.24" r="1.45" fill="#fff" stroke="#4a86cc" stroke-width="0.75"/>
<circle cx="498.03" cy="446.37" r="1.45" fill="#fff" stroke="#4a86cc" stroke-width="0.75"/>
<circle cx="499.10" cy="446.50" r="1.45" fill="#fff" stroke="#4a86cc" stroke-width="0.75"/>
<circle cx="500.16" cy="446.62" r="1.45" fill="#fff" stroke="#4a86cc" stroke-width="0.75"/>
<circle cx="501.22" cy="446.73" r="1.45" fill="#fff" stroke="#4a86cc" stroke-width="0.75"/>
<circle cx="502.29" cy="446.85" r="1.45" fill="#fff" stroke="#4a86cc" stroke-width="0.75"/>
<circle cx="503.35" cy="446.96" r="1.45" fill="#fff" stroke="#4a86cc" stroke-width="0.75"/>
<circle cx="504.42" cy="447.06" r="1.45" fill="#fff" stroke="#4a86cc" stroke-width="0.75"/>
<circle cx="505.48" cy="447.16" r="1.45" fill="#fff" stroke="#4a86cc" stroke-width="0.75"/>
<circle cx="506.54" cy="447.25" r="1.45" fill="#fff" stroke="#4a86cc" stroke-width="0.75"/>
<circle cx="507.61" cy="447.33" r="1.45" fill="#fff" stroke="#4a86cc" stroke-width="0.75"/>
<circle cx="508.67" cy="447.41" r="1.45" fill="#fff" stroke="#4a86cc" stroke-width="0.75"/>
<circle cx="509.74" cy="447.48" r="1.45" fill="#fff" stroke="#4a86cc" stroke-width="0.75"/>
<circle cx="510.80" cy="447.54" r="1.45" fill="#fff" stroke="#4a86cc" stroke-width="0.75"/>
<path d="M404.40,457.10 L405.46,457.18 L406.53,457.30 L407.59,457.45 L408.66,457.70 L409.72,457.99 L410.78,458.16 L411.85,458.23 L412.91,458.08 L413.98,457.59 L415.04,455.33 L416.10,444.71 L417.17,434.09 L418.23,429.90 L419.30,427.97 L420.36,427.20 L421.42,426.91 L422.49,427.10 L423.55,427.74 L424.62,428.77 L425.68,429.84 L426.74,430.85 L427.81,431.87 L428.87,432.85 L429.94,433.74 L431.00,434.55 L432.06,435.33 L433.13,436.05 L434.19,436.71 L435.26,437.28 L436.32,437.75 L437.38,438.14 L438.45,438.43 L439.51,438.63 L440.58,438.73 L441.64,438.75 L442.70,438.71 L443.77,438.63 L444.83,438.53 L445.90,438.43 L446.96,438.34 L448.02,438.25 L449.09,438.16 L450.15,438.06 L451.22,437.95 L452.28,437.85 L453.34,437.75 L454.41,437.67 L455.47,437.60 L456.54,437.54 L457.60,437.49 L458.66,437.45 L459.73,437.42 L460.79,437.38 L461.86,437.33 L462.92,437.28 L463.98,437.21 L465.05,437.14 L466.11,437.07 L467.18,436.99 L468.24,436.91 L469.30,436.84 L470.37,436.76 L471.43,436.69 L472.50,436.63 L473.56,436.57 L474.62,436.52 L475.69,436.48 L476.75,436.44 L477.82,436.41 L478.88,436.38 L479.94,436.35 L481.01,436.32 L482.07,436.29 L483.14,436.25 L484.20,436.21 L485.26,436.16 L486.33,436.09 L487.39,436.01 L488.46,435.94 L489.52,435.88 L490.58,435.84 L491.65,435.84 L492.71,435.89 L493.78,435.98 L494.84,436.11 L495.90,436.26 L496.97,436.43 L498.03,436.60 L499.10,436.77 L500.16,436.92 L501.22,437.06 L502.29,437.19 L503.35,437.32 L504.42,437.47 L505.48,437.63 L506.54,437.84 L507.61,438.08 L508.67,438.33 L509.74,438.54 L510.80,438.69" fill="none" stroke="#8443b0" stroke-width="0.9"/>
<circle cx="404.40" cy="457.10" r="1.45" fill="#fff" stroke="#8443b0" stroke-width="0.75"/>
<circle cx="405.46" cy="457.18" r="1.45" fill="#fff" stroke="#8443b0" stroke-width="0.75"/>
<circle cx="406.53" cy="457.30" r="1.45" fill="#fff" stroke="#8443b0" stroke-width="0.75"/>
<circle cx="407.59" cy="457.45" r="1.45" fill="#fff" stroke="#8443b0" stroke-width="0.75"/>
<circle cx="408.66" cy="457.70" r="1.45" fill="#fff" stroke="#8443b0" stroke-width="0.75"/>
<circle cx="409.72" cy="457.99" r="1.45" fill="#fff" stroke="#8443b0" stroke-width="0.75"/>
<circle cx="410.78" cy="458.16" r="1.45" fill="#fff" stroke="#8443b0" stroke-width="0.75"/>
<circle cx="411.85" cy="458.23" r="1.45" fill="#fff" stroke="#8443b0" stroke-width="0.75"/>
<circle cx="412.91" cy="458.08" r="1.45" fill="#fff" stroke="#8443b0" stroke-width="0.75"/>
<circle cx="413.98" cy="457.59" r="1.45" fill="#fff" stroke="#8443b0" stroke-width="0.75"/>
<circle cx="415.04" cy="455.33" r="1.45" fill="#fff" stroke="#8443b0" stroke-width="0.75"/>
<circle cx="416.10" cy="444.71" r="1.45" fill="#fff" stroke="#8443b0" stroke-width="0.75"/>
<circle cx="417.17" cy="434.09" r="1.45" fill="#fff" stroke="#8443b0" stroke-width="0.75"/>
<circle cx="418.23" cy="429.90" r="1.45" fill="#fff" stroke="#8443b0" stroke-width="0.75"/>
<circle cx="419.30" cy="427.97" r="1.45" fill="#fff" stroke="#8443b0" stroke-width="0.75"/>
<circle cx="420.36" cy="427.20" r="1.45" fill="#fff" stroke="#8443b0" stroke-width="0.75"/>
<circle cx="421.42" cy="426.91" r="1.45" fill="#fff" stroke="#8443b0" stroke-width="0.75"/>
<circle cx="422.49" cy="427.10" r="1.45" fill="#fff" stroke="#8443b0" stroke-width="0.75"/>
<circle cx="423.55" cy="427.74" r="1.45" fill="#fff" stroke="#8443b0" stroke-width="0.75"/>
<circle cx="424.62" cy="428.77" r="1.45" fill="#fff" stroke="#8443b0" stroke-width="0.75"/>
<circle cx="425.68" cy="429.84" r="1.45" fill="#fff" stroke="#8443b0" stroke-width="0.75"/>
<circle cx="426.74" cy="430.85" r="1.45" fill="#fff" stroke="#8443b0" stroke-width="0.75"/>
<circle cx="427.81" cy="431.87" r="1.45" fill="#fff" stroke="#8443b0" stroke-width="0.75"/>
<circle cx="428.87" cy="432.85" r="1.45" fill="#fff" stroke="#8443b0" stroke-width="0.75"/>
<circle cx="429.94" cy="433.74" r="1.45" fill="#fff" stroke="#8443b0" stroke-width="0.75"/>
<circle cx="431.00" cy="434.55" r="1.45" fill="#fff" stroke="#8443b0" stroke-width="0.75"/>
<circle cx="432.06" cy="435.33" r="1.45" fill="#fff" stroke="#8443b0" stroke-width="0.75"/>
<circle cx="433.13" cy="436.05" r="1.45" fill="#fff" stroke="#8443b0" stroke-width="0.75"/>
<circle cx="434.19" cy="436.71" r="1.45" fill="#fff" stroke="#8443b0" stroke-width="0.75"/>
<circle cx="435.26" cy="437.28" r="1.45" fill="#fff" stroke="#8443b0" stroke-width="0.75"/>
<circle cx="436.32" cy="437.75" r="1.45" fill="#fff" stroke="#8443b0" stroke-width="0.75"/>
<circle cx="437.38" cy="438.14" r="1.45" fill="#fff" stroke="#8443b0" stroke-width="0.75"/>
<circle cx="438.45" cy="438.43" r="1.45" fill="#fff" stroke="#8443b0" stroke-width="0.75"/>
<circle cx="439.51" cy="438.63" r="1.45" fill="#fff" stroke="#8443b0" stroke-width="0.75"/>
<circle cx="440.58" cy="438.73" r="1.45" fill="#fff" stroke="#8443b0" stroke-width="0.75"/>
<circle cx="441.64" cy="438.75" r="1.45" fill="#fff" stroke="#8443b0" stroke-width="0.75"/>
<circle cx="442.70" cy="438.71" r="1.45" fill="#fff" stroke="#8443b0" stroke-width="0.75"/>
<circle cx="443.77" cy="438.63" r="1.45" fill="#fff" stroke="#8443b0" stroke-width="0.75"/>
<circle cx="444.83" cy="438.53" r="1.45" fill="#fff" stroke="#8443b0" stroke-width="0.75"/>
<circle cx="445.90" cy="438.43" r="1.45" fill="#fff" stroke="#8443b0" stroke-width="0.75"/>
<circle cx="446.96" cy="438.34" r="1.45" fill="#fff" stroke="#8443b0" stroke-width="0.75"/>
<circle cx="448.02" cy="438.25" r="1.45" fill="#fff" stroke="#8443b0" stroke-width="0.75"/>
<circle cx="449.09" cy="438.16" r="1.45" fill="#fff" stroke="#8443b0" stroke-width="0.75"/>
<circle cx="450.15" cy="438.06" r="1.45" fill="#fff" stroke="#8443b0" stroke-width="0.75"/>
<circle cx="451.22" cy="437.95" r="1.45" fill="#fff" stroke="#8443b0" stroke-width="0.75"/>
<circle cx="452.28" cy="437.85" r="1.45" fill="#fff" stroke="#8443b0" stroke-width="0.75"/>
<circle cx="453.34" cy="437.75" r="1.45" fill="#fff" stroke="#8443b0" stroke-width="0.75"/>
<circle cx="454.41" cy="437.67" r="1.45" fill="#fff" stroke="#8443b0" stroke-width="0.75"/>
<circle cx="455.47" cy="437.60" r="1.45" fill="#fff" stroke="#8443b0" stroke-width="0.75"/>
<circle cx="456.54" cy="437.54" r="1.45" fill="#fff" stroke="#8443b0" stroke-width="0.75"/>
<circle cx="457.60" cy="437.49" r="1.45" fill="#fff" stroke="#8443b0" stroke-width="0.75"/>
<circle cx="458.66" cy="437.45" r="1.45" fill="#fff" stroke="#8443b0" stroke-width="0.75"/>
<circle cx="459.73" cy="437.42" r="1.45" fill="#fff" stroke="#8443b0" stroke-width="0.75"/>
<circle cx="460.79" cy="437.38" r="1.45" fill="#fff" stroke="#8443b0" stroke-width="0.75"/>
<circle cx="461.86" cy="437.33" r="1.45" fill="#fff" stroke="#8443b0" stroke-width="0.75"/>
<circle cx="462.92" cy="437.28" r="1.45" fill="#fff" stroke="#8443b0" stroke-width="0.75"/>
<circle cx="463.98" cy="437.21" r="1.45" fill="#fff" stroke="#8443b0" stroke-width="0.75"/>
<circle cx="465.05" cy="437.14" r="1.45" fill="#fff" stroke="#8443b0" stroke-width="0.75"/>
<circle cx="466.11" cy="437.07" r="1.45" fill="#fff" stroke="#8443b0" stroke-width="0.75"/>
<circle cx="467.18" cy="436.99" r="1.45" fill="#fff" stroke="#8443b0" stroke-width="0.75"/>
<circle cx="468.24" cy="436.91" r="1.45" fill="#fff" stroke="#8443b0" stroke-width="0.75"/>
<circle cx="469.30" cy="436.84" r="1.45" fill="#fff" stroke="#8443b0" stroke-width="0.75"/>
<circle cx="470.37" cy="436.76" r="1.45" fill="#fff" stroke="#8443b0" stroke-width="0.75"/>
<circle cx="471.43" cy="436.69" r="1.45" fill="#fff" stroke="#8443b0" stroke-width="0.75"/>
<circle cx="472.50" cy="436.63" r="1.45" fill="#fff" stroke="#8443b0" stroke-width="0.75"/>
<circle cx="473.56" cy="436.57" r="1.45" fill="#fff" stroke="#8443b0" stroke-width="0.75"/>
<circle cx="474.62" cy="436.52" r="1.45" fill="#fff" stroke="#8443b0" stroke-width="0.75"/>
<circle cx="475.69" cy="436.48" r="1.45" fill="#fff" stroke="#8443b0" stroke-width="0.75"/>
<circle cx="476.75" cy="436.44" r="1.45" fill="#fff" stroke="#8443b0" stroke-width="0.75"/>
<circle cx="477.82" cy="436.41" r="1.45" fill="#fff" stroke="#8443b0" stroke-width="0.75"/>
<circle cx="478.88" cy="436.38" r="1.45" fill="#fff" stroke="#8443b0" stroke-width="0.75"/>
<circle cx="479.94" cy="436.35" r="1.45" fill="#fff" stroke="#8443b0" stroke-width="0.75"/>
<circle cx="481.01" cy="436.32" r="1.45" fill="#fff" stroke="#8443b0" stroke-width="0.75"/>
<circle cx="482.07" cy="436.29" r="1.45" fill="#fff" stroke="#8443b0" stroke-width="0.75"/>
<circle cx="483.14" cy="436.25" r="1.45" fill="#fff" stroke="#8443b0" stroke-width="0.75"/>
<circle cx="484.20" cy="436.21" r="1.45" fill="#fff" stroke="#8443b0" stroke-width="0.75"/>
<circle cx="485.26" cy="436.16" r="1.45" fill="#fff" stroke="#8443b0" stroke-width="0.75"/>
<circle cx="486.33" cy="436.09" r="1.45" fill="#fff" stroke="#8443b0" stroke-width="0.75"/>
<circle cx="487.39" cy="436.01" r="1.45" fill="#fff" stroke="#8443b0" stroke-width="0.75"/>
<circle cx="488.46" cy="435.94" r="1.45" fill="#fff" stroke="#8443b0" stroke-width="0.75"/>
<circle cx="489.52" cy="435.88" r="1.45" fill="#fff" stroke="#8443b0" stroke-width="0.75"/>
<circle cx="490.58" cy="435.84" r="1.45" fill="#fff" stroke="#8443b0" stroke-width="0.75"/>
<circle cx="491.65" cy="435.84" r="1.45" fill="#fff" stroke="#8443b0" stroke-width="0.75"/>
<circle cx="492.71" cy="435.89" r="1.45" fill="#fff" stroke="#8443b0" stroke-width="0.75"/>
<circle cx="493.78" cy="435.98" r="1.45" fill="#fff" stroke="#8443b0" stroke-width="0.75"/>
<circle cx="494.84" cy="436.11" r="1.45" fill="#fff" stroke="#8443b0" stroke-width="0.75"/>
<circle cx="495.90" cy="436.26" r="1.45" fill="#fff" stroke="#8443b0" stroke-width="0.75"/>
<circle cx="496.97" cy="436.43" r="1.45" fill="#fff" stroke="#8443b0" stroke-width="0.75"/>
<circle cx="498.03" cy="436.60" r="1.45" fill="#fff" stroke="#8443b0" stroke-width="0.75"/>
<circle cx="499.10" cy="436.77" r="1.45" fill="#fff" stroke="#8443b0" stroke-width="0.75"/>
<circle cx="500.16" cy="436.92" r="1.45" fill="#fff" stroke="#8443b0" stroke-width="0.75"/>
<circle cx="501.22" cy="437.06" r="1.45" fill="#fff" stroke="#8443b0" stroke-width="0.75"/>
<circle cx="502.29" cy="437.19" r="1.45" fill="#fff" stroke="#8443b0" stroke-width="0.75"/>
<circle cx="503.35" cy="437.32" r="1.45" fill="#fff" stroke="#8443b0" stroke-width="0.75"/>
<circle cx="504.42" cy="437.47" r="1.45" fill="#fff" stroke="#8443b0" stroke-width="0.75"/>
<circle cx="505.48" cy="437.63" r="1.45" fill="#fff" stroke="#8443b0" stroke-width="0.75"/>
<circle cx="506.54" cy="437.84" r="1.45" fill="#fff" stroke="#8443b0" stroke-width="0.75"/>
<circle cx="507.61" cy="438.08" r="1.45" fill="#fff" stroke="#8443b0" stroke-width="0.75"/>
<circle cx="508.67" cy="438.33" r="1.45" fill="#fff" stroke="#8443b0" stroke-width="0.75"/>
<circle cx="509.74" cy="438.54" r="1.45" fill="#fff" stroke="#8443b0" stroke-width="0.75"/>
<circle cx="510.80" cy="438.69" r="1.45" fill="#fff" stroke="#8443b0" stroke-width="0.75"/>
<path d="M413.30,464.0 L417.50,464.0 L415.4,460.0 Z" fill="#111"/>
<line x1="437.50" y1="404.10" x2="445.90" y2="404.10" stroke="#8443b0" stroke-width="0.9"/>
<circle cx="441.70" cy="404.10" r="1.60" fill="#fff" stroke="#8443b0" stroke-width="0.8"/>
<text x="449.40" y="407.60" font-size="7.9" font-family='"Liberation Sans", sans-serif' fill="#231f20" stroke="#231f20" stroke-width="0.18">DAB</text>
<line x1="437.50" y1="414.30" x2="445.90" y2="414.30" stroke="#4a86cc" stroke-width="0.9"/>
<circle cx="441.70" cy="414.30" r="1.60" fill="#fff" stroke="#4a86cc" stroke-width="0.8"/>
<text x="449.60" y="417.40" font-size="7.9" font-family='"Liberation Sans", sans-serif' fill="#231f20" stroke="#231f20" stroke-width="0.18">SEA0400+DAB</text>
<line x1="437.50" y1="425.10" x2="445.90" y2="425.10" stroke="#e0b45a" stroke-width="0.9"/>
<circle cx="441.70" cy="425.10" r="1.60" fill="#fff" stroke="#e0b45a" stroke-width="0.8"/>
<text x="449.40" y="427.90" font-size="7.9" font-family='"Liberation Sans", sans-serif' fill="#231f20" stroke="#231f20" stroke-width="0.18">Nifedipine+DAB</text>
<line x1="563.70" y1="399.30" x2="563.70" y2="475.70" stroke="#4a4a4a" stroke-width="1.2"/>
<line x1="563.20" y1="475.20" x2="677.30" y2="475.20" stroke="#231f20" stroke-width="1"/>
<line x1="560.40" y1="475.20" x2="563.70" y2="475.20" stroke="#231f20" stroke-width="1"/>
<text x="555.60" y="477.80" font-size="7.8" font-family='"Liberation Sans", sans-serif' fill="#231f20" stroke="#231f20" stroke-width="0.18">0</text>
<line x1="560.40" y1="450.07" x2="563.70" y2="450.07" stroke="#231f20" stroke-width="1"/>
<text x="551.30" y="452.67" font-size="7.8" font-family='"Liberation Sans", sans-serif' fill="#231f20" stroke="#231f20" stroke-width="0.18">50</text>
<line x1="560.40" y1="424.93" x2="563.70" y2="424.93" stroke="#231f20" stroke-width="1"/>
<text x="546.90" y="427.53" font-size="7.8" font-family='"Liberation Sans", sans-serif' fill="#231f20" stroke="#231f20" stroke-width="0.18">100</text>
<line x1="560.40" y1="399.80" x2="563.70" y2="399.80" stroke="#231f20" stroke-width="1"/>
<text x="546.90" y="402.40" font-size="7.8" font-family='"Liberation Sans", sans-serif' fill="#231f20" stroke="#231f20" stroke-width="0.18">150</text>
<text transform="translate(539.60,435.70) rotate(-90)" x="-37.65" y="3.10" font-size="8.5" font-family='"Liberation Sans", sans-serif' fill="#231f20" stroke="#231f20" stroke-width="0.18">Fluo-4 A.F.U. (AUC)</text>
<rect x="575.20" y="423.43" width="22.40" height="51.77" fill="#e8caf6" stroke="#8c47b0" stroke-width="0.9"/>
<line x1="586.40" y1="475.20" x2="586.40" y2="478.20" stroke="#231f20" stroke-width="1"/>
<rect x="609.20" y="436.75" width="22.40" height="38.45" fill="#cadef6" stroke="#4a86cc" stroke-width="0.9"/>
<line x1="620.40" y1="475.20" x2="620.40" y2="478.20" stroke="#231f20" stroke-width="1"/>
<rect x="643.20" y="463.14" width="22.40" height="12.06" fill="#f8e3bf" stroke="#e0ae4c" stroke-width="0.9"/>
<line x1="654.40" y1="475.20" x2="654.40" y2="478.20" stroke="#231f20" stroke-width="1"/>
<line x1="586.40" y1="423.50" x2="586.40" y2="419.70" stroke="#9650b4" stroke-width="0.9"/>
<line x1="581.90" y1="419.70" x2="590.90" y2="419.70" stroke="#9650b4" stroke-width="0.9"/>
<line x1="620.40" y1="436.80" x2="620.40" y2="434.50" stroke="#4a86cc" stroke-width="0.9"/>
<line x1="615.90" y1="434.50" x2="624.90" y2="434.50" stroke="#4a86cc" stroke-width="0.9"/>
<line x1="654.40" y1="463.10" x2="654.40" y2="460.50" stroke="#e0ae4c" stroke-width="0.9"/>
<line x1="649.90" y1="460.50" x2="658.90" y2="460.50" stroke="#e0ae4c" stroke-width="0.9"/>
<circle cx="586.10" cy="412.00" r="1.60" fill="none" stroke="#9650b4" stroke-width="0.85"/>
<circle cx="586.10" cy="415.40" r="1.60" fill="none" stroke="#9650b4" stroke-width="0.85"/>
<circle cx="580.30" cy="430.70" r="1.60" fill="none" stroke="#9650b4" stroke-width="0.85"/>
<circle cx="586.60" cy="429.40" r="1.60" fill="none" stroke="#9650b4" stroke-width="0.85"/>
<circle cx="592.30" cy="428.70" r="1.60" fill="none" stroke="#9650b4" stroke-width="0.85"/>
<circle cx="614.20" cy="433.30" r="1.60" fill="none" stroke="#4a86cc" stroke-width="0.85"/>
<circle cx="621.10" cy="435.80" r="1.60" fill="none" stroke="#4a86cc" stroke-width="0.85"/>
<circle cx="627.00" cy="435.00" r="1.60" fill="none" stroke="#4a86cc" stroke-width="0.85"/>
<circle cx="614.20" cy="439.60" r="1.60" fill="none" stroke="#4a86cc" stroke-width="0.85"/>
<circle cx="627.00" cy="438.40" r="1.60" fill="none" stroke="#4a86cc" stroke-width="0.85"/>
<circle cx="620.50" cy="437.50" r="1.60" fill="none" stroke="#4a86cc" stroke-width="0.85"/>
<circle cx="654.40" cy="456.80" r="1.60" fill="none" stroke="#e0ae4c" stroke-width="0.85"/>
<circle cx="648.00" cy="461.90" r="1.60" fill="none" stroke="#e0ae4c" stroke-width="0.85"/>
<circle cx="655.60" cy="463.70" r="1.60" fill="none" stroke="#e0ae4c" stroke-width="0.85"/>
<circle cx="660.70" cy="464.40" r="1.60" fill="none" stroke="#e0ae4c" stroke-width="0.85"/>
<circle cx="648.00" cy="467.50" r="1.60" fill="none" stroke="#e0ae4c" stroke-width="0.85"/>
<path d="M616.80,425.70 L616.80,430.50 M618.88,426.90 L614.72,429.30 M618.88,429.30 L614.72,426.90 " stroke="#4a86cc" stroke-width="0.9" fill="none"/>
<path d="M623.70,425.70 L623.70,430.50 M625.78,426.90 L621.62,429.30 M625.78,429.30 L621.62,426.90 " stroke="#4a86cc" stroke-width="0.9" fill="none"/>
<path d="M650.60,449.90 L658.20,449.90 M650.60,451.90 L658.20,451.90 M652.32,448.40 L651.62,453.40 M654.14,448.40 L653.44,453.40 M655.81,448.40 L655.11,453.40 M657.64,448.40 L656.94,453.40 " stroke="#e0b45a" stroke-width="0.75" fill="none"/>
<text x="577.90" y="486.10" font-size="8.1" font-family='"Liberation Sans", sans-serif' fill="#231f20" stroke="#231f20" stroke-width="0.18">DAB</text>
<text x="612.10" y="486.10" font-size="8.1" font-family='"Liberation Sans", sans-serif' fill="#231f20" stroke="#231f20" stroke-width="0.18">SEA</text>
<text x="609.70" y="495.10" font-size="8.1" font-family='"Liberation Sans", sans-serif' fill="#231f20" stroke="#231f20" stroke-width="0.18">+DAB</text>
<text x="649.05" y="486.10" font-size="8.1" font-family='"Liberation Sans", sans-serif' fill="#231f20" stroke="#231f20" stroke-width="0.18">Nif</text>
<text x="643.70" y="495.10" font-size="8.1" font-family='"Liberation Sans", sans-serif' fill="#231f20" stroke="#231f20" stroke-width="0.18">+DAB</text>
</svg></body></html>
